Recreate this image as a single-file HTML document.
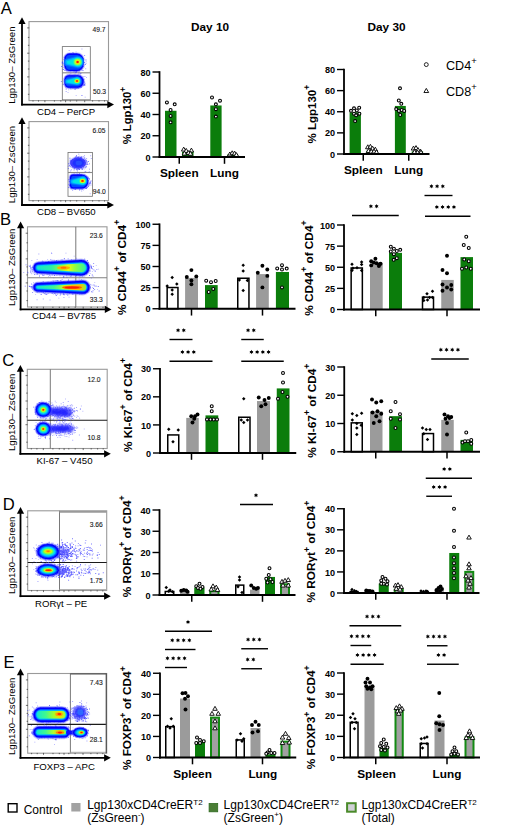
<!DOCTYPE html>
<html><head><meta charset="utf-8"><style>
html,body{margin:0;padding:0;background:#fff;width:520px;height:827px;overflow:hidden}
svg{display:block;font-family:"Liberation Sans", sans-serif}
</style></head><body>
<svg width="520" height="827" viewBox="0 0 520 827">
<defs><filter id="bl" x="-20%" y="-30%" width="140%" height="160%"><feGaussianBlur stdDeviation="0.65"/></filter><filter id="bl2" x="-20%" y="-40%" width="140%" height="180%"><feGaussianBlur stdDeviation="1.1"/></filter><linearGradient id="gB1" gradientUnits="userSpaceOnUse" x1="36" y1="0" x2="88" y2="0"><stop offset="0" stop-color="#10e8d0"/><stop offset="0.3" stop-color="#30f0a0"/><stop offset="0.5" stop-color="#90ff40"/><stop offset="0.62" stop-color="#e8ff10"/><stop offset="0.75" stop-color="#90ff40"/><stop offset="1" stop-color="#20f0b0"/></linearGradient><linearGradient id="gB2" gradientUnits="userSpaceOnUse" x1="36" y1="0" x2="88" y2="0"><stop offset="0" stop-color="#10e8d0"/><stop offset="0.35" stop-color="#40f890"/><stop offset="0.55" stop-color="#c8ff20"/><stop offset="0.7" stop-color="#ffc000"/><stop offset="0.85" stop-color="#ffc000"/><stop offset="1" stop-color="#60ff60"/></linearGradient><linearGradient id="gE1" gradientUnits="userSpaceOnUse" x1="36" y1="0" x2="68" y2="0"><stop offset="0" stop-color="#10e8d0"/><stop offset="0.3" stop-color="#40f890"/><stop offset="0.55" stop-color="#a0ff30"/><stop offset="0.75" stop-color="#f0e000"/><stop offset="0.9" stop-color="#a0ff30"/><stop offset="1" stop-color="#30f0b0"/></linearGradient><linearGradient id="gE2" gradientUnits="userSpaceOnUse" x1="36" y1="0" x2="68" y2="0"><stop offset="0" stop-color="#10e8d0"/><stop offset="0.3" stop-color="#40f890"/><stop offset="0.55" stop-color="#b0ff30"/><stop offset="0.75" stop-color="#ffb000"/><stop offset="0.9" stop-color="#90ff40"/><stop offset="1" stop-color="#30f0b0"/></linearGradient></defs>
<text x="0.7" y="13.8" font-size="16.6">A</text>
<text x="0.0" y="225.2" font-size="16.6">B</text>
<text x="2.3" y="366.4" font-size="16.6">C</text>
<text x="2.7" y="510" font-size="16.6">D</text>
<text x="3.6" y="667.9" font-size="16.6">E</text>
<rect x="29.00" y="21.60" width="79.50" height="79.00" fill="none" stroke="#9a9a9a" stroke-width="1.1"/>
<line x1="27.9" y1="94.3" x2="29.3" y2="94.3" stroke="#333" stroke-width="0.7"/><line x1="27.9" y1="84.8" x2="29.3" y2="84.8" stroke="#333" stroke-width="0.7"/><line x1="27.2" y1="76.9" x2="29.3" y2="76.9" stroke="#333" stroke-width="0.7"/><line x1="27.9" y1="69.0" x2="29.3" y2="69.0" stroke="#333" stroke-width="0.7"/><line x1="27.9" y1="61.1" x2="29.3" y2="61.1" stroke="#333" stroke-width="0.7"/><line x1="27.2" y1="53.2" x2="29.3" y2="53.2" stroke="#333" stroke-width="0.7"/><line x1="27.9" y1="45.3" x2="29.3" y2="45.3" stroke="#333" stroke-width="0.7"/><line x1="27.9" y1="37.4" x2="29.3" y2="37.4" stroke="#333" stroke-width="0.7"/><line x1="27.2" y1="27.9" x2="29.3" y2="27.9" stroke="#333" stroke-width="0.7"/><line x1="33.0" y1="100.3" x2="33.0" y2="101.6" stroke="#333" stroke-width="0.7"/><line x1="38.5" y1="100.3" x2="38.5" y2="101.6" stroke="#333" stroke-width="0.7"/><line x1="44.9" y1="100.3" x2="44.9" y2="102.2" stroke="#333" stroke-width="0.7"/><line x1="54.4" y1="100.3" x2="54.4" y2="101.6" stroke="#333" stroke-width="0.7"/><line x1="60.8" y1="100.3" x2="60.8" y2="101.6" stroke="#333" stroke-width="0.7"/><line x1="65.6" y1="100.3" x2="65.6" y2="102.2" stroke="#333" stroke-width="0.7"/><line x1="70.3" y1="100.3" x2="70.3" y2="101.6" stroke="#333" stroke-width="0.7"/><line x1="76.7" y1="100.3" x2="76.7" y2="101.6" stroke="#333" stroke-width="0.7"/><line x1="84.7" y1="100.3" x2="84.7" y2="102.2" stroke="#333" stroke-width="0.7"/><line x1="92.6" y1="100.3" x2="92.6" y2="101.6" stroke="#333" stroke-width="0.7"/><line x1="99.0" y1="100.3" x2="99.0" y2="101.6" stroke="#333" stroke-width="0.7"/><line x1="104.5" y1="100.3" x2="104.5" y2="101.6" stroke="#333" stroke-width="0.7"/>
<line x1="22" y1="22.3" x2="22" y2="105.5" stroke="#000" stroke-width="1.8"/>
<path d="M18.4 24.0L22 17.3L25.6 24.0Z" fill="#000"/>
<line x1="21.1" y1="104.6" x2="109" y2="104.6" stroke="#000" stroke-width="1.8"/>
<path d="M107.3 101.0L114 104.6L107.3 108.19999999999999Z" fill="#000"/>
<rect x="62.30" y="46.60" width="28.00" height="53.20" fill="none" stroke="#707070" stroke-width="0.8"/>
<text x="105.5" y="31.8" font-size="6.7" text-anchor="end" fill="#1a1a1a" stroke="#1a1a1a" stroke-width="0.12">49.7</text>
<text x="106" y="93.8" font-size="6.7" text-anchor="end" fill="#1a1a1a" stroke="#1a1a1a" stroke-width="0.12">50.3</text>
<line x1="62.3" y1="72.8" x2="90.3" y2="72.8" stroke="#888" stroke-width="1.1"/>
<path d="M78.8 70.1h0.9v0.9h-0.9zM62.7 63.7h0.9v0.9h-0.9zM75.9 71.1h0.9v0.9h-0.9zM61.9 61.5h0.9v0.9h-0.9zM64.9 62.1h0.9v0.9h-0.9zM67.6 68.4h0.9v0.9h-0.9zM63.8 57.0h0.9v0.9h-0.9zM74.9 71.7h0.9v0.9h-0.9zM75.4 75.7h0.9v0.9h-0.9zM73.1 52.8h0.9v0.9h-0.9zM80.4 56.4h0.9v0.9h-0.9zM69.4 69.8h0.9v0.9h-0.9zM61.8 62.6h0.9v0.9h-0.9zM65.9 70.3h0.9v0.9h-0.9zM79.0 69.4h0.9v0.9h-0.9zM82.5 58.5h0.9v0.9h-0.9zM63.8 65.2h0.9v0.9h-0.9zM64.4 63.2h0.9v0.9h-0.9zM78.5 72.7h0.9v0.9h-0.9zM74.7 71.2h0.9v0.9h-0.9zM75.7 53.3h0.9v0.9h-0.9zM84.2 54.9h0.9v0.9h-0.9zM74.1 54.1h0.9v0.9h-0.9zM72.4 52.3h0.9v0.9h-0.9zM82.5 70.1h0.9v0.9h-0.9zM76.6 70.6h0.9v0.9h-0.9zM82.9 58.0h0.9v0.9h-0.9zM67.1 69.3h0.9v0.9h-0.9zM61.3 66.0h0.9v0.9h-0.9zM64.3 69.9h0.9v0.9h-0.9zM84.8 64.1h0.9v0.9h-0.9zM84.2 62.0h0.9v0.9h-0.9zM62.7 62.7h0.9v0.9h-0.9zM73.7 54.1h0.9v0.9h-0.9zM75.7 72.0h0.9v0.9h-0.9zM66.4 55.8h0.9v0.9h-0.9zM77.9 70.4h0.9v0.9h-0.9zM83.0 58.2h0.9v0.9h-0.9zM68.0 70.0h0.9v0.9h-0.9zM81.6 67.8h0.9v0.9h-0.9zM83.0 66.1h0.9v0.9h-0.9zM65.6 69.9h0.9v0.9h-0.9zM69.5 53.6h0.9v0.9h-0.9zM85.5 59.5h0.9v0.9h-0.9zM62.8 69.1h0.9v0.9h-0.9z" fill="#2a2aff" opacity="0.75"/>
<path d="M66.0 57.9h0.9v0.9h-0.9zM81.6 55.9h0.9v0.9h-0.9zM74.0 70.7h0.9v0.9h-0.9zM80.4 56.4h0.9v0.9h-0.9zM77.0 54.2h0.9v0.9h-0.9zM75.6 51.4h0.9v0.9h-0.9zM82.6 65.1h0.9v0.9h-0.9zM73.3 71.0h0.9v0.9h-0.9zM78.9 70.9h0.9v0.9h-0.9zM83.6 66.6h0.9v0.9h-0.9zM85.7 61.3h0.9v0.9h-0.9zM73.5 53.1h0.9v0.9h-0.9zM82.6 60.3h0.9v0.9h-0.9zM64.9 61.1h0.9v0.9h-0.9zM76.0 70.7h0.9v0.9h-0.9zM79.0 54.7h0.9v0.9h-0.9zM63.9 55.7h0.9v0.9h-0.9zM63.2 67.2h0.9v0.9h-0.9zM70.0 71.4h0.9v0.9h-0.9zM64.6 60.6h0.9v0.9h-0.9zM85.6 63.1h0.9v0.9h-0.9zM70.1 54.6h0.9v0.9h-0.9zM66.3 57.8h0.9v0.9h-0.9zM67.4 55.0h0.9v0.9h-0.9zM73.3 72.2h0.9v0.9h-0.9zM63.4 68.8h0.9v0.9h-0.9zM80.4 69.1h0.9v0.9h-0.9zM81.5 67.1h0.9v0.9h-0.9zM65.2 65.1h0.9v0.9h-0.9zM80.5 69.9h0.9v0.9h-0.9zM81.3 69.4h0.9v0.9h-0.9zM64.3 60.2h0.9v0.9h-0.9zM75.8 72.0h0.9v0.9h-0.9zM78.6 70.0h0.9v0.9h-0.9zM71.2 53.2h0.9v0.9h-0.9zM62.9 59.2h0.9v0.9h-0.9zM80.6 56.1h0.9v0.9h-0.9zM75.2 54.3h0.9v0.9h-0.9zM64.9 64.3h0.9v0.9h-0.9zM82.1 65.6h0.9v0.9h-0.9zM71.4 53.5h0.9v0.9h-0.9zM73.6 71.0h0.9v0.9h-0.9zM83.8 64.9h0.9v0.9h-0.9zM65.9 68.4h0.9v0.9h-0.9zM70.4 73.2h0.9v0.9h-0.9z" fill="#5a5aff" opacity="0.5"/>
<path d="M60.9 81.2h0.9v0.9h-0.9zM82.5 85.4h0.9v0.9h-0.9zM64.4 76.7h0.9v0.9h-0.9zM83.1 80.1h0.9v0.9h-0.9zM70.4 87.5h0.9v0.9h-0.9zM63.7 78.6h0.9v0.9h-0.9zM84.1 84.3h0.9v0.9h-0.9zM65.7 88.5h0.9v0.9h-0.9zM69.9 87.4h0.9v0.9h-0.9zM82.1 84.2h0.9v0.9h-0.9zM83.2 84.4h0.9v0.9h-0.9zM62.8 83.9h0.9v0.9h-0.9zM65.6 76.1h0.9v0.9h-0.9zM65.2 83.6h0.9v0.9h-0.9zM63.6 80.6h0.9v0.9h-0.9zM75.6 88.1h0.9v0.9h-0.9zM83.8 83.5h0.9v0.9h-0.9zM71.3 75.2h0.9v0.9h-0.9zM77.9 75.7h0.9v0.9h-0.9zM74.9 88.7h0.9v0.9h-0.9zM65.3 86.5h0.9v0.9h-0.9zM83.1 80.0h0.9v0.9h-0.9zM83.6 85.2h0.9v0.9h-0.9zM72.1 75.3h0.9v0.9h-0.9zM81.4 77.3h0.9v0.9h-0.9zM74.6 73.7h0.9v0.9h-0.9zM68.7 75.1h0.9v0.9h-0.9zM69.4 74.6h0.9v0.9h-0.9zM74.3 88.5h0.9v0.9h-0.9zM66.5 77.0h0.9v0.9h-0.9zM80.4 73.0h0.9v0.9h-0.9zM84.3 81.7h0.9v0.9h-0.9zM70.3 87.4h0.9v0.9h-0.9zM80.5 87.1h0.9v0.9h-0.9zM64.2 79.1h0.9v0.9h-0.9zM83.2 79.1h0.9v0.9h-0.9zM73.5 74.8h0.9v0.9h-0.9zM83.0 79.7h0.9v0.9h-0.9zM71.3 75.3h0.9v0.9h-0.9zM67.3 75.9h0.9v0.9h-0.9z" fill="#2a2aff" opacity="0.75"/>
<path d="M70.1 75.7h0.9v0.9h-0.9zM68.2 89.4h0.9v0.9h-0.9zM73.7 87.9h0.9v0.9h-0.9zM69.8 75.4h0.9v0.9h-0.9zM77.2 87.9h0.9v0.9h-0.9zM66.8 86.0h0.9v0.9h-0.9zM84.2 78.7h0.9v0.9h-0.9zM67.0 77.1h0.9v0.9h-0.9zM72.1 87.9h0.9v0.9h-0.9zM72.5 88.4h0.9v0.9h-0.9zM77.6 87.3h0.9v0.9h-0.9zM77.4 75.7h0.9v0.9h-0.9zM82.5 79.0h0.9v0.9h-0.9zM64.6 81.4h0.9v0.9h-0.9zM84.9 83.2h0.9v0.9h-0.9zM74.7 88.6h0.9v0.9h-0.9zM83.8 81.7h0.9v0.9h-0.9zM70.6 87.2h0.9v0.9h-0.9zM64.0 83.4h0.9v0.9h-0.9zM80.7 86.5h0.9v0.9h-0.9zM76.6 74.9h0.9v0.9h-0.9zM84.5 83.6h0.9v0.9h-0.9zM78.2 88.1h0.9v0.9h-0.9zM75.6 88.2h0.9v0.9h-0.9zM77.7 74.3h0.9v0.9h-0.9zM83.2 75.9h0.9v0.9h-0.9zM83.7 82.1h0.9v0.9h-0.9zM81.6 77.7h0.9v0.9h-0.9zM73.8 75.3h0.9v0.9h-0.9zM83.5 83.9h0.9v0.9h-0.9zM78.4 74.7h0.9v0.9h-0.9zM63.6 82.7h0.9v0.9h-0.9zM77.0 75.2h0.9v0.9h-0.9zM67.8 86.9h0.9v0.9h-0.9zM70.5 88.8h0.9v0.9h-0.9zM84.6 84.8h0.9v0.9h-0.9zM84.7 84.6h0.9v0.9h-0.9zM77.4 87.2h0.9v0.9h-0.9zM72.8 87.7h0.9v0.9h-0.9zM64.7 81.6h0.9v0.9h-0.9z" fill="#5a5aff" opacity="0.5"/>
<path d="M79.0 82.0h0.9v0.9h-0.9zM67.5 53.4h0.9v0.9h-0.9zM84.5 76.0h0.9v0.9h-0.9zM73.0 83.9h0.9v0.9h-0.9zM80.0 75.3h0.9v0.9h-0.9zM65.7 91.0h0.9v0.9h-0.9zM68.7 50.1h0.9v0.9h-0.9zM71.8 75.7h0.9v0.9h-0.9zM77.8 57.1h0.9v0.9h-0.9zM79.6 73.7h0.9v0.9h-0.9zM67.6 92.2h0.9v0.9h-0.9zM81.7 95.1h0.9v0.9h-0.9zM78.9 59.3h0.9v0.9h-0.9zM81.1 94.9h0.9v0.9h-0.9zM75.7 95.2h0.9v0.9h-0.9zM85.3 68.3h0.9v0.9h-0.9zM84.7 96.7h0.9v0.9h-0.9zM81.5 48.6h0.9v0.9h-0.9zM71.7 79.9h0.9v0.9h-0.9zM77.4 87.3h0.9v0.9h-0.9zM78.2 56.4h0.9v0.9h-0.9zM84.5 75.9h0.9v0.9h-0.9zM83.4 58.8h0.9v0.9h-0.9zM86.0 76.9h0.9v0.9h-0.9zM81.1 86.5h0.9v0.9h-0.9z" fill="#4a4aff" opacity="0.55"/>
<g filter="url(#bl)">
<path d="M69.60 52.20 L76.90 52.20 A7.90 7.90 0 0 1 84.80 60.10 L84.80 64.50 A7.90 7.90 0 0 1 76.90 72.40 L69.60 72.40 A6.40 6.40 0 0 1 63.20 66.00 L63.20 58.60 A6.40 6.40 0 0 1 69.60 52.20Z" fill="#6a6aff" opacity="0.35"/>
<path d="M69.60 53.00 L76.90 53.00 A7.10 7.10 0 0 1 84.00 60.10 L84.00 64.50 A7.10 7.10 0 0 1 76.90 71.60 L69.60 71.60 A5.60 5.60 0 0 1 64.00 66.00 L64.00 58.60 A5.60 5.60 0 0 1 69.60 53.00Z" fill="#3535ff" opacity="0.6"/>
<path d="M69.60 53.60 L76.90 53.60 A6.50 6.50 0 0 1 83.40 60.10 L83.40 64.50 A6.50 6.50 0 0 1 76.90 71.00 L69.60 71.00 A5.00 5.00 0 0 1 64.60 66.00 L64.60 58.60 A5.00 5.00 0 0 1 69.60 53.60Z" fill="#0000ff"/>
<path d="M69.60 54.90 L76.90 54.90 A5.20 5.20 0 0 1 82.10 60.10 L82.10 64.50 A5.20 5.20 0 0 1 76.90 69.70 L69.60 69.70 A3.70 3.70 0 0 1 65.90 66.00 L65.90 58.60 A3.70 3.70 0 0 1 69.60 54.90Z" fill="#0048ff"/>
<path d="M66.20 58.65 L77.60 55.74 A6.26 6.26 0 0 1 77.60 68.26 L66.20 65.95 A2.19 3.65 0 0 1 66.20 58.65Z" fill="#0070ff"/>
<path d="M66.80 59.86 L77.60 56.78 A5.22 5.22 0 0 1 77.60 67.22 L66.80 64.74 A1.46 2.44 0 0 1 66.80 59.86Z" fill="#00b4ff"/>
<path d="M67.80 60.91 L77.60 57.65 A4.35 4.35 0 0 1 77.60 66.35 L67.80 63.69 A0.84 1.39 0 0 1 67.80 60.91Z" fill="#00e4e4"/>
<ellipse cx="77.6" cy="62.0" rx="4.21" ry="3.83" fill="#40ff90"/>
<ellipse cx="77.6" cy="62.0" rx="3.25" ry="2.96" fill="#a8ff30"/>
<ellipse cx="77.6" cy="62.0" rx="2.30" ry="2.30" fill="#e8ff10"/>
<ellipse cx="77.6" cy="62.0" rx="1.60" ry="1.60" fill="#ff9a00"/>
<ellipse cx="77.6" cy="62.0" rx="1.10" ry="1.10" fill="#ff1500"/>
</g>
<g filter="url(#bl)">
<path d="M69.10 73.80 L77.60 73.80 A7.40 7.40 0 0 1 85.00 81.20 L85.00 81.80 A7.40 7.40 0 0 1 77.60 89.20 L69.10 89.20 A5.90 5.90 0 0 1 63.20 83.30 L63.20 79.70 A5.90 5.90 0 0 1 69.10 73.80Z" fill="#6a6aff" opacity="0.35"/>
<path d="M69.10 74.60 L77.60 74.60 A6.60 6.60 0 0 1 84.20 81.20 L84.20 81.80 A6.60 6.60 0 0 1 77.60 88.40 L69.10 88.40 A5.10 5.10 0 0 1 64.00 83.30 L64.00 79.70 A5.10 5.10 0 0 1 69.10 74.60Z" fill="#3535ff" opacity="0.6"/>
<path d="M69.10 75.20 L77.60 75.20 A6.00 6.00 0 0 1 83.60 81.20 L83.60 81.80 A6.00 6.00 0 0 1 77.60 87.80 L69.10 87.80 A4.50 4.50 0 0 1 64.60 83.30 L64.60 79.70 A4.50 4.50 0 0 1 69.10 75.20Z" fill="#0000ff"/>
<path d="M69.10 76.50 L77.60 76.50 A4.70 4.70 0 0 1 82.30 81.20 L82.30 81.80 A4.70 4.70 0 0 1 77.60 86.50 L69.10 86.50 A3.20 3.20 0 0 1 65.90 83.30 L65.90 79.70 A3.20 3.20 0 0 1 69.10 76.50Z" fill="#0048ff"/>
<path d="M66.20 78.85 L77.00 76.46 A4.54 4.54 0 0 1 77.00 85.54 L66.20 84.15 A1.59 2.65 0 0 1 66.20 78.85Z" fill="#0070ff"/>
<path d="M66.80 79.74 L77.00 77.22 A3.78 3.78 0 0 1 77.00 84.78 L66.80 83.26 A1.06 1.76 0 0 1 66.80 79.74Z" fill="#00b4ff"/>
<path d="M67.80 80.49 L77.00 77.85 A3.15 3.15 0 0 1 77.00 84.15 L67.80 82.51 A0.60 1.01 0 0 1 67.80 80.49Z" fill="#00e4e4"/>
<ellipse cx="77.0" cy="81.0" rx="3.05" ry="2.08" fill="#40ff90"/>
<ellipse cx="77.0" cy="81.0" rx="2.36" ry="1.61" fill="#a8ff30"/>
<ellipse cx="77.0" cy="81.0" rx="2.30" ry="1.72" fill="#e8ff10"/>
<ellipse cx="77.0" cy="81.0" rx="1.60" ry="1.20" fill="#ff9a00"/>
<ellipse cx="77.0" cy="81.0" rx="1.10" ry="0.83" fill="#ff1500"/>
</g>
<text x="37" y="115.2" font-size="9.6">CD4 – PerCP</text>
<text x="14.6" y="103.8" font-size="9.6" transform="rotate(-90 14.6 103.8)">Lgp130– ZsGreen</text>
<rect x="29.00" y="121.60" width="79.50" height="79.00" fill="none" stroke="#9a9a9a" stroke-width="1.1"/>
<line x1="27.9" y1="194.3" x2="29.3" y2="194.3" stroke="#333" stroke-width="0.7"/><line x1="27.9" y1="184.8" x2="29.3" y2="184.8" stroke="#333" stroke-width="0.7"/><line x1="27.2" y1="176.9" x2="29.3" y2="176.9" stroke="#333" stroke-width="0.7"/><line x1="27.9" y1="169.0" x2="29.3" y2="169.0" stroke="#333" stroke-width="0.7"/><line x1="27.9" y1="161.1" x2="29.3" y2="161.1" stroke="#333" stroke-width="0.7"/><line x1="27.2" y1="153.2" x2="29.3" y2="153.2" stroke="#333" stroke-width="0.7"/><line x1="27.9" y1="145.3" x2="29.3" y2="145.3" stroke="#333" stroke-width="0.7"/><line x1="27.9" y1="137.4" x2="29.3" y2="137.4" stroke="#333" stroke-width="0.7"/><line x1="27.2" y1="127.9" x2="29.3" y2="127.9" stroke="#333" stroke-width="0.7"/><line x1="33.0" y1="200.3" x2="33.0" y2="201.6" stroke="#333" stroke-width="0.7"/><line x1="38.5" y1="200.3" x2="38.5" y2="201.6" stroke="#333" stroke-width="0.7"/><line x1="44.9" y1="200.3" x2="44.9" y2="202.2" stroke="#333" stroke-width="0.7"/><line x1="54.4" y1="200.3" x2="54.4" y2="201.6" stroke="#333" stroke-width="0.7"/><line x1="60.8" y1="200.3" x2="60.8" y2="201.6" stroke="#333" stroke-width="0.7"/><line x1="65.6" y1="200.3" x2="65.6" y2="202.2" stroke="#333" stroke-width="0.7"/><line x1="70.3" y1="200.3" x2="70.3" y2="201.6" stroke="#333" stroke-width="0.7"/><line x1="76.7" y1="200.3" x2="76.7" y2="201.6" stroke="#333" stroke-width="0.7"/><line x1="84.7" y1="200.3" x2="84.7" y2="202.2" stroke="#333" stroke-width="0.7"/><line x1="92.6" y1="200.3" x2="92.6" y2="201.6" stroke="#333" stroke-width="0.7"/><line x1="99.0" y1="200.3" x2="99.0" y2="201.6" stroke="#333" stroke-width="0.7"/><line x1="104.5" y1="200.3" x2="104.5" y2="201.6" stroke="#333" stroke-width="0.7"/>
<line x1="22" y1="122.3" x2="22" y2="205.9" stroke="#000" stroke-width="1.8"/>
<path d="M18.4 124.0L22 117.3L25.6 124.0Z" fill="#000"/>
<line x1="21.1" y1="205" x2="109" y2="205" stroke="#000" stroke-width="1.8"/>
<path d="M107.3 201.4L114 205L107.3 208.6Z" fill="#000"/>
<rect x="68.00" y="152.50" width="24.50" height="43.80" fill="none" stroke="#707070" stroke-width="0.8"/>
<text x="105.5" y="133" font-size="6.7" text-anchor="end" fill="#1a1a1a" stroke="#1a1a1a" stroke-width="0.12">6.05</text>
<text x="105.8" y="193.8" font-size="6.7" text-anchor="end" fill="#1a1a1a" stroke="#1a1a1a" stroke-width="0.12">94.0</text>
<line x1="68" y1="172.5" x2="92.5" y2="172.5" stroke="#888" stroke-width="1.1"/>
<path d="M85.7 166.3h0.9v0.9h-0.9zM85.3 159.9h0.9v0.9h-0.9zM69.5 157.8h0.9v0.9h-0.9zM76.2 168.7h0.9v0.9h-0.9zM83.7 157.4h0.9v0.9h-0.9zM86.7 161.8h0.9v0.9h-0.9zM81.5 156.4h0.9v0.9h-0.9zM87.3 164.0h0.9v0.9h-0.9zM69.6 165.9h0.9v0.9h-0.9zM68.8 165.1h0.9v0.9h-0.9zM79.1 169.1h0.9v0.9h-0.9zM84.8 167.3h0.9v0.9h-0.9zM86.2 160.6h0.9v0.9h-0.9zM81.8 169.0h0.9v0.9h-0.9zM74.3 168.4h0.9v0.9h-0.9zM73.8 168.0h0.9v0.9h-0.9zM72.6 167.3h0.9v0.9h-0.9zM89.0 163.4h0.9v0.9h-0.9zM83.2 167.2h0.9v0.9h-0.9zM77.6 168.6h0.9v0.9h-0.9zM69.9 160.6h0.9v0.9h-0.9zM78.2 157.3h0.9v0.9h-0.9zM75.6 156.0h0.9v0.9h-0.9zM72.4 166.9h0.9v0.9h-0.9zM68.3 163.3h0.9v0.9h-0.9zM80.8 157.1h0.9v0.9h-0.9zM81.4 168.2h0.9v0.9h-0.9zM81.6 168.6h0.9v0.9h-0.9zM80.1 157.0h0.9v0.9h-0.9zM74.6 157.2h0.9v0.9h-0.9z" fill="#2a2aff" opacity="0.75"/>
<path d="M80.4 156.6h0.9v0.9h-0.9zM69.5 159.6h0.9v0.9h-0.9zM80.6 157.1h0.9v0.9h-0.9zM76.7 169.7h0.9v0.9h-0.9zM70.5 166.6h0.9v0.9h-0.9zM87.0 163.1h0.9v0.9h-0.9zM67.8 166.0h0.9v0.9h-0.9zM76.0 157.6h0.9v0.9h-0.9zM83.7 168.6h0.9v0.9h-0.9zM86.1 166.3h0.9v0.9h-0.9zM84.5 157.7h0.9v0.9h-0.9zM70.3 160.6h0.9v0.9h-0.9zM86.4 161.4h0.9v0.9h-0.9zM81.7 168.6h0.9v0.9h-0.9zM76.5 169.0h0.9v0.9h-0.9zM76.3 169.7h0.9v0.9h-0.9zM81.5 168.2h0.9v0.9h-0.9zM85.9 161.4h0.9v0.9h-0.9zM77.6 168.7h0.9v0.9h-0.9zM87.8 161.0h0.9v0.9h-0.9zM79.3 155.8h0.9v0.9h-0.9zM85.8 161.9h0.9v0.9h-0.9zM80.0 157.3h0.9v0.9h-0.9zM85.8 163.8h0.9v0.9h-0.9zM78.2 168.6h0.9v0.9h-0.9zM70.0 160.7h0.9v0.9h-0.9zM78.1 156.0h0.9v0.9h-0.9zM80.7 157.1h0.9v0.9h-0.9zM76.4 156.0h0.9v0.9h-0.9zM71.0 160.5h0.9v0.9h-0.9z" fill="#5a5aff" opacity="0.5"/>
<path d="M83.2 175.5h0.9v0.9h-0.9zM88.7 184.2h0.9v0.9h-0.9zM69.6 184.3h0.9v0.9h-0.9zM69.6 177.4h0.9v0.9h-0.9zM72.8 186.9h0.9v0.9h-0.9zM85.8 187.3h0.9v0.9h-0.9zM87.0 176.9h0.9v0.9h-0.9zM69.8 178.1h0.9v0.9h-0.9zM79.5 174.2h0.9v0.9h-0.9zM86.2 187.8h0.9v0.9h-0.9zM87.1 187.2h0.9v0.9h-0.9zM74.9 189.1h0.9v0.9h-0.9zM72.3 186.4h0.9v0.9h-0.9zM84.8 176.2h0.9v0.9h-0.9zM90.3 182.8h0.9v0.9h-0.9zM89.7 182.2h0.9v0.9h-0.9zM85.2 187.9h0.9v0.9h-0.9zM71.6 178.3h0.9v0.9h-0.9zM79.0 173.3h0.9v0.9h-0.9zM86.1 176.8h0.9v0.9h-0.9zM68.2 186.9h0.9v0.9h-0.9zM88.8 183.0h0.9v0.9h-0.9zM87.4 177.9h0.9v0.9h-0.9zM89.1 178.6h0.9v0.9h-0.9zM69.2 185.1h0.9v0.9h-0.9zM85.4 188.1h0.9v0.9h-0.9zM90.6 180.5h0.9v0.9h-0.9zM75.4 188.4h0.9v0.9h-0.9zM88.0 180.2h0.9v0.9h-0.9zM79.2 189.6h0.9v0.9h-0.9zM76.9 173.7h0.9v0.9h-0.9zM88.1 177.6h0.9v0.9h-0.9zM77.3 174.6h0.9v0.9h-0.9zM88.0 185.8h0.9v0.9h-0.9zM69.4 181.3h0.9v0.9h-0.9zM68.6 179.1h0.9v0.9h-0.9zM71.8 177.7h0.9v0.9h-0.9zM84.4 174.6h0.9v0.9h-0.9zM73.0 175.9h0.9v0.9h-0.9zM68.8 180.8h0.9v0.9h-0.9z" fill="#2a2aff" opacity="0.75"/>
<path d="M84.9 175.9h0.9v0.9h-0.9zM87.4 185.7h0.9v0.9h-0.9zM81.2 189.2h0.9v0.9h-0.9zM89.7 182.0h0.9v0.9h-0.9zM73.3 175.6h0.9v0.9h-0.9zM87.7 185.0h0.9v0.9h-0.9zM76.0 172.3h0.9v0.9h-0.9zM82.1 189.0h0.9v0.9h-0.9zM72.8 187.8h0.9v0.9h-0.9zM81.1 190.5h0.9v0.9h-0.9zM79.4 189.0h0.9v0.9h-0.9zM89.9 181.8h0.9v0.9h-0.9zM69.1 183.7h0.9v0.9h-0.9zM71.5 186.3h0.9v0.9h-0.9zM71.0 188.3h0.9v0.9h-0.9zM86.1 188.1h0.9v0.9h-0.9zM70.4 185.5h0.9v0.9h-0.9zM88.1 183.9h0.9v0.9h-0.9zM90.6 184.5h0.9v0.9h-0.9zM68.3 179.4h0.9v0.9h-0.9zM89.9 180.9h0.9v0.9h-0.9zM82.9 189.7h0.9v0.9h-0.9zM81.3 190.7h0.9v0.9h-0.9zM88.7 182.7h0.9v0.9h-0.9zM88.7 177.9h0.9v0.9h-0.9zM68.1 184.1h0.9v0.9h-0.9zM85.6 175.4h0.9v0.9h-0.9zM86.4 177.0h0.9v0.9h-0.9zM88.5 183.2h0.9v0.9h-0.9zM87.4 176.0h0.9v0.9h-0.9zM86.3 175.8h0.9v0.9h-0.9zM69.8 182.7h0.9v0.9h-0.9zM70.0 176.4h0.9v0.9h-0.9zM89.3 185.0h0.9v0.9h-0.9zM89.7 183.3h0.9v0.9h-0.9zM87.4 177.1h0.9v0.9h-0.9zM72.2 190.1h0.9v0.9h-0.9zM85.9 187.1h0.9v0.9h-0.9zM74.2 189.2h0.9v0.9h-0.9zM87.6 186.0h0.9v0.9h-0.9z" fill="#5a5aff" opacity="0.5"/>
<path d="M85.4 164.3h0.9v0.9h-0.9zM88.8 171.2h0.9v0.9h-0.9zM74.8 162.9h0.9v0.9h-0.9zM88.2 171.9h0.9v0.9h-0.9zM85.3 171.0h0.9v0.9h-0.9zM85.8 160.3h0.9v0.9h-0.9zM84.9 159.1h0.9v0.9h-0.9zM90.8 158.1h0.9v0.9h-0.9zM83.2 156.2h0.9v0.9h-0.9zM69.9 188.4h0.9v0.9h-0.9zM90.3 155.3h0.9v0.9h-0.9zM76.5 169.0h0.9v0.9h-0.9zM70.2 170.6h0.9v0.9h-0.9zM77.1 170.5h0.9v0.9h-0.9zM84.4 171.4h0.9v0.9h-0.9zM69.8 180.5h0.9v0.9h-0.9zM73.7 173.2h0.9v0.9h-0.9zM84.1 155.3h0.9v0.9h-0.9zM89.7 193.3h0.9v0.9h-0.9zM79.7 159.2h0.9v0.9h-0.9z" fill="#4a4aff" opacity="0.55"/>
<path d="M71.4 164.5h0.9v0.9h-0.9zM75.3 156.9h0.9v0.9h-0.9zM78.9 157.8h0.9v0.9h-0.9zM77.3 160.5h0.9v0.9h-0.9zM78.7 168.5h0.9v0.9h-0.9zM74.9 161.6h0.9v0.9h-0.9zM78.8 162.3h0.9v0.9h-0.9zM79.7 161.8h0.9v0.9h-0.9zM73.1 162.0h0.9v0.9h-0.9zM77.5 162.6h0.9v0.9h-0.9zM76.9 162.1h0.9v0.9h-0.9zM79.9 165.0h0.9v0.9h-0.9zM80.3 162.1h0.9v0.9h-0.9zM77.0 157.2h0.9v0.9h-0.9zM81.0 159.7h0.9v0.9h-0.9zM74.1 163.2h0.9v0.9h-0.9zM75.7 166.3h0.9v0.9h-0.9zM83.3 160.0h0.9v0.9h-0.9zM84.2 165.3h0.9v0.9h-0.9zM85.8 163.5h0.9v0.9h-0.9zM78.8 163.6h0.9v0.9h-0.9zM76.8 161.5h0.9v0.9h-0.9zM74.0 162.4h0.9v0.9h-0.9zM79.9 163.9h0.9v0.9h-0.9zM81.2 156.5h0.9v0.9h-0.9zM88.1 161.2h0.9v0.9h-0.9zM79.1 162.6h0.9v0.9h-0.9zM67.9 168.0h0.9v0.9h-0.9zM84.3 157.7h0.9v0.9h-0.9zM77.0 164.3h0.9v0.9h-0.9zM79.7 165.1h0.9v0.9h-0.9zM81.8 164.9h0.9v0.9h-0.9zM78.5 165.9h0.9v0.9h-0.9zM70.9 169.4h0.9v0.9h-0.9zM84.3 161.6h0.9v0.9h-0.9zM76.7 161.2h0.9v0.9h-0.9zM80.8 159.7h0.9v0.9h-0.9zM82.5 167.9h0.9v0.9h-0.9zM74.7 161.3h0.9v0.9h-0.9zM80.5 167.3h0.9v0.9h-0.9zM79.7 164.0h0.9v0.9h-0.9zM79.8 161.7h0.9v0.9h-0.9zM77.2 159.8h0.9v0.9h-0.9zM72.9 163.9h0.9v0.9h-0.9zM76.8 161.6h0.9v0.9h-0.9zM78.9 162.2h0.9v0.9h-0.9zM78.5 158.9h0.9v0.9h-0.9zM73.6 169.5h0.9v0.9h-0.9zM77.1 160.3h0.9v0.9h-0.9zM84.0 159.7h0.9v0.9h-0.9zM79.8 163.8h0.9v0.9h-0.9zM72.4 163.3h0.9v0.9h-0.9zM78.3 153.7h0.9v0.9h-0.9zM80.9 161.3h0.9v0.9h-0.9zM74.5 160.6h0.9v0.9h-0.9zM76.4 161.6h0.9v0.9h-0.9zM75.5 166.3h0.9v0.9h-0.9zM86.2 158.3h0.9v0.9h-0.9zM83.3 161.9h0.9v0.9h-0.9zM89.1 168.7h0.9v0.9h-0.9zM74.6 160.7h0.9v0.9h-0.9zM74.0 161.5h0.9v0.9h-0.9zM76.0 155.1h0.9v0.9h-0.9zM73.6 160.9h0.9v0.9h-0.9zM79.0 161.3h0.9v0.9h-0.9zM75.3 162.7h0.9v0.9h-0.9zM78.3 174.1h0.9v0.9h-0.9zM74.2 165.4h0.9v0.9h-0.9zM76.4 166.0h0.9v0.9h-0.9zM79.0 159.7h0.9v0.9h-0.9z" fill="#2a2aff" opacity="0.6"/>
<g filter="url(#bl)">
<ellipse cx="78.00" cy="163.00" rx="9.20" ry="6.67" fill="#6a6aff" opacity="0.35"/>
<ellipse cx="78.00" cy="163.00" rx="8.00" ry="5.80" fill="#2424ff" opacity="0.85"/>
<ellipse cx="78.30" cy="163.00" rx="5.60" ry="4.06" fill="#1a30ff" opacity="0.85"/>
<ellipse cx="78.80" cy="163.00" rx="3.20" ry="2.32" fill="#2a5aff" opacity="0.7"/>
</g>
<g filter="url(#bl)">
<path d="M73.00 173.20 L81.70 173.20 A7.90 7.90 0 0 1 89.60 181.10 L89.60 182.10 A7.90 7.90 0 0 1 81.70 190.00 L73.00 190.00 A4.40 4.40 0 0 1 68.60 185.60 L68.60 177.60 A4.40 4.40 0 0 1 73.00 173.20Z" fill="#6a6aff" opacity="0.35"/>
<path d="M73.00 174.00 L81.70 174.00 A7.10 7.10 0 0 1 88.80 181.10 L88.80 182.10 A7.10 7.10 0 0 1 81.70 189.20 L73.00 189.20 A3.60 3.60 0 0 1 69.40 185.60 L69.40 177.60 A3.60 3.60 0 0 1 73.00 174.00Z" fill="#3535ff" opacity="0.6"/>
<path d="M73.00 174.60 L81.70 174.60 A6.50 6.50 0 0 1 88.20 181.10 L88.20 182.10 A6.50 6.50 0 0 1 81.70 188.60 L73.00 188.60 A3.00 3.00 0 0 1 70.00 185.60 L70.00 177.60 A3.00 3.00 0 0 1 73.00 174.60Z" fill="#0000ff"/>
<path d="M73.00 175.90 L81.70 175.90 A5.20 5.20 0 0 1 86.90 181.10 L86.90 182.10 A5.20 5.20 0 0 1 81.70 187.30 L73.00 187.30 A1.70 1.70 0 0 1 71.30 185.60 L71.30 177.60 A1.70 1.70 0 0 1 73.00 175.90Z" fill="#0048ff"/>
<path d="M71.60 178.66 L82.50 175.86 A5.04 5.04 0 0 1 82.50 185.94 L71.60 184.54 A1.76 2.94 0 0 1 71.60 178.66Z" fill="#0070ff"/>
<path d="M72.20 179.64 L82.50 176.70 A4.20 4.20 0 0 1 82.50 185.10 L72.20 183.56 A1.18 1.96 0 0 1 72.20 179.64Z" fill="#00b4ff"/>
<path d="M73.20 180.48 L82.50 177.40 A3.50 3.50 0 0 1 82.50 184.40 L73.20 182.72 A0.67 1.12 0 0 1 73.20 180.48Z" fill="#00e4e4"/>
<ellipse cx="82.5" cy="180.9" rx="3.39" ry="2.46" fill="#40ff90"/>
<ellipse cx="82.5" cy="180.9" rx="2.62" ry="1.90" fill="#a8ff30"/>
<ellipse cx="82.5" cy="180.9" rx="2.30" ry="1.84" fill="#e8ff10"/>
<ellipse cx="82.5" cy="180.9" rx="1.60" ry="1.28" fill="#ff9a00"/>
<ellipse cx="82.5" cy="180.9" rx="1.10" ry="0.88" fill="#ff1500"/>
</g>
<text x="37" y="215.3" font-size="9.6">CD8 – BV650</text>
<text x="14.6" y="203.2" font-size="9.6" transform="rotate(-90 14.6 203.2)">Lgp130– ZsGreen</text>
<rect x="27.50" y="226.80" width="79.50" height="80.20" fill="none" stroke="#9a9a9a" stroke-width="1.1"/>
<line x1="26.4" y1="300.6" x2="27.8" y2="300.6" stroke="#333" stroke-width="0.7"/><line x1="26.4" y1="291.0" x2="27.8" y2="291.0" stroke="#333" stroke-width="0.7"/><line x1="25.7" y1="282.9" x2="27.8" y2="282.9" stroke="#333" stroke-width="0.7"/><line x1="26.4" y1="274.9" x2="27.8" y2="274.9" stroke="#333" stroke-width="0.7"/><line x1="26.4" y1="266.9" x2="27.8" y2="266.9" stroke="#333" stroke-width="0.7"/><line x1="25.7" y1="258.9" x2="27.8" y2="258.9" stroke="#333" stroke-width="0.7"/><line x1="26.4" y1="250.9" x2="27.8" y2="250.9" stroke="#333" stroke-width="0.7"/><line x1="26.4" y1="242.8" x2="27.8" y2="242.8" stroke="#333" stroke-width="0.7"/><line x1="25.7" y1="233.2" x2="27.8" y2="233.2" stroke="#333" stroke-width="0.7"/><line x1="31.5" y1="306.7" x2="31.5" y2="308.0" stroke="#333" stroke-width="0.7"/><line x1="37.0" y1="306.7" x2="37.0" y2="308.0" stroke="#333" stroke-width="0.7"/><line x1="43.4" y1="306.7" x2="43.4" y2="308.6" stroke="#333" stroke-width="0.7"/><line x1="52.9" y1="306.7" x2="52.9" y2="308.0" stroke="#333" stroke-width="0.7"/><line x1="59.3" y1="306.7" x2="59.3" y2="308.0" stroke="#333" stroke-width="0.7"/><line x1="64.1" y1="306.7" x2="64.1" y2="308.6" stroke="#333" stroke-width="0.7"/><line x1="68.8" y1="306.7" x2="68.8" y2="308.0" stroke="#333" stroke-width="0.7"/><line x1="75.2" y1="306.7" x2="75.2" y2="308.0" stroke="#333" stroke-width="0.7"/><line x1="83.2" y1="306.7" x2="83.2" y2="308.6" stroke="#333" stroke-width="0.7"/><line x1="91.1" y1="306.7" x2="91.1" y2="308.0" stroke="#333" stroke-width="0.7"/><line x1="97.5" y1="306.7" x2="97.5" y2="308.0" stroke="#333" stroke-width="0.7"/><line x1="103.0" y1="306.7" x2="103.0" y2="308.0" stroke="#333" stroke-width="0.7"/>
<line x1="20.6" y1="226.6" x2="20.6" y2="310.29999999999995" stroke="#000" stroke-width="1.8"/>
<path d="M17.0 228.29999999999998L20.6 221.6L24.200000000000003 228.29999999999998Z" fill="#000"/>
<line x1="19.700000000000003" y1="309.4" x2="106.5" y2="309.4" stroke="#000" stroke-width="1.8"/>
<path d="M104.8 305.79999999999995L111.5 309.4L104.8 313.0Z" fill="#000"/>
<line x1="75.8" y1="226.8" x2="75.8" y2="307" stroke="#6a6a6a" stroke-width="0.9"/>
<line x1="27.5" y1="277.7" x2="107" y2="277.7" stroke="#808080" stroke-width="1.1"/>
<text x="102.8" y="238.4" font-size="6.7" text-anchor="end" fill="#1a1a1a" stroke="#1a1a1a" stroke-width="0.12">23.6</text>
<text x="102.8" y="302.4" font-size="6.7" text-anchor="end" fill="#1a1a1a" stroke="#1a1a1a" stroke-width="0.12">33.3</text>
<path d="M30.5 268.6h0.9v0.9h-0.9zM34.7 263.1h0.9v0.9h-0.9zM95.0 270.7h0.9v0.9h-0.9zM34.3 274.1h0.9v0.9h-0.9zM92.9 265.9h0.9v0.9h-0.9zM25.6 264.4h0.9v0.9h-0.9zM43.6 274.5h0.9v0.9h-0.9zM32.2 266.5h0.9v0.9h-0.9zM76.1 275.1h0.9v0.9h-0.9zM34.8 265.3h0.9v0.9h-0.9zM34.2 271.4h0.9v0.9h-0.9zM61.4 259.6h0.9v0.9h-0.9zM93.4 269.4h0.9v0.9h-0.9zM92.0 268.4h0.9v0.9h-0.9zM36.7 273.7h0.9v0.9h-0.9zM29.2 265.8h0.9v0.9h-0.9zM90.7 265.6h0.9v0.9h-0.9zM63.9 258.2h0.9v0.9h-0.9zM30.4 267.0h0.9v0.9h-0.9zM70.6 275.6h0.9v0.9h-0.9zM85.6 271.8h0.9v0.9h-0.9zM93.2 263.2h0.9v0.9h-0.9zM54.0 275.1h0.9v0.9h-0.9zM78.4 261.4h0.9v0.9h-0.9zM33.5 268.7h0.9v0.9h-0.9zM47.5 274.1h0.9v0.9h-0.9zM80.2 275.2h0.9v0.9h-0.9zM70.8 274.5h0.9v0.9h-0.9zM79.5 262.2h0.9v0.9h-0.9zM48.1 261.0h0.9v0.9h-0.9zM27.4 272.3h0.9v0.9h-0.9zM91.1 267.6h0.9v0.9h-0.9zM87.0 260.0h0.9v0.9h-0.9zM37.1 273.3h0.9v0.9h-0.9zM32.6 267.0h0.9v0.9h-0.9zM89.6 270.5h0.9v0.9h-0.9zM39.1 275.6h0.9v0.9h-0.9zM42.1 260.8h0.9v0.9h-0.9zM76.5 274.4h0.9v0.9h-0.9zM29.9 265.8h0.9v0.9h-0.9zM56.0 260.4h0.9v0.9h-0.9zM85.0 272.4h0.9v0.9h-0.9zM91.8 274.6h0.9v0.9h-0.9zM66.5 276.7h0.9v0.9h-0.9zM51.7 274.6h0.9v0.9h-0.9zM30.5 267.6h0.9v0.9h-0.9zM50.4 259.3h0.9v0.9h-0.9zM89.1 267.4h0.9v0.9h-0.9zM43.4 261.4h0.9v0.9h-0.9zM81.8 261.5h0.9v0.9h-0.9zM67.7 258.4h0.9v0.9h-0.9zM85.5 272.5h0.9v0.9h-0.9zM88.1 262.2h0.9v0.9h-0.9zM79.8 261.1h0.9v0.9h-0.9zM85.9 264.4h0.9v0.9h-0.9zM96.4 269.2h0.9v0.9h-0.9zM33.8 267.9h0.9v0.9h-0.9zM86.5 271.9h0.9v0.9h-0.9zM34.8 269.9h0.9v0.9h-0.9zM87.6 264.8h0.9v0.9h-0.9zM63.3 275.9h0.9v0.9h-0.9zM89.4 266.3h0.9v0.9h-0.9zM41.2 273.4h0.9v0.9h-0.9zM86.0 273.6h0.9v0.9h-0.9zM91.2 267.9h0.9v0.9h-0.9zM75.9 274.9h0.9v0.9h-0.9zM31.5 269.6h0.9v0.9h-0.9zM49.0 274.5h0.9v0.9h-0.9zM31.8 271.3h0.9v0.9h-0.9zM63.3 276.8h0.9v0.9h-0.9zM86.4 272.2h0.9v0.9h-0.9zM85.4 273.1h0.9v0.9h-0.9zM89.0 275.0h0.9v0.9h-0.9zM42.1 274.6h0.9v0.9h-0.9zM91.0 266.6h0.9v0.9h-0.9zM30.2 271.6h0.9v0.9h-0.9zM56.0 260.1h0.9v0.9h-0.9zM81.7 262.7h0.9v0.9h-0.9zM84.6 272.5h0.9v0.9h-0.9zM52.5 259.8h0.9v0.9h-0.9z" fill="#2a2aff" opacity="0.75"/>
<path d="M33.4 272.5h0.9v0.9h-0.9zM31.7 267.3h0.9v0.9h-0.9zM66.1 274.9h0.9v0.9h-0.9zM89.7 273.1h0.9v0.9h-0.9zM30.1 264.8h0.9v0.9h-0.9zM50.9 260.4h0.9v0.9h-0.9zM84.2 263.1h0.9v0.9h-0.9zM98.2 268.7h0.9v0.9h-0.9zM34.9 264.4h0.9v0.9h-0.9zM84.5 261.8h0.9v0.9h-0.9zM59.9 259.7h0.9v0.9h-0.9zM82.1 276.0h0.9v0.9h-0.9zM62.4 259.6h0.9v0.9h-0.9zM76.2 257.8h0.9v0.9h-0.9zM53.3 277.4h0.9v0.9h-0.9zM88.2 272.1h0.9v0.9h-0.9zM73.7 260.1h0.9v0.9h-0.9zM82.6 273.1h0.9v0.9h-0.9zM38.9 273.1h0.9v0.9h-0.9zM77.3 260.8h0.9v0.9h-0.9zM75.9 273.8h0.9v0.9h-0.9zM91.0 266.7h0.9v0.9h-0.9zM34.3 264.3h0.9v0.9h-0.9zM91.9 270.9h0.9v0.9h-0.9zM83.2 262.2h0.9v0.9h-0.9zM79.4 276.3h0.9v0.9h-0.9zM80.7 261.1h0.9v0.9h-0.9zM95.8 265.2h0.9v0.9h-0.9zM81.9 261.6h0.9v0.9h-0.9zM23.3 272.1h0.9v0.9h-0.9zM40.9 272.6h0.9v0.9h-0.9zM46.4 260.9h0.9v0.9h-0.9zM86.0 273.2h0.9v0.9h-0.9zM54.4 260.5h0.9v0.9h-0.9zM81.0 262.4h0.9v0.9h-0.9zM42.9 275.0h0.9v0.9h-0.9zM40.8 261.3h0.9v0.9h-0.9zM48.2 275.9h0.9v0.9h-0.9zM53.9 259.8h0.9v0.9h-0.9zM47.6 261.2h0.9v0.9h-0.9zM38.4 262.7h0.9v0.9h-0.9zM36.4 273.7h0.9v0.9h-0.9zM77.0 273.7h0.9v0.9h-0.9zM33.9 272.3h0.9v0.9h-0.9zM33.3 268.0h0.9v0.9h-0.9zM45.0 261.3h0.9v0.9h-0.9zM34.6 266.6h0.9v0.9h-0.9zM30.1 270.3h0.9v0.9h-0.9zM32.0 269.0h0.9v0.9h-0.9zM86.9 272.6h0.9v0.9h-0.9zM94.3 270.6h0.9v0.9h-0.9zM87.8 263.6h0.9v0.9h-0.9zM68.7 275.4h0.9v0.9h-0.9zM71.8 260.7h0.9v0.9h-0.9zM30.8 272.7h0.9v0.9h-0.9zM57.6 259.8h0.9v0.9h-0.9zM42.8 261.3h0.9v0.9h-0.9zM63.9 258.5h0.9v0.9h-0.9zM32.5 270.2h0.9v0.9h-0.9zM89.9 264.5h0.9v0.9h-0.9zM66.0 274.9h0.9v0.9h-0.9zM80.7 273.1h0.9v0.9h-0.9zM87.0 264.4h0.9v0.9h-0.9zM39.9 273.3h0.9v0.9h-0.9zM28.5 265.4h0.9v0.9h-0.9zM49.1 261.2h0.9v0.9h-0.9zM47.2 258.9h0.9v0.9h-0.9zM27.1 271.4h0.9v0.9h-0.9zM56.4 275.1h0.9v0.9h-0.9zM50.0 275.5h0.9v0.9h-0.9zM47.6 260.9h0.9v0.9h-0.9zM65.8 259.9h0.9v0.9h-0.9zM74.7 261.0h0.9v0.9h-0.9zM84.7 263.4h0.9v0.9h-0.9zM88.7 265.3h0.9v0.9h-0.9zM34.1 266.5h0.9v0.9h-0.9zM38.1 271.5h0.9v0.9h-0.9zM71.0 259.1h0.9v0.9h-0.9zM74.3 274.4h0.9v0.9h-0.9zM45.9 274.2h0.9v0.9h-0.9z" fill="#5a5aff" opacity="0.5"/>
<path d="M36.4 282.8h0.9v0.9h-0.9zM40.7 281.9h0.9v0.9h-0.9zM79.4 293.8h0.9v0.9h-0.9zM67.2 281.1h0.9v0.9h-0.9zM68.1 280.6h0.9v0.9h-0.9zM90.0 287.2h0.9v0.9h-0.9zM42.7 281.3h0.9v0.9h-0.9zM28.8 285.7h0.9v0.9h-0.9zM40.8 283.4h0.9v0.9h-0.9zM64.3 281.3h0.9v0.9h-0.9zM52.7 281.2h0.9v0.9h-0.9zM98.7 290.6h0.9v0.9h-0.9zM60.2 280.3h0.9v0.9h-0.9zM74.7 282.1h0.9v0.9h-0.9zM55.2 293.6h0.9v0.9h-0.9zM30.3 285.9h0.9v0.9h-0.9zM36.6 291.9h0.9v0.9h-0.9zM46.3 294.1h0.9v0.9h-0.9zM29.0 286.0h0.9v0.9h-0.9zM31.3 286.0h0.9v0.9h-0.9zM95.4 285.7h0.9v0.9h-0.9zM55.8 295.0h0.9v0.9h-0.9zM40.8 291.3h0.9v0.9h-0.9zM35.2 285.3h0.9v0.9h-0.9zM69.1 293.2h0.9v0.9h-0.9zM43.7 293.2h0.9v0.9h-0.9zM74.5 281.6h0.9v0.9h-0.9zM39.3 283.1h0.9v0.9h-0.9zM37.6 283.8h0.9v0.9h-0.9zM44.7 293.4h0.9v0.9h-0.9zM67.7 281.4h0.9v0.9h-0.9zM91.2 291.3h0.9v0.9h-0.9zM60.3 293.6h0.9v0.9h-0.9zM77.6 292.2h0.9v0.9h-0.9zM94.2 288.9h0.9v0.9h-0.9zM32.2 291.9h0.9v0.9h-0.9zM93.5 284.5h0.9v0.9h-0.9zM79.5 282.7h0.9v0.9h-0.9zM33.9 285.1h0.9v0.9h-0.9zM93.1 288.1h0.9v0.9h-0.9zM31.7 287.3h0.9v0.9h-0.9zM82.5 283.2h0.9v0.9h-0.9zM84.9 283.6h0.9v0.9h-0.9zM63.7 294.3h0.9v0.9h-0.9zM57.7 280.5h0.9v0.9h-0.9zM40.7 294.1h0.9v0.9h-0.9zM83.6 282.1h0.9v0.9h-0.9zM62.7 281.2h0.9v0.9h-0.9zM83.8 293.4h0.9v0.9h-0.9zM54.2 293.1h0.9v0.9h-0.9zM37.6 290.7h0.9v0.9h-0.9zM64.4 281.3h0.9v0.9h-0.9zM87.0 284.5h0.9v0.9h-0.9zM57.1 280.4h0.9v0.9h-0.9zM97.8 286.1h0.9v0.9h-0.9zM76.8 293.0h0.9v0.9h-0.9zM81.4 293.6h0.9v0.9h-0.9zM72.2 281.5h0.9v0.9h-0.9zM55.7 280.3h0.9v0.9h-0.9zM61.0 280.7h0.9v0.9h-0.9zM24.8 285.7h0.9v0.9h-0.9zM68.0 279.4h0.9v0.9h-0.9zM67.2 281.0h0.9v0.9h-0.9zM56.8 293.7h0.9v0.9h-0.9zM83.9 291.2h0.9v0.9h-0.9zM42.9 291.7h0.9v0.9h-0.9zM79.9 281.9h0.9v0.9h-0.9zM87.2 289.5h0.9v0.9h-0.9zM51.7 293.1h0.9v0.9h-0.9zM35.6 285.1h0.9v0.9h-0.9zM88.5 289.0h0.9v0.9h-0.9zM31.3 287.3h0.9v0.9h-0.9zM57.0 280.2h0.9v0.9h-0.9zM72.3 293.5h0.9v0.9h-0.9zM88.7 285.0h0.9v0.9h-0.9zM67.2 294.5h0.9v0.9h-0.9zM50.7 281.6h0.9v0.9h-0.9zM44.9 293.6h0.9v0.9h-0.9zM42.9 292.1h0.9v0.9h-0.9zM63.0 293.5h0.9v0.9h-0.9z" fill="#2a2aff" opacity="0.75"/>
<path d="M90.3 284.1h0.9v0.9h-0.9zM63.1 280.9h0.9v0.9h-0.9zM69.3 281.0h0.9v0.9h-0.9zM31.9 286.1h0.9v0.9h-0.9zM85.1 292.7h0.9v0.9h-0.9zM87.7 290.6h0.9v0.9h-0.9zM44.8 292.0h0.9v0.9h-0.9zM88.8 289.6h0.9v0.9h-0.9zM94.2 285.4h0.9v0.9h-0.9zM32.1 289.2h0.9v0.9h-0.9zM30.0 286.7h0.9v0.9h-0.9zM95.9 285.7h0.9v0.9h-0.9zM93.9 285.6h0.9v0.9h-0.9zM39.5 282.7h0.9v0.9h-0.9zM87.6 284.3h0.9v0.9h-0.9zM67.5 293.1h0.9v0.9h-0.9zM34.3 286.2h0.9v0.9h-0.9zM68.4 294.4h0.9v0.9h-0.9zM89.8 286.0h0.9v0.9h-0.9zM54.6 280.3h0.9v0.9h-0.9zM47.7 281.5h0.9v0.9h-0.9zM87.2 283.5h0.9v0.9h-0.9zM46.6 282.3h0.9v0.9h-0.9zM92.3 291.9h0.9v0.9h-0.9zM71.8 293.5h0.9v0.9h-0.9zM87.6 291.6h0.9v0.9h-0.9zM81.3 281.6h0.9v0.9h-0.9zM88.3 289.1h0.9v0.9h-0.9zM40.6 291.7h0.9v0.9h-0.9zM65.9 293.9h0.9v0.9h-0.9zM52.5 280.2h0.9v0.9h-0.9zM63.7 293.7h0.9v0.9h-0.9zM87.9 288.6h0.9v0.9h-0.9zM37.6 291.8h0.9v0.9h-0.9zM59.7 295.0h0.9v0.9h-0.9zM31.7 288.0h0.9v0.9h-0.9zM86.7 291.7h0.9v0.9h-0.9zM46.4 292.9h0.9v0.9h-0.9zM93.2 290.3h0.9v0.9h-0.9zM89.2 290.4h0.9v0.9h-0.9zM36.1 289.9h0.9v0.9h-0.9zM90.2 287.9h0.9v0.9h-0.9zM39.5 283.4h0.9v0.9h-0.9zM52.9 293.5h0.9v0.9h-0.9zM94.3 281.9h0.9v0.9h-0.9zM33.0 282.2h0.9v0.9h-0.9zM47.7 293.0h0.9v0.9h-0.9zM89.2 288.0h0.9v0.9h-0.9zM75.7 282.3h0.9v0.9h-0.9zM63.2 293.4h0.9v0.9h-0.9zM97.1 288.9h0.9v0.9h-0.9zM31.2 283.3h0.9v0.9h-0.9zM78.7 278.6h0.9v0.9h-0.9zM35.8 284.6h0.9v0.9h-0.9zM62.7 293.8h0.9v0.9h-0.9zM78.8 280.9h0.9v0.9h-0.9zM79.2 292.8h0.9v0.9h-0.9zM84.4 292.4h0.9v0.9h-0.9zM87.6 285.5h0.9v0.9h-0.9zM33.2 286.3h0.9v0.9h-0.9zM53.3 280.6h0.9v0.9h-0.9zM72.8 293.6h0.9v0.9h-0.9zM42.4 292.0h0.9v0.9h-0.9zM40.8 282.7h0.9v0.9h-0.9zM83.0 283.7h0.9v0.9h-0.9zM88.6 291.4h0.9v0.9h-0.9zM82.9 282.4h0.9v0.9h-0.9zM39.2 291.9h0.9v0.9h-0.9zM92.0 290.6h0.9v0.9h-0.9zM36.0 283.9h0.9v0.9h-0.9zM41.5 282.5h0.9v0.9h-0.9zM31.6 287.3h0.9v0.9h-0.9zM33.6 289.6h0.9v0.9h-0.9zM77.6 293.1h0.9v0.9h-0.9zM37.1 284.4h0.9v0.9h-0.9zM73.8 292.8h0.9v0.9h-0.9zM31.3 284.0h0.9v0.9h-0.9zM38.4 283.6h0.9v0.9h-0.9zM35.2 294.2h0.9v0.9h-0.9zM60.1 293.5h0.9v0.9h-0.9z" fill="#5a5aff" opacity="0.5"/>
<path d="M55.1 282.3h0.9v0.9h-0.9zM90.9 277.7h0.9v0.9h-0.9zM92.2 297.4h0.9v0.9h-0.9zM70.5 267.2h0.9v0.9h-0.9zM81.0 279.3h0.9v0.9h-0.9zM63.5 297.0h0.9v0.9h-0.9zM68.6 296.7h0.9v0.9h-0.9zM92.6 275.8h0.9v0.9h-0.9zM70.3 276.2h0.9v0.9h-0.9zM75.1 281.5h0.9v0.9h-0.9zM59.5 275.3h0.9v0.9h-0.9zM65.5 252.7h0.9v0.9h-0.9zM78.3 285.7h0.9v0.9h-0.9zM92.2 286.9h0.9v0.9h-0.9zM65.8 286.7h0.9v0.9h-0.9zM31.4 259.9h0.9v0.9h-0.9zM71.9 270.7h0.9v0.9h-0.9zM61.7 279.1h0.9v0.9h-0.9zM58.4 297.7h0.9v0.9h-0.9zM44.7 286.9h0.9v0.9h-0.9zM51.3 253.1h0.9v0.9h-0.9zM54.8 272.3h0.9v0.9h-0.9zM31.4 273.4h0.9v0.9h-0.9zM73.7 255.7h0.9v0.9h-0.9zM91.6 284.7h0.9v0.9h-0.9zM83.2 260.6h0.9v0.9h-0.9zM49.6 299.5h0.9v0.9h-0.9zM56.2 260.4h0.9v0.9h-0.9zM79.9 280.5h0.9v0.9h-0.9zM51.0 252.6h0.9v0.9h-0.9zM53.1 269.5h0.9v0.9h-0.9zM56.3 286.8h0.9v0.9h-0.9zM74.6 281.5h0.9v0.9h-0.9zM36.6 299.3h0.9v0.9h-0.9zM38.4 253.6h0.9v0.9h-0.9zM63.1 293.4h0.9v0.9h-0.9zM84.9 269.3h0.9v0.9h-0.9zM36.7 258.9h0.9v0.9h-0.9zM42.8 298.5h0.9v0.9h-0.9zM84.2 258.5h0.9v0.9h-0.9z" fill="#4a4aff" opacity="0.55"/>
<g filter="url(#bl)">
<path d="M38.65 260.95 L81.55 258.45 A9.35 9.35 0 0 1 81.55 277.15 L38.65 274.65 A6.85 6.85 0 0 1 38.65 260.95Z" fill="#6a6aff" opacity="0.35"/>
<path d="M38.65 261.85 L81.55 259.35 A8.45 8.45 0 0 1 81.55 276.25 L38.65 273.75 A5.95 5.95 0 0 1 38.65 261.85Z" fill="#3535ff" opacity="0.6"/>
<path d="M38.65 262.55 L81.55 260.05 A7.75 7.75 0 0 1 81.55 275.55 L38.65 273.05 A5.25 5.25 0 0 1 38.65 262.55Z" fill="#0000ff"/>
<path d="M38.65 263.95 L81.55 261.45 A6.35 6.35 0 0 1 81.55 274.15 L38.65 271.65 A3.85 3.85 0 0 1 38.65 263.95Z" fill="#0030ff"/>
<path d="M38.65 264.65 L81.55 262.15 A5.65 5.65 0 0 1 81.55 273.45 L38.65 270.95 A3.15 3.15 0 0 1 38.65 264.65Z" fill="#0080ff"/>
<path d="M38.65 265.35 L81.55 262.85 A4.95 4.95 0 0 1 81.55 272.75 L38.65 270.25 A2.45 2.45 0 0 1 38.65 265.35Z" fill="#00c8ff"/>
<path d="M38.65 266.05 L81.55 263.55 A4.25 4.25 0 0 1 81.55 272.05 L38.65 269.55 A1.75 1.75 0 0 1 38.65 266.05Z" fill="url(#gB1)"/>
<ellipse cx="63.5" cy="267.8" rx="6.5" ry="1.8" fill="#ffb000"/>
<ellipse cx="63.5" cy="267.8" rx="3" ry="1.0" fill="#ff7000"/>
</g>
<g filter="url(#bl)">
<path d="M37.65 281.45 L83.00 279.20 A8.10 8.10 0 0 1 83.00 295.40 L37.65 293.15 A5.85 5.85 0 0 1 37.65 281.45Z" fill="#6a6aff" opacity="0.35"/>
<path d="M37.65 282.35 L83.00 280.10 A7.20 7.20 0 0 1 83.00 294.50 L37.65 292.25 A4.95 4.95 0 0 1 37.65 282.35Z" fill="#3535ff" opacity="0.6"/>
<path d="M37.65 283.05 L83.00 280.80 A6.50 6.50 0 0 1 83.00 293.80 L37.65 291.55 A4.25 4.25 0 0 1 37.65 283.05Z" fill="#0000ff"/>
<path d="M37.65 284.45 L83.00 282.20 A5.10 5.10 0 0 1 83.00 292.40 L37.65 290.15 A2.85 2.85 0 0 1 37.65 284.45Z" fill="#0030ff"/>
<path d="M37.65 285.15 L83.00 282.90 A4.40 4.40 0 0 1 83.00 291.70 L37.65 289.45 A2.15 2.15 0 0 1 37.65 285.15Z" fill="#0080ff"/>
<path d="M37.65 285.85 L83.00 283.60 A3.70 3.70 0 0 1 83.00 291.00 L37.65 288.75 A1.45 1.45 0 0 1 37.65 285.85Z" fill="#00c8ff"/>
<path d="M37.65 286.35 L83.00 284.10 A3.20 3.20 0 0 1 83.00 290.50 L37.65 288.25 A0.95 0.95 0 0 1 37.65 286.35Z" fill="url(#gB2)"/>
<ellipse cx="72" cy="287.5" rx="10" ry="1.6" fill="#ff6000"/>
<ellipse cx="72" cy="287.5" rx="7" ry="1.0" fill="#ff1a00"/>
</g>
<text x="32" y="319" font-size="9.6">CD44 – BV785</text>
<text x="14.5" y="306" font-size="9.6" transform="rotate(-90 14.5 306)">Lgp130– ZsGreen</text>
<rect x="27.30" y="369.30" width="79.90" height="79.20" fill="none" stroke="#9a9a9a" stroke-width="1.1"/>
<line x1="26.2" y1="442.2" x2="27.6" y2="442.2" stroke="#333" stroke-width="0.7"/><line x1="26.2" y1="432.7" x2="27.6" y2="432.7" stroke="#333" stroke-width="0.7"/><line x1="25.5" y1="424.7" x2="27.6" y2="424.7" stroke="#333" stroke-width="0.7"/><line x1="26.2" y1="416.8" x2="27.6" y2="416.8" stroke="#333" stroke-width="0.7"/><line x1="26.2" y1="408.9" x2="27.6" y2="408.9" stroke="#333" stroke-width="0.7"/><line x1="25.5" y1="401.0" x2="27.6" y2="401.0" stroke="#333" stroke-width="0.7"/><line x1="26.2" y1="393.1" x2="27.6" y2="393.1" stroke="#333" stroke-width="0.7"/><line x1="26.2" y1="385.1" x2="27.6" y2="385.1" stroke="#333" stroke-width="0.7"/><line x1="25.5" y1="375.6" x2="27.6" y2="375.6" stroke="#333" stroke-width="0.7"/><line x1="31.3" y1="448.2" x2="31.3" y2="449.5" stroke="#333" stroke-width="0.7"/><line x1="36.9" y1="448.2" x2="36.9" y2="449.5" stroke="#333" stroke-width="0.7"/><line x1="43.3" y1="448.2" x2="43.3" y2="450.1" stroke="#333" stroke-width="0.7"/><line x1="52.9" y1="448.2" x2="52.9" y2="449.5" stroke="#333" stroke-width="0.7"/><line x1="59.3" y1="448.2" x2="59.3" y2="449.5" stroke="#333" stroke-width="0.7"/><line x1="64.1" y1="448.2" x2="64.1" y2="450.1" stroke="#333" stroke-width="0.7"/><line x1="68.8" y1="448.2" x2="68.8" y2="449.5" stroke="#333" stroke-width="0.7"/><line x1="75.2" y1="448.2" x2="75.2" y2="449.5" stroke="#333" stroke-width="0.7"/><line x1="83.2" y1="448.2" x2="83.2" y2="450.1" stroke="#333" stroke-width="0.7"/><line x1="91.2" y1="448.2" x2="91.2" y2="449.5" stroke="#333" stroke-width="0.7"/><line x1="97.6" y1="448.2" x2="97.6" y2="449.5" stroke="#333" stroke-width="0.7"/><line x1="103.2" y1="448.2" x2="103.2" y2="449.5" stroke="#333" stroke-width="0.7"/>
<line x1="20.4" y1="370.1" x2="20.4" y2="454.7" stroke="#000" stroke-width="1.8"/>
<path d="M16.799999999999997 371.8L20.4 365.1L24.0 371.8Z" fill="#000"/>
<line x1="19.5" y1="453.8" x2="105.8" y2="453.8" stroke="#000" stroke-width="1.8"/>
<path d="M104.1 450.2L110.8 453.8L104.1 457.40000000000003Z" fill="#000"/>
<line x1="50.3" y1="369.3" x2="50.3" y2="448.5" stroke="#6a6a6a" stroke-width="0.9"/>
<line x1="27.3" y1="420.3" x2="107.2" y2="420.3" stroke="#1a1a1a" stroke-width="1.1"/>
<text x="100.5" y="381.6" font-size="6.7" text-anchor="end" fill="#1a1a1a" stroke="#1a1a1a" stroke-width="0.12">12.0</text>
<text x="100.5" y="440.2" font-size="6.7" text-anchor="end" fill="#1a1a1a" stroke="#1a1a1a" stroke-width="0.12">10.8</text>
<path d="M62.8 401.9h0.9v0.9h-0.9zM74.0 407.8h0.9v0.9h-0.9zM60.1 413.4h0.9v0.9h-0.9zM52.2 414.2h0.9v0.9h-0.9zM70.3 405.4h0.9v0.9h-0.9zM70.7 407.6h0.9v0.9h-0.9zM57.6 414.2h0.9v0.9h-0.9zM71.2 412.5h0.9v0.9h-0.9zM49.8 414.7h0.9v0.9h-0.9zM54.7 409.1h0.9v0.9h-0.9zM69.8 408.7h0.9v0.9h-0.9zM71.8 416.2h0.9v0.9h-0.9zM65.1 412.5h0.9v0.9h-0.9zM55.4 412.8h0.9v0.9h-0.9zM60.0 409.9h0.9v0.9h-0.9zM54.1 416.3h0.9v0.9h-0.9zM66.6 412.4h0.9v0.9h-0.9zM56.2 412.1h0.9v0.9h-0.9zM57.7 412.0h0.9v0.9h-0.9zM70.0 413.5h0.9v0.9h-0.9zM54.4 415.5h0.9v0.9h-0.9zM54.2 410.9h0.9v0.9h-0.9zM69.0 410.2h0.9v0.9h-0.9zM53.2 413.1h0.9v0.9h-0.9zM69.1 413.5h0.9v0.9h-0.9zM59.1 413.8h0.9v0.9h-0.9zM60.3 415.2h0.9v0.9h-0.9zM58.5 409.2h0.9v0.9h-0.9zM54.8 409.6h0.9v0.9h-0.9zM64.7 407.1h0.9v0.9h-0.9zM55.3 415.0h0.9v0.9h-0.9zM63.7 412.0h0.9v0.9h-0.9zM63.1 409.6h0.9v0.9h-0.9zM63.2 413.8h0.9v0.9h-0.9zM62.2 411.9h0.9v0.9h-0.9zM70.1 413.9h0.9v0.9h-0.9zM62.2 417.7h0.9v0.9h-0.9zM50.3 414.1h0.9v0.9h-0.9zM65.8 409.3h0.9v0.9h-0.9zM49.6 414.2h0.9v0.9h-0.9zM57.5 414.4h0.9v0.9h-0.9zM66.2 413.0h0.9v0.9h-0.9zM51.8 415.4h0.9v0.9h-0.9zM59.6 415.6h0.9v0.9h-0.9zM76.1 406.9h0.9v0.9h-0.9zM72.1 409.7h0.9v0.9h-0.9zM54.6 409.1h0.9v0.9h-0.9zM59.4 407.7h0.9v0.9h-0.9zM61.7 408.1h0.9v0.9h-0.9zM50.9 414.2h0.9v0.9h-0.9zM53.0 415.1h0.9v0.9h-0.9zM66.3 406.7h0.9v0.9h-0.9zM61.9 414.8h0.9v0.9h-0.9zM69.5 418.1h0.9v0.9h-0.9zM72.1 408.8h0.9v0.9h-0.9zM50.8 408.9h0.9v0.9h-0.9zM64.8 410.5h0.9v0.9h-0.9zM64.0 411.4h0.9v0.9h-0.9zM62.5 411.7h0.9v0.9h-0.9zM51.7 414.3h0.9v0.9h-0.9zM58.2 416.0h0.9v0.9h-0.9zM59.6 412.3h0.9v0.9h-0.9zM59.5 418.0h0.9v0.9h-0.9zM58.7 409.2h0.9v0.9h-0.9zM66.0 414.1h0.9v0.9h-0.9zM63.3 418.7h0.9v0.9h-0.9zM64.8 414.3h0.9v0.9h-0.9zM58.9 412.1h0.9v0.9h-0.9zM63.6 410.0h0.9v0.9h-0.9zM52.0 415.3h0.9v0.9h-0.9zM72.1 418.1h0.9v0.9h-0.9zM60.4 410.7h0.9v0.9h-0.9zM69.9 412.2h0.9v0.9h-0.9zM56.7 416.4h0.9v0.9h-0.9zM67.1 415.8h0.9v0.9h-0.9zM52.9 411.6h0.9v0.9h-0.9zM59.5 420.7h0.9v0.9h-0.9zM54.6 413.7h0.9v0.9h-0.9zM64.5 410.7h0.9v0.9h-0.9zM57.5 406.4h0.9v0.9h-0.9zM57.2 407.1h0.9v0.9h-0.9zM65.5 419.3h0.9v0.9h-0.9zM48.7 413.7h0.9v0.9h-0.9zM56.9 411.8h0.9v0.9h-0.9zM58.6 415.1h0.9v0.9h-0.9zM61.3 409.2h0.9v0.9h-0.9zM59.4 417.2h0.9v0.9h-0.9zM61.4 413.0h0.9v0.9h-0.9zM50.3 409.5h0.9v0.9h-0.9zM62.0 418.6h0.9v0.9h-0.9zM57.7 418.7h0.9v0.9h-0.9zM66.0 408.1h0.9v0.9h-0.9zM59.4 412.0h0.9v0.9h-0.9zM69.9 411.2h0.9v0.9h-0.9zM55.8 412.9h0.9v0.9h-0.9zM51.2 409.6h0.9v0.9h-0.9zM64.0 415.3h0.9v0.9h-0.9zM70.7 416.2h0.9v0.9h-0.9zM55.2 407.2h0.9v0.9h-0.9zM60.5 410.3h0.9v0.9h-0.9zM64.7 412.5h0.9v0.9h-0.9zM57.2 413.3h0.9v0.9h-0.9zM50.0 410.2h0.9v0.9h-0.9zM53.7 411.8h0.9v0.9h-0.9zM60.9 415.0h0.9v0.9h-0.9zM52.0 410.7h0.9v0.9h-0.9zM60.6 417.8h0.9v0.9h-0.9zM59.6 411.2h0.9v0.9h-0.9zM64.4 419.0h0.9v0.9h-0.9zM59.4 412.4h0.9v0.9h-0.9zM61.5 411.7h0.9v0.9h-0.9zM59.0 414.3h0.9v0.9h-0.9zM79.9 408.5h0.9v0.9h-0.9zM67.3 415.6h0.9v0.9h-0.9zM65.3 413.0h0.9v0.9h-0.9zM63.0 414.1h0.9v0.9h-0.9zM62.3 412.5h0.9v0.9h-0.9zM64.5 414.0h0.9v0.9h-0.9zM49.0 410.6h0.9v0.9h-0.9zM76.3 410.1h0.9v0.9h-0.9zM62.7 410.5h0.9v0.9h-0.9zM61.5 408.5h0.9v0.9h-0.9zM60.7 403.4h0.9v0.9h-0.9zM67.4 404.9h0.9v0.9h-0.9zM65.3 407.0h0.9v0.9h-0.9zM57.3 408.9h0.9v0.9h-0.9zM62.2 410.3h0.9v0.9h-0.9zM60.0 407.6h0.9v0.9h-0.9zM56.9 413.6h0.9v0.9h-0.9zM58.5 411.7h0.9v0.9h-0.9zM61.0 415.7h0.9v0.9h-0.9zM64.6 411.4h0.9v0.9h-0.9zM62.4 412.0h0.9v0.9h-0.9zM52.2 410.4h0.9v0.9h-0.9zM55.5 413.2h0.9v0.9h-0.9zM56.5 412.8h0.9v0.9h-0.9zM72.2 405.4h0.9v0.9h-0.9zM59.0 414.5h0.9v0.9h-0.9zM55.4 412.3h0.9v0.9h-0.9zM73.5 410.0h0.9v0.9h-0.9zM66.3 408.0h0.9v0.9h-0.9zM66.5 413.6h0.9v0.9h-0.9zM59.1 419.8h0.9v0.9h-0.9zM58.2 412.0h0.9v0.9h-0.9zM72.2 412.3h0.9v0.9h-0.9zM63.8 414.2h0.9v0.9h-0.9zM54.0 411.5h0.9v0.9h-0.9zM74.3 415.7h0.9v0.9h-0.9zM73.1 414.8h0.9v0.9h-0.9zM61.4 414.7h0.9v0.9h-0.9zM63.1 412.9h0.9v0.9h-0.9zM61.5 414.7h0.9v0.9h-0.9zM70.6 412.8h0.9v0.9h-0.9zM55.5 412.0h0.9v0.9h-0.9zM63.2 414.5h0.9v0.9h-0.9zM62.2 414.3h0.9v0.9h-0.9zM63.8 410.6h0.9v0.9h-0.9zM69.3 410.0h0.9v0.9h-0.9zM59.3 417.0h0.9v0.9h-0.9zM56.2 414.0h0.9v0.9h-0.9zM64.7 416.9h0.9v0.9h-0.9zM68.6 414.1h0.9v0.9h-0.9zM56.9 413.4h0.9v0.9h-0.9zM49.8 412.5h0.9v0.9h-0.9zM57.5 414.8h0.9v0.9h-0.9zM62.0 409.8h0.9v0.9h-0.9zM62.4 417.8h0.9v0.9h-0.9zM63.1 410.6h0.9v0.9h-0.9zM64.3 408.6h0.9v0.9h-0.9zM64.6 415.6h0.9v0.9h-0.9zM70.0 409.9h0.9v0.9h-0.9zM52.9 409.1h0.9v0.9h-0.9zM67.8 400.9h0.9v0.9h-0.9zM69.3 409.5h0.9v0.9h-0.9zM60.3 411.1h0.9v0.9h-0.9zM56.7 408.8h0.9v0.9h-0.9zM59.3 412.0h0.9v0.9h-0.9zM57.7 417.4h0.9v0.9h-0.9zM64.3 405.9h0.9v0.9h-0.9zM55.5 415.4h0.9v0.9h-0.9zM69.5 414.5h0.9v0.9h-0.9zM68.8 406.9h0.9v0.9h-0.9zM68.8 414.3h0.9v0.9h-0.9zM54.3 408.8h0.9v0.9h-0.9zM67.2 415.9h0.9v0.9h-0.9zM74.0 410.9h0.9v0.9h-0.9zM60.4 414.4h0.9v0.9h-0.9zM63.4 412.0h0.9v0.9h-0.9zM61.0 407.3h0.9v0.9h-0.9zM70.8 410.4h0.9v0.9h-0.9zM53.7 411.2h0.9v0.9h-0.9zM65.3 414.7h0.9v0.9h-0.9zM57.5 415.4h0.9v0.9h-0.9zM57.8 416.5h0.9v0.9h-0.9zM62.8 409.4h0.9v0.9h-0.9zM67.4 413.3h0.9v0.9h-0.9zM63.9 416.2h0.9v0.9h-0.9zM51.0 411.7h0.9v0.9h-0.9zM56.8 418.3h0.9v0.9h-0.9zM56.0 415.6h0.9v0.9h-0.9zM56.1 413.2h0.9v0.9h-0.9zM79.2 417.7h0.9v0.9h-0.9zM56.4 409.6h0.9v0.9h-0.9zM52.5 418.7h0.9v0.9h-0.9zM64.4 416.8h0.9v0.9h-0.9zM53.5 406.4h0.9v0.9h-0.9zM53.1 411.3h0.9v0.9h-0.9zM60.0 415.9h0.9v0.9h-0.9zM49.1 415.0h0.9v0.9h-0.9zM56.0 414.0h0.9v0.9h-0.9zM55.6 410.8h0.9v0.9h-0.9zM53.2 411.0h0.9v0.9h-0.9zM53.5 411.6h0.9v0.9h-0.9zM63.8 409.8h0.9v0.9h-0.9zM64.8 408.5h0.9v0.9h-0.9zM57.2 412.4h0.9v0.9h-0.9zM68.8 415.2h0.9v0.9h-0.9zM52.6 410.9h0.9v0.9h-0.9zM74.6 410.5h0.9v0.9h-0.9zM53.1 418.4h0.9v0.9h-0.9zM65.3 413.3h0.9v0.9h-0.9zM51.8 413.1h0.9v0.9h-0.9zM51.1 409.9h0.9v0.9h-0.9zM70.8 418.5h0.9v0.9h-0.9zM56.5 412.1h0.9v0.9h-0.9zM65.3 407.1h0.9v0.9h-0.9zM56.6 410.4h0.9v0.9h-0.9zM72.2 418.2h0.9v0.9h-0.9zM54.9 409.4h0.9v0.9h-0.9zM57.0 408.3h0.9v0.9h-0.9zM51.3 412.5h0.9v0.9h-0.9zM73.5 410.4h0.9v0.9h-0.9zM53.2 418.5h0.9v0.9h-0.9zM52.9 409.8h0.9v0.9h-0.9zM59.7 408.2h0.9v0.9h-0.9zM62.8 419.5h0.9v0.9h-0.9zM54.8 416.4h0.9v0.9h-0.9zM56.5 415.5h0.9v0.9h-0.9zM56.7 415.4h0.9v0.9h-0.9zM70.6 409.4h0.9v0.9h-0.9zM66.9 410.2h0.9v0.9h-0.9zM62.1 411.7h0.9v0.9h-0.9zM49.4 411.7h0.9v0.9h-0.9zM58.4 408.7h0.9v0.9h-0.9zM48.8 417.9h0.9v0.9h-0.9zM59.9 411.8h0.9v0.9h-0.9zM58.2 413.6h0.9v0.9h-0.9zM59.6 416.7h0.9v0.9h-0.9zM66.2 412.6h0.9v0.9h-0.9zM71.8 412.1h0.9v0.9h-0.9zM60.0 408.0h0.9v0.9h-0.9zM63.5 411.9h0.9v0.9h-0.9zM62.1 421.2h0.9v0.9h-0.9zM56.9 415.1h0.9v0.9h-0.9zM56.0 412.9h0.9v0.9h-0.9zM61.9 415.6h0.9v0.9h-0.9zM54.3 412.7h0.9v0.9h-0.9zM56.0 409.1h0.9v0.9h-0.9zM62.5 406.1h0.9v0.9h-0.9zM58.7 406.9h0.9v0.9h-0.9z" fill="#2a2aff" opacity="0.6"/>
<path d="M65.6 424.7h0.9v0.9h-0.9zM58.0 427.2h0.9v0.9h-0.9zM59.7 432.2h0.9v0.9h-0.9zM55.2 424.7h0.9v0.9h-0.9zM50.8 426.6h0.9v0.9h-0.9zM65.6 423.0h0.9v0.9h-0.9zM65.6 425.8h0.9v0.9h-0.9zM64.5 430.3h0.9v0.9h-0.9zM59.9 429.1h0.9v0.9h-0.9zM69.4 422.8h0.9v0.9h-0.9zM60.0 429.0h0.9v0.9h-0.9zM51.7 425.4h0.9v0.9h-0.9zM56.1 435.1h0.9v0.9h-0.9zM54.8 424.1h0.9v0.9h-0.9zM62.2 424.1h0.9v0.9h-0.9zM60.3 427.3h0.9v0.9h-0.9zM61.2 426.7h0.9v0.9h-0.9zM56.7 427.8h0.9v0.9h-0.9zM67.2 426.9h0.9v0.9h-0.9zM52.1 428.2h0.9v0.9h-0.9zM71.0 423.3h0.9v0.9h-0.9zM59.9 434.5h0.9v0.9h-0.9zM48.4 428.7h0.9v0.9h-0.9zM63.4 430.6h0.9v0.9h-0.9zM72.5 428.3h0.9v0.9h-0.9zM67.7 427.8h0.9v0.9h-0.9zM61.6 431.9h0.9v0.9h-0.9zM54.9 426.5h0.9v0.9h-0.9zM63.8 427.3h0.9v0.9h-0.9zM60.8 430.0h0.9v0.9h-0.9zM48.9 427.9h0.9v0.9h-0.9zM53.0 426.5h0.9v0.9h-0.9zM52.2 425.6h0.9v0.9h-0.9zM65.4 426.7h0.9v0.9h-0.9zM57.9 430.8h0.9v0.9h-0.9zM59.7 423.4h0.9v0.9h-0.9zM54.3 425.3h0.9v0.9h-0.9zM58.6 434.8h0.9v0.9h-0.9zM62.6 431.8h0.9v0.9h-0.9zM61.0 428.5h0.9v0.9h-0.9zM54.1 427.1h0.9v0.9h-0.9zM62.0 428.7h0.9v0.9h-0.9zM68.4 428.3h0.9v0.9h-0.9zM59.4 431.3h0.9v0.9h-0.9zM57.2 425.2h0.9v0.9h-0.9zM56.1 421.7h0.9v0.9h-0.9zM54.7 429.8h0.9v0.9h-0.9zM50.2 425.8h0.9v0.9h-0.9zM54.4 429.7h0.9v0.9h-0.9zM63.2 429.6h0.9v0.9h-0.9zM61.4 426.4h0.9v0.9h-0.9zM74.1 427.5h0.9v0.9h-0.9zM49.2 428.3h0.9v0.9h-0.9zM58.4 430.0h0.9v0.9h-0.9zM55.2 433.3h0.9v0.9h-0.9zM60.9 426.2h0.9v0.9h-0.9zM63.2 428.6h0.9v0.9h-0.9zM62.8 425.5h0.9v0.9h-0.9zM62.6 426.5h0.9v0.9h-0.9zM52.6 432.0h0.9v0.9h-0.9zM60.3 428.8h0.9v0.9h-0.9zM60.1 426.2h0.9v0.9h-0.9zM57.6 433.0h0.9v0.9h-0.9zM58.5 427.9h0.9v0.9h-0.9zM73.7 426.6h0.9v0.9h-0.9zM58.0 420.1h0.9v0.9h-0.9zM61.2 427.8h0.9v0.9h-0.9zM75.0 430.1h0.9v0.9h-0.9zM74.0 429.9h0.9v0.9h-0.9zM62.3 429.7h0.9v0.9h-0.9zM56.1 430.3h0.9v0.9h-0.9zM64.4 426.2h0.9v0.9h-0.9zM69.9 431.9h0.9v0.9h-0.9zM66.9 427.8h0.9v0.9h-0.9zM58.9 429.1h0.9v0.9h-0.9zM62.1 431.2h0.9v0.9h-0.9zM62.1 425.8h0.9v0.9h-0.9zM67.4 426.3h0.9v0.9h-0.9zM52.8 426.0h0.9v0.9h-0.9zM49.4 429.1h0.9v0.9h-0.9zM61.5 424.9h0.9v0.9h-0.9zM58.9 429.9h0.9v0.9h-0.9zM69.7 430.4h0.9v0.9h-0.9zM62.0 425.2h0.9v0.9h-0.9zM56.0 432.8h0.9v0.9h-0.9zM55.2 431.2h0.9v0.9h-0.9zM60.7 426.6h0.9v0.9h-0.9zM53.1 426.3h0.9v0.9h-0.9zM64.9 431.8h0.9v0.9h-0.9zM48.2 426.1h0.9v0.9h-0.9zM55.8 426.5h0.9v0.9h-0.9zM57.9 432.3h0.9v0.9h-0.9zM61.8 427.1h0.9v0.9h-0.9zM59.5 426.7h0.9v0.9h-0.9zM61.8 429.4h0.9v0.9h-0.9zM52.9 430.5h0.9v0.9h-0.9zM70.1 433.9h0.9v0.9h-0.9zM65.0 424.5h0.9v0.9h-0.9zM57.6 429.0h0.9v0.9h-0.9zM62.1 432.1h0.9v0.9h-0.9zM67.6 428.7h0.9v0.9h-0.9zM57.1 424.6h0.9v0.9h-0.9zM75.1 427.4h0.9v0.9h-0.9zM72.5 429.3h0.9v0.9h-0.9zM69.8 431.7h0.9v0.9h-0.9zM67.0 425.4h0.9v0.9h-0.9zM58.6 428.0h0.9v0.9h-0.9zM59.1 428.0h0.9v0.9h-0.9zM51.0 430.3h0.9v0.9h-0.9zM60.7 434.7h0.9v0.9h-0.9zM74.8 430.2h0.9v0.9h-0.9zM53.0 429.8h0.9v0.9h-0.9zM58.4 426.0h0.9v0.9h-0.9zM52.4 429.3h0.9v0.9h-0.9zM63.8 428.4h0.9v0.9h-0.9zM59.5 423.8h0.9v0.9h-0.9zM55.9 426.2h0.9v0.9h-0.9zM67.2 423.7h0.9v0.9h-0.9zM60.0 429.3h0.9v0.9h-0.9zM52.9 424.2h0.9v0.9h-0.9zM49.4 427.5h0.9v0.9h-0.9zM67.9 433.3h0.9v0.9h-0.9zM65.3 431.2h0.9v0.9h-0.9zM57.1 427.6h0.9v0.9h-0.9zM54.1 426.2h0.9v0.9h-0.9zM58.5 428.4h0.9v0.9h-0.9zM70.4 426.3h0.9v0.9h-0.9zM60.4 431.5h0.9v0.9h-0.9zM55.9 433.4h0.9v0.9h-0.9zM64.7 429.3h0.9v0.9h-0.9zM66.4 435.9h0.9v0.9h-0.9zM66.4 428.0h0.9v0.9h-0.9zM60.9 424.3h0.9v0.9h-0.9zM58.1 431.7h0.9v0.9h-0.9zM51.7 427.9h0.9v0.9h-0.9zM61.7 431.5h0.9v0.9h-0.9zM64.1 429.2h0.9v0.9h-0.9zM55.7 433.2h0.9v0.9h-0.9zM70.2 431.5h0.9v0.9h-0.9zM60.8 423.6h0.9v0.9h-0.9zM61.0 426.1h0.9v0.9h-0.9zM57.4 429.1h0.9v0.9h-0.9zM63.2 428.8h0.9v0.9h-0.9zM62.3 428.9h0.9v0.9h-0.9zM65.3 425.6h0.9v0.9h-0.9zM57.0 425.6h0.9v0.9h-0.9zM56.4 421.2h0.9v0.9h-0.9zM63.8 429.0h0.9v0.9h-0.9zM57.1 428.5h0.9v0.9h-0.9zM60.2 430.9h0.9v0.9h-0.9zM56.0 427.4h0.9v0.9h-0.9zM59.7 428.9h0.9v0.9h-0.9zM54.5 426.0h0.9v0.9h-0.9zM55.9 430.7h0.9v0.9h-0.9zM61.6 429.2h0.9v0.9h-0.9zM62.0 430.7h0.9v0.9h-0.9zM63.2 431.6h0.9v0.9h-0.9zM67.8 430.8h0.9v0.9h-0.9zM55.8 428.6h0.9v0.9h-0.9zM50.4 426.2h0.9v0.9h-0.9zM50.4 433.7h0.9v0.9h-0.9zM58.4 425.2h0.9v0.9h-0.9zM69.1 430.7h0.9v0.9h-0.9zM59.7 428.9h0.9v0.9h-0.9zM59.0 426.2h0.9v0.9h-0.9zM48.2 429.3h0.9v0.9h-0.9zM54.8 432.1h0.9v0.9h-0.9zM69.4 429.5h0.9v0.9h-0.9zM63.1 429.5h0.9v0.9h-0.9zM62.9 430.0h0.9v0.9h-0.9zM63.4 428.0h0.9v0.9h-0.9zM61.3 428.1h0.9v0.9h-0.9zM60.4 432.4h0.9v0.9h-0.9zM55.1 429.8h0.9v0.9h-0.9zM72.0 433.6h0.9v0.9h-0.9zM59.3 433.0h0.9v0.9h-0.9zM62.2 428.8h0.9v0.9h-0.9zM62.7 430.0h0.9v0.9h-0.9zM61.2 434.7h0.9v0.9h-0.9zM68.3 427.6h0.9v0.9h-0.9zM64.4 432.3h0.9v0.9h-0.9zM57.0 426.2h0.9v0.9h-0.9zM60.1 426.8h0.9v0.9h-0.9zM65.6 428.4h0.9v0.9h-0.9zM52.7 430.2h0.9v0.9h-0.9zM48.7 432.9h0.9v0.9h-0.9zM65.7 424.5h0.9v0.9h-0.9zM60.1 428.9h0.9v0.9h-0.9zM56.3 429.3h0.9v0.9h-0.9zM60.3 431.5h0.9v0.9h-0.9zM59.5 431.0h0.9v0.9h-0.9zM64.5 433.5h0.9v0.9h-0.9zM60.2 430.0h0.9v0.9h-0.9zM50.4 432.3h0.9v0.9h-0.9zM55.1 432.0h0.9v0.9h-0.9zM58.6 427.1h0.9v0.9h-0.9zM58.6 429.2h0.9v0.9h-0.9zM52.6 430.8h0.9v0.9h-0.9zM51.6 425.7h0.9v0.9h-0.9zM63.2 422.5h0.9v0.9h-0.9zM68.0 423.6h0.9v0.9h-0.9zM67.3 425.9h0.9v0.9h-0.9zM56.0 432.3h0.9v0.9h-0.9zM58.5 424.6h0.9v0.9h-0.9zM69.7 425.8h0.9v0.9h-0.9zM68.7 433.0h0.9v0.9h-0.9zM65.1 424.7h0.9v0.9h-0.9zM58.2 425.9h0.9v0.9h-0.9zM58.8 427.6h0.9v0.9h-0.9zM69.0 425.0h0.9v0.9h-0.9zM59.3 427.8h0.9v0.9h-0.9zM67.3 426.7h0.9v0.9h-0.9zM60.4 429.0h0.9v0.9h-0.9zM76.3 426.5h0.9v0.9h-0.9zM73.7 432.4h0.9v0.9h-0.9zM59.9 428.8h0.9v0.9h-0.9zM53.4 430.0h0.9v0.9h-0.9zM57.2 428.3h0.9v0.9h-0.9zM56.4 430.7h0.9v0.9h-0.9zM58.5 429.9h0.9v0.9h-0.9zM62.5 430.4h0.9v0.9h-0.9zM59.1 427.5h0.9v0.9h-0.9zM72.0 427.3h0.9v0.9h-0.9zM69.5 430.1h0.9v0.9h-0.9zM77.3 427.4h0.9v0.9h-0.9zM61.6 425.6h0.9v0.9h-0.9zM67.9 424.7h0.9v0.9h-0.9zM62.4 426.8h0.9v0.9h-0.9zM56.7 430.6h0.9v0.9h-0.9zM65.1 427.3h0.9v0.9h-0.9zM71.0 423.9h0.9v0.9h-0.9zM50.1 426.9h0.9v0.9h-0.9zM64.3 428.2h0.9v0.9h-0.9zM59.5 426.6h0.9v0.9h-0.9zM59.7 430.1h0.9v0.9h-0.9zM63.7 424.7h0.9v0.9h-0.9zM66.8 425.6h0.9v0.9h-0.9zM53.5 430.9h0.9v0.9h-0.9zM65.6 429.2h0.9v0.9h-0.9zM54.4 426.4h0.9v0.9h-0.9z" fill="#2a2aff" opacity="0.6"/>
<path d="M71.3 404.1h0.9v0.9h-0.9zM68.5 416.4h0.9v0.9h-0.9zM53.1 410.5h0.9v0.9h-0.9zM58.4 408.3h0.9v0.9h-0.9zM70.6 405.4h0.9v0.9h-0.9zM69.9 407.2h0.9v0.9h-0.9zM64.3 407.7h0.9v0.9h-0.9zM64.9 411.0h0.9v0.9h-0.9zM63.5 406.5h0.9v0.9h-0.9zM58.4 416.7h0.9v0.9h-0.9zM59.4 406.7h0.9v0.9h-0.9zM49.4 401.6h0.9v0.9h-0.9zM72.1 411.9h0.9v0.9h-0.9zM54.3 414.4h0.9v0.9h-0.9zM55.2 417.7h0.9v0.9h-0.9zM82.4 410.8h0.9v0.9h-0.9zM52.8 408.0h0.9v0.9h-0.9zM68.7 413.2h0.9v0.9h-0.9zM60.9 406.4h0.9v0.9h-0.9zM59.9 410.7h0.9v0.9h-0.9zM48.8 417.1h0.9v0.9h-0.9zM66.8 410.0h0.9v0.9h-0.9zM77.6 416.1h0.9v0.9h-0.9zM56.7 416.6h0.9v0.9h-0.9zM61.7 408.0h0.9v0.9h-0.9zM73.1 408.4h0.9v0.9h-0.9zM61.7 408.6h0.9v0.9h-0.9zM63.6 415.8h0.9v0.9h-0.9zM59.2 417.5h0.9v0.9h-0.9zM57.5 417.5h0.9v0.9h-0.9zM51.8 410.8h0.9v0.9h-0.9zM55.2 408.0h0.9v0.9h-0.9zM65.8 406.8h0.9v0.9h-0.9zM56.7 417.6h0.9v0.9h-0.9zM61.1 415.0h0.9v0.9h-0.9zM60.6 416.1h0.9v0.9h-0.9zM53.7 417.5h0.9v0.9h-0.9zM56.4 405.9h0.9v0.9h-0.9zM63.8 415.8h0.9v0.9h-0.9zM67.0 419.6h0.9v0.9h-0.9zM56.8 407.4h0.9v0.9h-0.9zM65.7 420.1h0.9v0.9h-0.9zM51.5 409.1h0.9v0.9h-0.9zM71.8 409.5h0.9v0.9h-0.9zM49.9 406.5h0.9v0.9h-0.9zM64.3 420.3h0.9v0.9h-0.9zM55.0 411.4h0.9v0.9h-0.9zM60.0 412.8h0.9v0.9h-0.9zM63.6 413.0h0.9v0.9h-0.9zM55.7 402.2h0.9v0.9h-0.9zM48.3 404.2h0.9v0.9h-0.9zM59.2 405.4h0.9v0.9h-0.9zM55.2 406.8h0.9v0.9h-0.9zM61.6 407.5h0.9v0.9h-0.9zM65.1 398.5h0.9v0.9h-0.9zM59.2 406.2h0.9v0.9h-0.9zM53.3 414.6h0.9v0.9h-0.9zM51.4 408.0h0.9v0.9h-0.9zM72.3 417.7h0.9v0.9h-0.9zM60.1 409.5h0.9v0.9h-0.9zM74.0 411.5h0.9v0.9h-0.9zM70.8 407.9h0.9v0.9h-0.9zM58.5 413.4h0.9v0.9h-0.9zM61.5 405.9h0.9v0.9h-0.9zM53.5 412.3h0.9v0.9h-0.9zM66.8 405.6h0.9v0.9h-0.9zM61.1 410.0h0.9v0.9h-0.9zM50.0 405.1h0.9v0.9h-0.9zM59.7 417.3h0.9v0.9h-0.9zM69.6 404.8h0.9v0.9h-0.9zM71.1 416.8h0.9v0.9h-0.9zM62.3 408.0h0.9v0.9h-0.9zM70.4 413.4h0.9v0.9h-0.9zM63.2 409.6h0.9v0.9h-0.9zM55.7 413.6h0.9v0.9h-0.9zM58.7 411.4h0.9v0.9h-0.9zM64.4 412.8h0.9v0.9h-0.9zM57.2 414.0h0.9v0.9h-0.9zM55.8 417.8h0.9v0.9h-0.9zM76.7 415.3h0.9v0.9h-0.9zM56.9 409.6h0.9v0.9h-0.9zM59.4 410.5h0.9v0.9h-0.9zM55.7 420.4h0.9v0.9h-0.9zM50.5 414.0h0.9v0.9h-0.9zM53.1 409.3h0.9v0.9h-0.9zM62.1 407.7h0.9v0.9h-0.9zM56.3 416.5h0.9v0.9h-0.9zM53.2 408.4h0.9v0.9h-0.9zM56.7 412.3h0.9v0.9h-0.9zM63.5 412.5h0.9v0.9h-0.9zM64.8 406.4h0.9v0.9h-0.9zM48.2 415.6h0.9v0.9h-0.9zM53.5 412.9h0.9v0.9h-0.9zM65.1 410.9h0.9v0.9h-0.9zM68.6 415.1h0.9v0.9h-0.9zM73.3 419.5h0.9v0.9h-0.9zM66.4 410.3h0.9v0.9h-0.9zM68.8 416.6h0.9v0.9h-0.9zM51.0 411.6h0.9v0.9h-0.9zM68.1 408.1h0.9v0.9h-0.9zM65.6 415.3h0.9v0.9h-0.9zM65.2 419.1h0.9v0.9h-0.9zM65.3 415.5h0.9v0.9h-0.9zM67.6 414.3h0.9v0.9h-0.9zM57.5 420.2h0.9v0.9h-0.9zM52.9 412.8h0.9v0.9h-0.9zM64.5 421.3h0.9v0.9h-0.9zM53.0 406.8h0.9v0.9h-0.9zM60.1 416.6h0.9v0.9h-0.9zM64.0 419.1h0.9v0.9h-0.9zM63.0 404.6h0.9v0.9h-0.9zM54.7 408.9h0.9v0.9h-0.9zM50.8 415.7h0.9v0.9h-0.9zM61.6 409.1h0.9v0.9h-0.9zM58.6 408.5h0.9v0.9h-0.9zM80.9 405.5h0.9v0.9h-0.9zM67.1 415.7h0.9v0.9h-0.9zM65.3 407.6h0.9v0.9h-0.9zM56.1 405.3h0.9v0.9h-0.9zM60.8 413.2h0.9v0.9h-0.9z" fill="#6a6aff" opacity="0.5"/>
<path d="M62.1 425.0h0.9v0.9h-0.9zM62.5 424.7h0.9v0.9h-0.9zM54.5 426.5h0.9v0.9h-0.9zM58.4 430.4h0.9v0.9h-0.9zM58.8 426.9h0.9v0.9h-0.9zM50.5 429.2h0.9v0.9h-0.9zM66.7 425.2h0.9v0.9h-0.9zM53.5 434.5h0.9v0.9h-0.9zM62.6 431.9h0.9v0.9h-0.9zM67.1 426.6h0.9v0.9h-0.9zM52.0 435.1h0.9v0.9h-0.9zM74.0 428.7h0.9v0.9h-0.9zM61.1 427.6h0.9v0.9h-0.9zM68.2 431.7h0.9v0.9h-0.9zM53.2 427.2h0.9v0.9h-0.9zM60.9 428.2h0.9v0.9h-0.9zM63.9 434.5h0.9v0.9h-0.9zM64.1 426.9h0.9v0.9h-0.9zM57.6 430.4h0.9v0.9h-0.9zM56.9 433.4h0.9v0.9h-0.9zM62.2 430.0h0.9v0.9h-0.9zM60.9 430.7h0.9v0.9h-0.9zM71.3 428.8h0.9v0.9h-0.9zM67.0 424.8h0.9v0.9h-0.9zM70.8 428.8h0.9v0.9h-0.9zM68.5 436.7h0.9v0.9h-0.9zM59.7 437.0h0.9v0.9h-0.9zM61.6 425.5h0.9v0.9h-0.9zM59.7 421.9h0.9v0.9h-0.9zM73.2 427.8h0.9v0.9h-0.9zM62.1 426.4h0.9v0.9h-0.9zM51.8 426.7h0.9v0.9h-0.9zM64.3 421.4h0.9v0.9h-0.9zM58.8 435.3h0.9v0.9h-0.9zM62.7 422.1h0.9v0.9h-0.9zM64.1 430.6h0.9v0.9h-0.9zM60.4 428.3h0.9v0.9h-0.9zM54.0 424.3h0.9v0.9h-0.9zM83.8 428.6h0.9v0.9h-0.9zM67.6 429.4h0.9v0.9h-0.9zM55.7 426.5h0.9v0.9h-0.9zM69.1 434.7h0.9v0.9h-0.9zM71.7 429.2h0.9v0.9h-0.9zM49.5 425.4h0.9v0.9h-0.9zM57.5 423.2h0.9v0.9h-0.9zM65.6 428.8h0.9v0.9h-0.9zM71.5 431.5h0.9v0.9h-0.9zM61.6 425.1h0.9v0.9h-0.9zM57.4 430.6h0.9v0.9h-0.9zM58.0 428.6h0.9v0.9h-0.9zM60.6 431.0h0.9v0.9h-0.9zM63.8 428.9h0.9v0.9h-0.9zM71.9 426.5h0.9v0.9h-0.9zM58.6 422.7h0.9v0.9h-0.9zM66.0 423.3h0.9v0.9h-0.9zM60.3 424.8h0.9v0.9h-0.9zM66.1 426.8h0.9v0.9h-0.9zM60.3 425.9h0.9v0.9h-0.9zM61.6 430.5h0.9v0.9h-0.9zM66.2 434.2h0.9v0.9h-0.9zM57.3 437.1h0.9v0.9h-0.9zM48.1 431.0h0.9v0.9h-0.9zM71.5 434.2h0.9v0.9h-0.9zM73.2 424.7h0.9v0.9h-0.9zM71.2 429.2h0.9v0.9h-0.9zM59.0 422.6h0.9v0.9h-0.9zM70.4 421.5h0.9v0.9h-0.9zM64.0 423.3h0.9v0.9h-0.9zM50.8 428.4h0.9v0.9h-0.9zM49.7 423.8h0.9v0.9h-0.9zM63.8 426.7h0.9v0.9h-0.9zM68.5 431.0h0.9v0.9h-0.9zM56.3 430.4h0.9v0.9h-0.9zM70.2 427.5h0.9v0.9h-0.9zM67.4 432.7h0.9v0.9h-0.9zM61.4 428.1h0.9v0.9h-0.9zM56.4 426.7h0.9v0.9h-0.9zM52.4 428.7h0.9v0.9h-0.9zM64.3 426.9h0.9v0.9h-0.9zM48.4 423.6h0.9v0.9h-0.9zM70.1 426.2h0.9v0.9h-0.9zM73.9 429.5h0.9v0.9h-0.9zM64.8 424.7h0.9v0.9h-0.9zM64.2 430.1h0.9v0.9h-0.9zM61.5 430.5h0.9v0.9h-0.9zM53.8 420.8h0.9v0.9h-0.9zM64.6 436.0h0.9v0.9h-0.9zM63.1 431.6h0.9v0.9h-0.9zM51.5 432.6h0.9v0.9h-0.9zM76.2 428.1h0.9v0.9h-0.9zM62.8 424.9h0.9v0.9h-0.9zM56.6 427.4h0.9v0.9h-0.9zM62.0 422.7h0.9v0.9h-0.9zM54.2 424.7h0.9v0.9h-0.9zM50.9 428.9h0.9v0.9h-0.9zM60.9 426.1h0.9v0.9h-0.9zM65.3 424.1h0.9v0.9h-0.9zM71.1 431.4h0.9v0.9h-0.9zM50.4 427.6h0.9v0.9h-0.9zM53.4 431.0h0.9v0.9h-0.9zM52.1 428.8h0.9v0.9h-0.9zM62.4 434.9h0.9v0.9h-0.9zM57.0 432.9h0.9v0.9h-0.9zM49.9 424.8h0.9v0.9h-0.9zM58.5 433.2h0.9v0.9h-0.9zM58.7 423.2h0.9v0.9h-0.9zM55.0 423.7h0.9v0.9h-0.9zM59.9 429.0h0.9v0.9h-0.9zM52.4 428.5h0.9v0.9h-0.9zM66.0 426.6h0.9v0.9h-0.9z" fill="#6a6aff" opacity="0.5"/>
<path d="M36.3 405.8h0.9v0.9h-0.9zM50.2 412.4h0.9v0.9h-0.9zM37.0 413.5h0.9v0.9h-0.9zM47.9 402.8h0.9v0.9h-0.9zM40.1 417.3h0.9v0.9h-0.9zM45.1 418.5h0.9v0.9h-0.9zM50.8 405.0h0.9v0.9h-0.9zM50.5 409.2h0.9v0.9h-0.9zM37.2 416.9h0.9v0.9h-0.9zM34.9 411.0h0.9v0.9h-0.9zM35.7 409.5h0.9v0.9h-0.9zM36.6 407.1h0.9v0.9h-0.9zM38.5 402.4h0.9v0.9h-0.9zM41.3 402.0h0.9v0.9h-0.9zM34.9 413.8h0.9v0.9h-0.9zM37.4 403.5h0.9v0.9h-0.9zM34.8 412.1h0.9v0.9h-0.9zM36.5 414.2h0.9v0.9h-0.9zM39.9 402.6h0.9v0.9h-0.9zM40.7 417.7h0.9v0.9h-0.9zM35.3 412.6h0.9v0.9h-0.9zM47.1 416.0h0.9v0.9h-0.9zM50.1 412.7h0.9v0.9h-0.9zM42.2 402.3h0.9v0.9h-0.9zM39.1 402.0h0.9v0.9h-0.9zM46.3 417.9h0.9v0.9h-0.9zM33.2 406.7h0.9v0.9h-0.9zM50.8 410.4h0.9v0.9h-0.9zM35.5 406.7h0.9v0.9h-0.9zM52.4 405.1h0.9v0.9h-0.9z" fill="#2a2aff" opacity="0.75"/>
<path d="M48.1 415.2h0.9v0.9h-0.9zM38.9 402.0h0.9v0.9h-0.9zM42.7 418.1h0.9v0.9h-0.9zM35.4 413.1h0.9v0.9h-0.9zM45.6 402.7h0.9v0.9h-0.9zM37.4 405.2h0.9v0.9h-0.9zM47.5 403.7h0.9v0.9h-0.9zM36.3 411.7h0.9v0.9h-0.9zM41.4 400.4h0.9v0.9h-0.9zM51.3 407.9h0.9v0.9h-0.9zM42.6 417.8h0.9v0.9h-0.9zM48.5 416.2h0.9v0.9h-0.9zM39.4 418.7h0.9v0.9h-0.9zM50.2 406.8h0.9v0.9h-0.9zM46.0 401.7h0.9v0.9h-0.9zM43.2 417.2h0.9v0.9h-0.9zM50.7 411.8h0.9v0.9h-0.9zM43.9 417.3h0.9v0.9h-0.9zM49.8 406.4h0.9v0.9h-0.9zM42.3 417.6h0.9v0.9h-0.9zM36.5 402.9h0.9v0.9h-0.9zM40.4 401.8h0.9v0.9h-0.9zM47.8 416.1h0.9v0.9h-0.9zM42.5 402.3h0.9v0.9h-0.9zM45.6 402.1h0.9v0.9h-0.9zM36.1 410.1h0.9v0.9h-0.9zM36.7 415.5h0.9v0.9h-0.9zM51.4 410.5h0.9v0.9h-0.9zM41.6 402.4h0.9v0.9h-0.9zM46.4 403.2h0.9v0.9h-0.9z" fill="#5a5aff" opacity="0.5"/>
<path d="M50.6 429.9h0.9v0.9h-0.9zM49.8 431.0h0.9v0.9h-0.9zM44.7 437.0h0.9v0.9h-0.9zM37.2 423.5h0.9v0.9h-0.9zM40.0 422.6h0.9v0.9h-0.9zM45.1 435.5h0.9v0.9h-0.9zM40.0 422.6h0.9v0.9h-0.9zM36.9 432.4h0.9v0.9h-0.9zM36.6 431.5h0.9v0.9h-0.9zM36.8 432.6h0.9v0.9h-0.9zM46.4 423.2h0.9v0.9h-0.9zM51.1 426.8h0.9v0.9h-0.9zM44.5 420.9h0.9v0.9h-0.9zM36.6 432.1h0.9v0.9h-0.9zM49.2 432.5h0.9v0.9h-0.9zM45.8 422.4h0.9v0.9h-0.9zM50.3 423.4h0.9v0.9h-0.9zM38.9 422.2h0.9v0.9h-0.9zM48.1 434.4h0.9v0.9h-0.9zM37.0 423.7h0.9v0.9h-0.9zM38.2 433.8h0.9v0.9h-0.9zM50.8 430.4h0.9v0.9h-0.9zM45.1 437.6h0.9v0.9h-0.9zM38.8 423.3h0.9v0.9h-0.9zM47.7 422.8h0.9v0.9h-0.9zM42.0 421.5h0.9v0.9h-0.9zM36.3 429.1h0.9v0.9h-0.9zM33.8 429.0h0.9v0.9h-0.9zM49.8 434.5h0.9v0.9h-0.9zM51.5 431.3h0.9v0.9h-0.9z" fill="#2a2aff" opacity="0.75"/>
<path d="M47.2 434.8h0.9v0.9h-0.9zM47.2 435.0h0.9v0.9h-0.9zM50.4 433.5h0.9v0.9h-0.9zM39.1 434.4h0.9v0.9h-0.9zM49.7 434.9h0.9v0.9h-0.9zM43.4 420.4h0.9v0.9h-0.9zM50.4 426.7h0.9v0.9h-0.9zM49.5 423.7h0.9v0.9h-0.9zM50.6 427.1h0.9v0.9h-0.9zM51.0 432.0h0.9v0.9h-0.9zM43.0 421.9h0.9v0.9h-0.9zM49.1 425.3h0.9v0.9h-0.9zM46.1 435.1h0.9v0.9h-0.9zM40.3 435.9h0.9v0.9h-0.9zM36.4 425.9h0.9v0.9h-0.9zM36.7 432.7h0.9v0.9h-0.9zM40.2 421.2h0.9v0.9h-0.9zM48.9 433.9h0.9v0.9h-0.9zM39.3 434.3h0.9v0.9h-0.9zM47.5 423.2h0.9v0.9h-0.9zM35.9 430.3h0.9v0.9h-0.9zM39.8 423.4h0.9v0.9h-0.9zM35.7 430.2h0.9v0.9h-0.9zM49.4 434.9h0.9v0.9h-0.9zM34.8 425.2h0.9v0.9h-0.9zM35.6 430.2h0.9v0.9h-0.9zM40.4 435.5h0.9v0.9h-0.9zM48.9 424.4h0.9v0.9h-0.9zM34.7 427.9h0.9v0.9h-0.9zM40.5 436.7h0.9v0.9h-0.9z" fill="#5a5aff" opacity="0.5"/>
<path d="M78.9 434.5h0.9v0.9h-0.9zM54.5 412.1h0.9v0.9h-0.9zM41.7 435.6h0.9v0.9h-0.9zM39.6 438.0h0.9v0.9h-0.9zM74.8 432.2h0.9v0.9h-0.9zM37.9 425.9h0.9v0.9h-0.9zM38.0 429.0h0.9v0.9h-0.9zM39.7 404.4h0.9v0.9h-0.9zM54.8 400.7h0.9v0.9h-0.9zM57.8 415.1h0.9v0.9h-0.9zM44.5 427.3h0.9v0.9h-0.9zM50.8 418.4h0.9v0.9h-0.9zM69.2 413.7h0.9v0.9h-0.9zM38.2 438.2h0.9v0.9h-0.9zM73.0 411.1h0.9v0.9h-0.9zM72.6 417.9h0.9v0.9h-0.9zM39.5 414.3h0.9v0.9h-0.9zM43.1 427.6h0.9v0.9h-0.9zM49.1 438.3h0.9v0.9h-0.9zM76.1 416.9h0.9v0.9h-0.9zM72.3 439.8h0.9v0.9h-0.9zM79.9 408.7h0.9v0.9h-0.9zM56.3 408.5h0.9v0.9h-0.9zM38.5 423.3h0.9v0.9h-0.9zM52.4 404.1h0.9v0.9h-0.9zM48.5 401.1h0.9v0.9h-0.9zM66.0 415.8h0.9v0.9h-0.9zM35.6 422.2h0.9v0.9h-0.9zM62.2 414.5h0.9v0.9h-0.9zM47.4 412.3h0.9v0.9h-0.9zM49.5 426.3h0.9v0.9h-0.9zM44.6 413.1h0.9v0.9h-0.9zM61.2 428.8h0.9v0.9h-0.9zM73.0 427.6h0.9v0.9h-0.9zM47.0 414.8h0.9v0.9h-0.9zM59.8 431.7h0.9v0.9h-0.9zM51.5 402.6h0.9v0.9h-0.9zM37.9 435.8h0.9v0.9h-0.9zM70.1 419.7h0.9v0.9h-0.9zM77.0 410.6h0.9v0.9h-0.9z" fill="#4a4aff" opacity="0.55"/>
<g filter="url(#bl2)">
<path d="M48.75 407.25 L67.75 407.75 A4.75 4.75 0 0 1 67.75 417.25 L48.75 414.75 A3.75 3.75 0 0 1 48.75 407.25Z" fill="#2a2aff" opacity="0.75"/>
<path d="M48.25 425.55 L69.75 425.05 A3.75 3.75 0 0 1 69.75 432.55 L48.25 432.05 A3.25 3.25 0 0 1 48.25 425.55Z" fill="#2a2aff" opacity="0.75"/>
<path d="M50.00 409.50 L65.50 410.00 A2.50 2.50 0 0 1 65.50 415.00 L50.00 413.50 A2.00 2.00 0 0 1 50.00 409.50Z" fill="#1a1aff" opacity="0.8"/>
<path d="M49.75 427.05 L67.00 426.80 A2.00 2.00 0 0 1 67.00 430.80 L49.75 430.55 A1.75 1.75 0 0 1 49.75 427.05Z" fill="#1a1aff" opacity="0.8"/>
</g>
<g filter="url(#bl)">
<ellipse cx="43.30" cy="409.80" rx="9.27" ry="8.62" fill="#6a6aff" opacity="0.35"/>
<ellipse cx="43.30" cy="409.80" rx="8.36" ry="7.77" fill="#3535ff" opacity="0.6"/>
<ellipse cx="43.30" cy="409.80" rx="7.60" ry="7.07" fill="#0000ff"/>
<ellipse cx="43.30" cy="409.80" rx="6.38" ry="5.94" fill="#0040ff"/>
<ellipse cx="43.30" cy="409.80" rx="5.47" ry="5.09" fill="#0090ff"/>
<ellipse cx="43.30" cy="409.80" rx="4.56" ry="4.24" fill="#00d0ff"/>
<ellipse cx="43.30" cy="409.80" rx="3.72" ry="3.46" fill="#20f0c0"/>
<ellipse cx="43.30" cy="409.80" rx="2.89" ry="2.69" fill="#70ff50"/>
<ellipse cx="43.30" cy="409.80" rx="2.13" ry="1.98" fill="#e0ff10"/>
<ellipse cx="43.30" cy="409.80" rx="1.44" ry="1.34" fill="#ff9000"/>
<ellipse cx="43.30" cy="409.80" rx="0.84" ry="0.78" fill="#ff1a00"/>
</g>
<g filter="url(#bl)">
<ellipse cx="43.30" cy="429.00" rx="8.78" ry="7.91" fill="#6a6aff" opacity="0.35"/>
<ellipse cx="43.30" cy="429.00" rx="7.92" ry="7.13" fill="#3535ff" opacity="0.6"/>
<ellipse cx="43.30" cy="429.00" rx="7.20" ry="6.48" fill="#0000ff"/>
<ellipse cx="43.30" cy="429.00" rx="6.05" ry="5.44" fill="#0040ff"/>
<ellipse cx="43.30" cy="429.00" rx="5.18" ry="4.67" fill="#0090ff"/>
<ellipse cx="43.30" cy="429.00" rx="4.32" ry="3.89" fill="#00d0ff"/>
<ellipse cx="43.30" cy="429.00" rx="3.53" ry="3.18" fill="#20f0c0"/>
<ellipse cx="43.30" cy="429.00" rx="2.74" ry="2.46" fill="#70ff50"/>
<ellipse cx="43.30" cy="429.00" rx="2.02" ry="1.81" fill="#e0ff10"/>
<ellipse cx="43.30" cy="429.00" rx="1.37" ry="1.23" fill="#ff9000"/>
<ellipse cx="43.30" cy="429.00" rx="0.79" ry="0.71" fill="#ff1a00"/>
</g>
<text x="36.5" y="463.5" font-size="9.6">KI-67 – V450</text>
<text x="14.5" y="451" font-size="9.6" transform="rotate(-90 14.5 451)">Lgp130– ZsGreen</text>
<rect x="27.70" y="510.80" width="79.00" height="79.70" fill="none" stroke="#9a9a9a" stroke-width="1.1"/>
<line x1="26.6" y1="584.1" x2="28.0" y2="584.1" stroke="#333" stroke-width="0.7"/><line x1="26.6" y1="574.6" x2="28.0" y2="574.6" stroke="#333" stroke-width="0.7"/><line x1="25.9" y1="566.6" x2="28.0" y2="566.6" stroke="#333" stroke-width="0.7"/><line x1="26.6" y1="558.6" x2="28.0" y2="558.6" stroke="#333" stroke-width="0.7"/><line x1="26.6" y1="550.6" x2="28.0" y2="550.6" stroke="#333" stroke-width="0.7"/><line x1="25.9" y1="542.7" x2="28.0" y2="542.7" stroke="#333" stroke-width="0.7"/><line x1="26.6" y1="534.7" x2="28.0" y2="534.7" stroke="#333" stroke-width="0.7"/><line x1="26.6" y1="526.7" x2="28.0" y2="526.7" stroke="#333" stroke-width="0.7"/><line x1="25.9" y1="517.2" x2="28.0" y2="517.2" stroke="#333" stroke-width="0.7"/><line x1="31.6" y1="590.2" x2="31.6" y2="591.5" stroke="#333" stroke-width="0.7"/><line x1="37.2" y1="590.2" x2="37.2" y2="591.5" stroke="#333" stroke-width="0.7"/><line x1="43.5" y1="590.2" x2="43.5" y2="592.1" stroke="#333" stroke-width="0.7"/><line x1="53.0" y1="590.2" x2="53.0" y2="591.5" stroke="#333" stroke-width="0.7"/><line x1="59.3" y1="590.2" x2="59.3" y2="591.5" stroke="#333" stroke-width="0.7"/><line x1="64.0" y1="590.2" x2="64.0" y2="592.1" stroke="#333" stroke-width="0.7"/><line x1="68.8" y1="590.2" x2="68.8" y2="591.5" stroke="#333" stroke-width="0.7"/><line x1="75.1" y1="590.2" x2="75.1" y2="591.5" stroke="#333" stroke-width="0.7"/><line x1="83.0" y1="590.2" x2="83.0" y2="592.1" stroke="#333" stroke-width="0.7"/><line x1="90.9" y1="590.2" x2="90.9" y2="591.5" stroke="#333" stroke-width="0.7"/><line x1="97.2" y1="590.2" x2="97.2" y2="591.5" stroke="#333" stroke-width="0.7"/><line x1="102.8" y1="590.2" x2="102.8" y2="591.5" stroke="#333" stroke-width="0.7"/>
<line x1="20.5" y1="512.0" x2="20.5" y2="597.1" stroke="#000" stroke-width="1.8"/>
<path d="M16.9 513.7L20.5 507.0L24.1 513.7Z" fill="#000"/>
<line x1="19.6" y1="596.2" x2="105.8" y2="596.2" stroke="#000" stroke-width="1.8"/>
<path d="M104.1 592.6L110.8 596.2L104.1 599.8000000000001Z" fill="#000"/>
<line x1="59.5" y1="510.8" x2="59.5" y2="590.5" stroke="#6a6a6a" stroke-width="0.9"/>
<line x1="27.7" y1="562.5" x2="106.7" y2="562.5" stroke="#1a1a1a" stroke-width="1.1"/>
<text x="102.8" y="526.6" font-size="6.7" text-anchor="end" fill="#1a1a1a" stroke="#1a1a1a" stroke-width="0.12">3.66</text>
<text x="102.8" y="582.5" font-size="6.7" text-anchor="end" fill="#1a1a1a" stroke="#1a1a1a" stroke-width="0.12">1.75</text>
<line x1="59.5" y1="511.9" x2="106.7" y2="511.9" stroke="#9a9a9a" stroke-width="1.8"/>
<line x1="59.5" y1="589.6" x2="106.7" y2="589.6" stroke="#aaa" stroke-width="1.0"/>
<path d="M60.5 547.1h0.9v0.9h-0.9zM63.4 547.6h0.9v0.9h-0.9zM63.6 549.3h0.9v0.9h-0.9zM69.9 545.2h0.9v0.9h-0.9zM58.8 547.9h0.9v0.9h-0.9zM67.4 556.6h0.9v0.9h-0.9zM73.0 543.9h0.9v0.9h-0.9zM59.8 552.9h0.9v0.9h-0.9zM65.0 547.2h0.9v0.9h-0.9zM56.9 553.5h0.9v0.9h-0.9zM70.4 555.2h0.9v0.9h-0.9zM66.2 548.4h0.9v0.9h-0.9zM65.1 543.7h0.9v0.9h-0.9zM59.2 547.8h0.9v0.9h-0.9zM57.2 549.9h0.9v0.9h-0.9zM62.8 552.4h0.9v0.9h-0.9zM64.4 553.9h0.9v0.9h-0.9zM64.8 553.7h0.9v0.9h-0.9zM64.2 552.7h0.9v0.9h-0.9zM63.1 547.5h0.9v0.9h-0.9zM66.9 551.6h0.9v0.9h-0.9zM60.6 551.4h0.9v0.9h-0.9zM70.5 548.2h0.9v0.9h-0.9zM63.6 552.3h0.9v0.9h-0.9zM66.7 546.1h0.9v0.9h-0.9zM65.7 554.5h0.9v0.9h-0.9zM60.8 550.9h0.9v0.9h-0.9zM57.8 550.8h0.9v0.9h-0.9zM59.8 550.3h0.9v0.9h-0.9zM66.5 545.0h0.9v0.9h-0.9zM62.0 545.0h0.9v0.9h-0.9zM62.5 551.9h0.9v0.9h-0.9zM65.8 551.8h0.9v0.9h-0.9zM61.1 552.5h0.9v0.9h-0.9zM57.0 548.5h0.9v0.9h-0.9zM60.5 551.3h0.9v0.9h-0.9zM71.1 555.5h0.9v0.9h-0.9zM65.2 556.1h0.9v0.9h-0.9zM60.7 545.9h0.9v0.9h-0.9zM64.5 550.4h0.9v0.9h-0.9zM68.3 550.1h0.9v0.9h-0.9zM61.3 552.1h0.9v0.9h-0.9zM70.4 552.5h0.9v0.9h-0.9zM63.4 551.8h0.9v0.9h-0.9zM71.7 550.9h0.9v0.9h-0.9zM61.2 539.5h0.9v0.9h-0.9zM70.8 546.7h0.9v0.9h-0.9zM62.0 560.5h0.9v0.9h-0.9zM58.0 555.4h0.9v0.9h-0.9zM65.0 550.5h0.9v0.9h-0.9zM61.7 553.1h0.9v0.9h-0.9zM61.7 554.9h0.9v0.9h-0.9zM57.3 549.9h0.9v0.9h-0.9zM59.7 547.3h0.9v0.9h-0.9zM62.4 554.2h0.9v0.9h-0.9zM66.5 551.1h0.9v0.9h-0.9zM59.7 551.9h0.9v0.9h-0.9zM60.0 553.2h0.9v0.9h-0.9zM62.9 559.8h0.9v0.9h-0.9zM70.0 553.5h0.9v0.9h-0.9zM71.0 554.2h0.9v0.9h-0.9zM70.7 551.4h0.9v0.9h-0.9zM67.5 554.0h0.9v0.9h-0.9zM66.5 553.7h0.9v0.9h-0.9zM60.0 549.9h0.9v0.9h-0.9zM65.0 552.2h0.9v0.9h-0.9zM59.6 550.5h0.9v0.9h-0.9zM57.7 553.9h0.9v0.9h-0.9zM62.0 550.7h0.9v0.9h-0.9zM56.1 550.4h0.9v0.9h-0.9zM64.9 550.0h0.9v0.9h-0.9zM66.3 552.0h0.9v0.9h-0.9zM59.2 544.7h0.9v0.9h-0.9zM63.2 556.5h0.9v0.9h-0.9zM68.0 556.0h0.9v0.9h-0.9zM58.4 545.4h0.9v0.9h-0.9zM56.6 555.7h0.9v0.9h-0.9zM59.1 552.6h0.9v0.9h-0.9zM60.6 557.4h0.9v0.9h-0.9zM61.2 546.6h0.9v0.9h-0.9zM57.0 548.1h0.9v0.9h-0.9zM66.5 551.8h0.9v0.9h-0.9zM61.1 549.9h0.9v0.9h-0.9zM63.8 552.8h0.9v0.9h-0.9zM62.1 553.6h0.9v0.9h-0.9zM60.3 559.2h0.9v0.9h-0.9zM73.4 548.6h0.9v0.9h-0.9zM67.5 554.8h0.9v0.9h-0.9zM61.6 552.7h0.9v0.9h-0.9zM61.8 544.7h0.9v0.9h-0.9zM69.7 553.1h0.9v0.9h-0.9zM63.7 546.9h0.9v0.9h-0.9zM64.5 552.2h0.9v0.9h-0.9zM65.1 552.6h0.9v0.9h-0.9zM59.1 557.1h0.9v0.9h-0.9zM70.6 546.6h0.9v0.9h-0.9zM59.9 553.5h0.9v0.9h-0.9zM67.8 551.5h0.9v0.9h-0.9zM66.1 550.3h0.9v0.9h-0.9zM66.7 553.5h0.9v0.9h-0.9zM71.3 559.4h0.9v0.9h-0.9zM67.7 549.3h0.9v0.9h-0.9zM60.4 554.2h0.9v0.9h-0.9zM61.1 554.8h0.9v0.9h-0.9zM59.8 553.4h0.9v0.9h-0.9zM62.7 550.3h0.9v0.9h-0.9zM58.6 550.4h0.9v0.9h-0.9zM62.9 546.0h0.9v0.9h-0.9zM66.7 548.9h0.9v0.9h-0.9zM60.4 550.3h0.9v0.9h-0.9zM62.0 556.4h0.9v0.9h-0.9zM63.9 551.9h0.9v0.9h-0.9zM59.3 545.7h0.9v0.9h-0.9zM66.2 553.2h0.9v0.9h-0.9zM59.1 557.8h0.9v0.9h-0.9zM66.1 556.9h0.9v0.9h-0.9zM65.4 551.0h0.9v0.9h-0.9zM69.1 559.2h0.9v0.9h-0.9zM68.7 555.0h0.9v0.9h-0.9zM61.7 545.9h0.9v0.9h-0.9zM58.1 553.1h0.9v0.9h-0.9zM67.9 547.1h0.9v0.9h-0.9zM66.5 554.7h0.9v0.9h-0.9zM64.3 550.0h0.9v0.9h-0.9zM64.3 557.6h0.9v0.9h-0.9zM58.9 551.1h0.9v0.9h-0.9zM59.0 551.0h0.9v0.9h-0.9zM75.2 545.4h0.9v0.9h-0.9zM57.1 551.6h0.9v0.9h-0.9zM72.1 546.6h0.9v0.9h-0.9zM68.7 551.1h0.9v0.9h-0.9zM64.5 543.6h0.9v0.9h-0.9zM57.0 557.0h0.9v0.9h-0.9zM67.1 548.7h0.9v0.9h-0.9zM56.8 547.8h0.9v0.9h-0.9zM63.3 547.1h0.9v0.9h-0.9zM57.8 556.0h0.9v0.9h-0.9zM76.4 550.0h0.9v0.9h-0.9zM57.2 549.3h0.9v0.9h-0.9zM64.1 551.1h0.9v0.9h-0.9zM62.8 558.8h0.9v0.9h-0.9zM63.8 552.1h0.9v0.9h-0.9zM62.0 553.0h0.9v0.9h-0.9zM68.4 553.0h0.9v0.9h-0.9zM63.3 550.4h0.9v0.9h-0.9zM64.5 549.9h0.9v0.9h-0.9zM67.0 552.8h0.9v0.9h-0.9zM67.4 549.4h0.9v0.9h-0.9zM57.5 551.0h0.9v0.9h-0.9zM64.7 554.2h0.9v0.9h-0.9zM61.9 551.5h0.9v0.9h-0.9zM56.9 551.6h0.9v0.9h-0.9zM66.8 549.2h0.9v0.9h-0.9zM64.5 550.7h0.9v0.9h-0.9zM61.3 553.6h0.9v0.9h-0.9zM59.4 555.3h0.9v0.9h-0.9zM66.1 556.2h0.9v0.9h-0.9zM63.5 549.4h0.9v0.9h-0.9zM62.8 559.1h0.9v0.9h-0.9zM64.4 556.2h0.9v0.9h-0.9zM63.3 554.4h0.9v0.9h-0.9zM61.1 551.9h0.9v0.9h-0.9zM63.3 552.4h0.9v0.9h-0.9zM63.5 547.8h0.9v0.9h-0.9zM57.9 551.5h0.9v0.9h-0.9zM59.9 550.4h0.9v0.9h-0.9zM66.2 551.0h0.9v0.9h-0.9zM66.5 551.6h0.9v0.9h-0.9zM67.0 556.5h0.9v0.9h-0.9zM65.2 549.4h0.9v0.9h-0.9zM67.1 551.5h0.9v0.9h-0.9zM60.7 547.6h0.9v0.9h-0.9zM71.4 554.2h0.9v0.9h-0.9zM64.5 549.7h0.9v0.9h-0.9zM68.6 549.4h0.9v0.9h-0.9zM71.6 553.8h0.9v0.9h-0.9zM68.6 550.2h0.9v0.9h-0.9zM71.7 556.2h0.9v0.9h-0.9zM56.7 555.4h0.9v0.9h-0.9zM61.9 552.2h0.9v0.9h-0.9zM63.4 555.0h0.9v0.9h-0.9zM59.4 553.4h0.9v0.9h-0.9zM61.5 557.8h0.9v0.9h-0.9zM68.6 548.9h0.9v0.9h-0.9zM57.0 551.9h0.9v0.9h-0.9zM67.5 549.7h0.9v0.9h-0.9zM56.8 547.7h0.9v0.9h-0.9zM69.8 544.1h0.9v0.9h-0.9zM64.1 551.7h0.9v0.9h-0.9zM63.7 544.4h0.9v0.9h-0.9zM63.0 547.8h0.9v0.9h-0.9zM61.2 546.4h0.9v0.9h-0.9zM57.8 551.1h0.9v0.9h-0.9zM59.1 548.7h0.9v0.9h-0.9zM69.6 543.3h0.9v0.9h-0.9zM61.7 554.2h0.9v0.9h-0.9zM65.0 550.3h0.9v0.9h-0.9zM70.4 552.8h0.9v0.9h-0.9zM58.8 554.7h0.9v0.9h-0.9zM67.5 549.4h0.9v0.9h-0.9zM59.9 546.4h0.9v0.9h-0.9zM67.6 551.8h0.9v0.9h-0.9zM66.8 554.3h0.9v0.9h-0.9zM58.9 550.7h0.9v0.9h-0.9zM76.3 550.6h0.9v0.9h-0.9zM61.5 555.6h0.9v0.9h-0.9zM64.8 555.6h0.9v0.9h-0.9zM60.5 548.3h0.9v0.9h-0.9zM65.9 557.2h0.9v0.9h-0.9zM75.5 548.1h0.9v0.9h-0.9zM67.0 552.5h0.9v0.9h-0.9zM63.4 554.0h0.9v0.9h-0.9zM65.6 551.7h0.9v0.9h-0.9zM56.7 544.4h0.9v0.9h-0.9zM66.1 546.5h0.9v0.9h-0.9zM63.2 551.4h0.9v0.9h-0.9zM70.1 555.9h0.9v0.9h-0.9zM66.5 554.8h0.9v0.9h-0.9zM66.4 554.5h0.9v0.9h-0.9zM56.9 557.0h0.9v0.9h-0.9zM70.3 547.7h0.9v0.9h-0.9zM61.7 552.1h0.9v0.9h-0.9zM72.1 552.9h0.9v0.9h-0.9zM62.4 544.1h0.9v0.9h-0.9zM67.1 550.2h0.9v0.9h-0.9zM63.1 550.6h0.9v0.9h-0.9zM64.4 549.8h0.9v0.9h-0.9zM59.8 551.0h0.9v0.9h-0.9zM57.8 550.7h0.9v0.9h-0.9zM63.6 560.8h0.9v0.9h-0.9zM57.8 551.9h0.9v0.9h-0.9zM64.6 552.2h0.9v0.9h-0.9zM61.8 551.8h0.9v0.9h-0.9zM57.1 555.3h0.9v0.9h-0.9zM59.7 547.1h0.9v0.9h-0.9zM63.0 549.6h0.9v0.9h-0.9zM60.6 546.2h0.9v0.9h-0.9zM67.5 553.8h0.9v0.9h-0.9zM69.7 544.6h0.9v0.9h-0.9zM63.6 554.0h0.9v0.9h-0.9zM64.2 550.4h0.9v0.9h-0.9zM58.6 551.8h0.9v0.9h-0.9zM61.8 548.3h0.9v0.9h-0.9zM63.3 552.4h0.9v0.9h-0.9zM64.5 550.0h0.9v0.9h-0.9zM59.4 552.2h0.9v0.9h-0.9zM58.9 553.8h0.9v0.9h-0.9zM65.6 551.5h0.9v0.9h-0.9zM61.5 549.5h0.9v0.9h-0.9zM65.6 551.6h0.9v0.9h-0.9zM59.5 555.4h0.9v0.9h-0.9zM64.8 548.6h0.9v0.9h-0.9zM63.5 547.2h0.9v0.9h-0.9zM67.1 557.6h0.9v0.9h-0.9zM58.1 547.9h0.9v0.9h-0.9zM60.8 556.3h0.9v0.9h-0.9zM61.6 550.3h0.9v0.9h-0.9zM61.5 547.2h0.9v0.9h-0.9zM61.9 548.6h0.9v0.9h-0.9zM59.1 550.1h0.9v0.9h-0.9zM58.2 550.1h0.9v0.9h-0.9zM64.1 553.6h0.9v0.9h-0.9zM63.6 552.0h0.9v0.9h-0.9zM68.5 554.4h0.9v0.9h-0.9zM60.6 554.0h0.9v0.9h-0.9zM56.1 551.1h0.9v0.9h-0.9zM61.8 551.1h0.9v0.9h-0.9zM63.3 553.8h0.9v0.9h-0.9zM68.8 553.2h0.9v0.9h-0.9zM57.0 546.1h0.9v0.9h-0.9zM59.9 558.0h0.9v0.9h-0.9zM61.2 551.5h0.9v0.9h-0.9zM67.2 551.4h0.9v0.9h-0.9zM65.1 555.7h0.9v0.9h-0.9zM65.7 552.7h0.9v0.9h-0.9zM62.0 552.6h0.9v0.9h-0.9zM61.4 542.4h0.9v0.9h-0.9zM63.4 548.7h0.9v0.9h-0.9zM68.4 549.0h0.9v0.9h-0.9zM67.7 547.0h0.9v0.9h-0.9zM58.0 553.2h0.9v0.9h-0.9zM59.4 545.4h0.9v0.9h-0.9zM67.3 549.4h0.9v0.9h-0.9zM61.4 555.3h0.9v0.9h-0.9zM65.9 549.9h0.9v0.9h-0.9zM59.3 552.3h0.9v0.9h-0.9zM64.0 554.5h0.9v0.9h-0.9zM65.1 545.1h0.9v0.9h-0.9zM60.2 550.9h0.9v0.9h-0.9zM56.7 552.3h0.9v0.9h-0.9zM63.2 551.1h0.9v0.9h-0.9zM65.7 557.3h0.9v0.9h-0.9zM68.2 554.5h0.9v0.9h-0.9zM63.2 549.1h0.9v0.9h-0.9zM64.6 554.2h0.9v0.9h-0.9zM66.3 557.9h0.9v0.9h-0.9zM63.7 556.8h0.9v0.9h-0.9zM56.3 553.2h0.9v0.9h-0.9zM72.0 547.2h0.9v0.9h-0.9zM65.6 550.4h0.9v0.9h-0.9zM67.1 558.7h0.9v0.9h-0.9zM62.6 553.6h0.9v0.9h-0.9zM69.7 548.0h0.9v0.9h-0.9zM62.3 555.7h0.9v0.9h-0.9zM61.4 557.8h0.9v0.9h-0.9zM56.2 553.7h0.9v0.9h-0.9zM62.2 542.0h0.9v0.9h-0.9zM62.5 550.8h0.9v0.9h-0.9zM61.3 555.6h0.9v0.9h-0.9zM63.9 552.2h0.9v0.9h-0.9zM66.0 552.2h0.9v0.9h-0.9zM67.5 555.6h0.9v0.9h-0.9zM61.6 553.9h0.9v0.9h-0.9zM64.7 550.5h0.9v0.9h-0.9zM57.5 564.3h0.9v0.9h-0.9zM70.0 546.5h0.9v0.9h-0.9zM58.6 553.7h0.9v0.9h-0.9zM59.2 550.9h0.9v0.9h-0.9zM68.5 549.6h0.9v0.9h-0.9zM65.4 549.6h0.9v0.9h-0.9z" fill="#2a2aff" opacity="0.75"/>
<path d="M91.9 549.5h0.9v0.9h-0.9zM78.9 548.7h0.9v0.9h-0.9zM73.0 553.4h0.9v0.9h-0.9zM77.6 545.4h0.9v0.9h-0.9zM67.1 554.5h0.9v0.9h-0.9zM86.6 556.4h0.9v0.9h-0.9zM79.4 549.4h0.9v0.9h-0.9zM75.9 558.0h0.9v0.9h-0.9zM96.9 555.1h0.9v0.9h-0.9zM76.3 556.8h0.9v0.9h-0.9zM91.8 550.9h0.9v0.9h-0.9zM68.1 550.7h0.9v0.9h-0.9zM76.0 555.3h0.9v0.9h-0.9zM86.7 549.0h0.9v0.9h-0.9zM83.8 559.0h0.9v0.9h-0.9zM70.5 556.1h0.9v0.9h-0.9zM91.8 554.5h0.9v0.9h-0.9zM62.9 551.9h0.9v0.9h-0.9zM77.9 543.2h0.9v0.9h-0.9zM97.5 557.6h0.9v0.9h-0.9zM65.8 545.3h0.9v0.9h-0.9zM79.9 552.0h0.9v0.9h-0.9zM79.9 553.2h0.9v0.9h-0.9zM60.0 554.0h0.9v0.9h-0.9zM97.6 551.9h0.9v0.9h-0.9zM77.7 550.9h0.9v0.9h-0.9zM78.1 549.4h0.9v0.9h-0.9zM70.6 551.9h0.9v0.9h-0.9zM68.1 558.8h0.9v0.9h-0.9zM80.7 553.2h0.9v0.9h-0.9zM74.5 553.8h0.9v0.9h-0.9zM73.6 550.8h0.9v0.9h-0.9zM74.8 540.5h0.9v0.9h-0.9zM61.6 549.7h0.9v0.9h-0.9zM88.5 550.0h0.9v0.9h-0.9zM86.2 553.4h0.9v0.9h-0.9zM80.0 544.9h0.9v0.9h-0.9zM79.8 553.3h0.9v0.9h-0.9zM83.8 549.8h0.9v0.9h-0.9zM74.1 549.4h0.9v0.9h-0.9zM89.8 549.8h0.9v0.9h-0.9zM80.1 554.4h0.9v0.9h-0.9zM71.5 542.5h0.9v0.9h-0.9zM62.4 550.9h0.9v0.9h-0.9zM66.1 557.3h0.9v0.9h-0.9zM76.2 560.7h0.9v0.9h-0.9zM72.1 538.3h0.9v0.9h-0.9zM69.0 553.2h0.9v0.9h-0.9zM85.8 546.9h0.9v0.9h-0.9zM92.7 553.4h0.9v0.9h-0.9zM89.4 553.6h0.9v0.9h-0.9zM98.8 554.0h0.9v0.9h-0.9zM69.6 548.3h0.9v0.9h-0.9zM87.3 547.1h0.9v0.9h-0.9zM87.1 554.0h0.9v0.9h-0.9zM87.0 551.6h0.9v0.9h-0.9zM68.1 547.4h0.9v0.9h-0.9zM61.5 558.2h0.9v0.9h-0.9zM66.1 554.2h0.9v0.9h-0.9zM66.8 542.0h0.9v0.9h-0.9zM86.5 552.5h0.9v0.9h-0.9zM80.7 551.3h0.9v0.9h-0.9zM84.3 556.0h0.9v0.9h-0.9zM75.0 551.7h0.9v0.9h-0.9zM61.9 543.4h0.9v0.9h-0.9zM90.6 550.0h0.9v0.9h-0.9zM73.4 550.0h0.9v0.9h-0.9zM89.3 547.6h0.9v0.9h-0.9zM100.0 544.7h0.9v0.9h-0.9zM71.6 555.5h0.9v0.9h-0.9zM72.2 553.2h0.9v0.9h-0.9zM89.5 554.6h0.9v0.9h-0.9zM87.9 546.7h0.9v0.9h-0.9zM85.4 540.2h0.9v0.9h-0.9zM91.7 557.8h0.9v0.9h-0.9zM96.6 554.7h0.9v0.9h-0.9zM77.2 556.3h0.9v0.9h-0.9zM67.7 546.9h0.9v0.9h-0.9zM79.3 544.6h0.9v0.9h-0.9zM80.5 545.2h0.9v0.9h-0.9zM71.0 551.9h0.9v0.9h-0.9zM76.1 555.5h0.9v0.9h-0.9zM75.7 555.2h0.9v0.9h-0.9zM73.9 549.2h0.9v0.9h-0.9zM74.8 547.6h0.9v0.9h-0.9zM90.9 550.0h0.9v0.9h-0.9zM73.5 550.3h0.9v0.9h-0.9zM82.9 555.7h0.9v0.9h-0.9zM79.3 550.3h0.9v0.9h-0.9zM77.4 554.2h0.9v0.9h-0.9zM80.1 548.0h0.9v0.9h-0.9zM78.2 556.4h0.9v0.9h-0.9zM89.6 547.0h0.9v0.9h-0.9zM84.8 542.6h0.9v0.9h-0.9zM82.4 554.1h0.9v0.9h-0.9zM97.1 554.4h0.9v0.9h-0.9zM76.5 557.8h0.9v0.9h-0.9zM74.6 551.1h0.9v0.9h-0.9zM75.5 554.3h0.9v0.9h-0.9zM64.7 543.9h0.9v0.9h-0.9zM91.1 543.6h0.9v0.9h-0.9zM61.5 546.8h0.9v0.9h-0.9zM72.0 549.9h0.9v0.9h-0.9zM83.9 547.8h0.9v0.9h-0.9zM88.3 553.2h0.9v0.9h-0.9zM80.9 553.1h0.9v0.9h-0.9zM71.8 546.3h0.9v0.9h-0.9zM82.8 549.6h0.9v0.9h-0.9zM90.7 547.9h0.9v0.9h-0.9zM84.2 552.7h0.9v0.9h-0.9z" fill="#2a2aff" opacity="0.7"/>
<path d="M64.1 570.9h0.9v0.9h-0.9zM67.9 568.1h0.9v0.9h-0.9zM57.6 572.6h0.9v0.9h-0.9zM65.0 567.6h0.9v0.9h-0.9zM62.6 564.0h0.9v0.9h-0.9zM69.5 576.3h0.9v0.9h-0.9zM64.0 572.2h0.9v0.9h-0.9zM64.6 569.3h0.9v0.9h-0.9zM61.2 576.6h0.9v0.9h-0.9zM57.6 569.2h0.9v0.9h-0.9zM58.6 577.1h0.9v0.9h-0.9zM63.1 570.6h0.9v0.9h-0.9zM61.7 573.0h0.9v0.9h-0.9zM58.5 571.8h0.9v0.9h-0.9zM58.8 568.3h0.9v0.9h-0.9zM64.9 571.1h0.9v0.9h-0.9zM61.4 574.8h0.9v0.9h-0.9zM59.4 569.9h0.9v0.9h-0.9zM69.2 569.0h0.9v0.9h-0.9zM58.6 574.2h0.9v0.9h-0.9zM71.3 571.0h0.9v0.9h-0.9zM62.7 565.9h0.9v0.9h-0.9zM59.4 571.6h0.9v0.9h-0.9zM64.8 571.2h0.9v0.9h-0.9zM61.2 573.0h0.9v0.9h-0.9zM58.2 568.0h0.9v0.9h-0.9zM66.0 571.1h0.9v0.9h-0.9zM66.5 572.3h0.9v0.9h-0.9zM62.2 571.2h0.9v0.9h-0.9zM62.4 573.8h0.9v0.9h-0.9zM73.6 568.8h0.9v0.9h-0.9zM66.5 570.4h0.9v0.9h-0.9zM64.9 570.9h0.9v0.9h-0.9zM58.2 576.8h0.9v0.9h-0.9zM59.7 569.8h0.9v0.9h-0.9zM59.0 570.8h0.9v0.9h-0.9zM70.9 573.3h0.9v0.9h-0.9zM69.5 571.3h0.9v0.9h-0.9zM68.4 572.6h0.9v0.9h-0.9zM62.2 574.8h0.9v0.9h-0.9zM59.6 574.4h0.9v0.9h-0.9zM63.2 570.6h0.9v0.9h-0.9zM62.9 568.2h0.9v0.9h-0.9zM67.0 567.7h0.9v0.9h-0.9zM63.2 570.5h0.9v0.9h-0.9zM64.2 568.3h0.9v0.9h-0.9zM58.7 572.8h0.9v0.9h-0.9zM62.9 569.3h0.9v0.9h-0.9zM60.1 573.5h0.9v0.9h-0.9zM57.0 567.5h0.9v0.9h-0.9zM70.5 574.5h0.9v0.9h-0.9zM67.1 575.8h0.9v0.9h-0.9zM56.5 571.3h0.9v0.9h-0.9zM62.3 571.9h0.9v0.9h-0.9zM60.9 566.2h0.9v0.9h-0.9zM62.4 566.1h0.9v0.9h-0.9zM60.2 572.5h0.9v0.9h-0.9zM62.4 569.5h0.9v0.9h-0.9zM57.2 572.3h0.9v0.9h-0.9zM62.9 564.2h0.9v0.9h-0.9zM68.7 569.4h0.9v0.9h-0.9zM61.3 569.5h0.9v0.9h-0.9zM68.2 570.2h0.9v0.9h-0.9zM69.3 570.0h0.9v0.9h-0.9zM63.9 570.0h0.9v0.9h-0.9zM58.6 567.5h0.9v0.9h-0.9zM61.0 566.7h0.9v0.9h-0.9zM63.6 571.9h0.9v0.9h-0.9zM67.6 568.7h0.9v0.9h-0.9zM60.9 567.2h0.9v0.9h-0.9zM68.4 573.9h0.9v0.9h-0.9zM65.1 568.7h0.9v0.9h-0.9zM58.4 568.7h0.9v0.9h-0.9zM72.2 568.1h0.9v0.9h-0.9zM62.7 566.6h0.9v0.9h-0.9zM61.0 571.9h0.9v0.9h-0.9zM61.9 572.6h0.9v0.9h-0.9zM69.5 570.3h0.9v0.9h-0.9zM69.1 572.5h0.9v0.9h-0.9zM58.2 567.9h0.9v0.9h-0.9zM56.9 567.0h0.9v0.9h-0.9zM58.5 565.7h0.9v0.9h-0.9zM65.7 569.6h0.9v0.9h-0.9zM59.2 568.1h0.9v0.9h-0.9zM58.8 570.8h0.9v0.9h-0.9zM64.1 572.2h0.9v0.9h-0.9zM61.4 573.6h0.9v0.9h-0.9zM62.6 569.0h0.9v0.9h-0.9zM63.8 573.7h0.9v0.9h-0.9zM65.3 571.9h0.9v0.9h-0.9zM70.5 572.0h0.9v0.9h-0.9zM65.9 575.6h0.9v0.9h-0.9zM65.0 571.4h0.9v0.9h-0.9zM63.2 571.0h0.9v0.9h-0.9zM60.7 566.4h0.9v0.9h-0.9zM61.9 570.6h0.9v0.9h-0.9zM70.7 572.5h0.9v0.9h-0.9zM63.3 573.9h0.9v0.9h-0.9zM56.8 571.9h0.9v0.9h-0.9zM68.8 569.8h0.9v0.9h-0.9zM60.6 576.6h0.9v0.9h-0.9zM62.6 572.4h0.9v0.9h-0.9zM58.0 570.3h0.9v0.9h-0.9zM65.4 575.4h0.9v0.9h-0.9zM68.2 572.1h0.9v0.9h-0.9zM64.3 571.6h0.9v0.9h-0.9zM70.4 574.1h0.9v0.9h-0.9zM59.6 572.9h0.9v0.9h-0.9zM71.9 568.6h0.9v0.9h-0.9zM68.2 567.5h0.9v0.9h-0.9zM61.3 569.7h0.9v0.9h-0.9zM60.3 570.9h0.9v0.9h-0.9zM61.0 576.1h0.9v0.9h-0.9zM61.5 573.4h0.9v0.9h-0.9zM71.9 572.4h0.9v0.9h-0.9zM56.9 572.8h0.9v0.9h-0.9zM66.9 569.2h0.9v0.9h-0.9zM62.3 570.7h0.9v0.9h-0.9zM60.3 569.1h0.9v0.9h-0.9zM71.3 574.3h0.9v0.9h-0.9zM56.5 568.8h0.9v0.9h-0.9zM68.5 573.0h0.9v0.9h-0.9zM57.4 570.7h0.9v0.9h-0.9zM73.4 571.5h0.9v0.9h-0.9zM62.0 571.2h0.9v0.9h-0.9zM62.4 569.8h0.9v0.9h-0.9zM60.0 567.7h0.9v0.9h-0.9zM67.8 568.3h0.9v0.9h-0.9zM63.9 573.5h0.9v0.9h-0.9zM62.2 572.0h0.9v0.9h-0.9zM59.0 571.0h0.9v0.9h-0.9zM66.7 566.9h0.9v0.9h-0.9zM59.3 574.1h0.9v0.9h-0.9zM59.3 573.1h0.9v0.9h-0.9zM60.2 567.6h0.9v0.9h-0.9zM62.7 572.2h0.9v0.9h-0.9zM62.6 571.5h0.9v0.9h-0.9zM65.7 571.7h0.9v0.9h-0.9zM62.6 568.7h0.9v0.9h-0.9zM64.9 570.3h0.9v0.9h-0.9zM57.7 567.1h0.9v0.9h-0.9zM56.6 570.3h0.9v0.9h-0.9zM62.6 573.4h0.9v0.9h-0.9zM57.7 571.9h0.9v0.9h-0.9zM63.4 570.1h0.9v0.9h-0.9zM60.2 564.1h0.9v0.9h-0.9zM66.3 569.7h0.9v0.9h-0.9zM61.8 568.8h0.9v0.9h-0.9zM56.8 571.4h0.9v0.9h-0.9zM59.5 567.1h0.9v0.9h-0.9zM68.7 566.0h0.9v0.9h-0.9zM66.2 575.7h0.9v0.9h-0.9zM67.5 567.2h0.9v0.9h-0.9zM67.4 574.6h0.9v0.9h-0.9zM64.1 572.4h0.9v0.9h-0.9zM61.9 575.9h0.9v0.9h-0.9zM67.3 576.2h0.9v0.9h-0.9zM59.5 571.3h0.9v0.9h-0.9zM68.1 573.1h0.9v0.9h-0.9zM66.1 572.3h0.9v0.9h-0.9zM66.5 570.3h0.9v0.9h-0.9zM63.3 568.4h0.9v0.9h-0.9zM62.8 572.0h0.9v0.9h-0.9zM65.8 571.2h0.9v0.9h-0.9zM65.5 566.6h0.9v0.9h-0.9zM63.3 570.1h0.9v0.9h-0.9zM62.9 570.8h0.9v0.9h-0.9zM58.2 575.2h0.9v0.9h-0.9zM61.7 570.9h0.9v0.9h-0.9zM61.8 569.7h0.9v0.9h-0.9zM64.3 571.5h0.9v0.9h-0.9zM58.8 569.4h0.9v0.9h-0.9zM58.8 571.4h0.9v0.9h-0.9zM61.9 570.5h0.9v0.9h-0.9zM56.1 574.2h0.9v0.9h-0.9zM63.8 568.6h0.9v0.9h-0.9zM64.3 572.3h0.9v0.9h-0.9zM63.3 568.0h0.9v0.9h-0.9zM59.8 564.7h0.9v0.9h-0.9zM67.0 568.1h0.9v0.9h-0.9zM69.5 575.5h0.9v0.9h-0.9zM62.0 566.2h0.9v0.9h-0.9zM57.9 567.8h0.9v0.9h-0.9zM68.1 571.6h0.9v0.9h-0.9zM67.0 568.2h0.9v0.9h-0.9zM61.5 572.0h0.9v0.9h-0.9zM65.7 572.4h0.9v0.9h-0.9zM71.2 571.9h0.9v0.9h-0.9zM67.6 571.9h0.9v0.9h-0.9zM58.4 572.7h0.9v0.9h-0.9zM66.7 568.4h0.9v0.9h-0.9zM64.3 569.9h0.9v0.9h-0.9zM62.1 574.7h0.9v0.9h-0.9zM65.7 571.2h0.9v0.9h-0.9zM58.0 568.3h0.9v0.9h-0.9zM64.2 577.0h0.9v0.9h-0.9zM62.7 570.2h0.9v0.9h-0.9zM65.1 569.7h0.9v0.9h-0.9zM56.8 569.8h0.9v0.9h-0.9zM61.2 571.4h0.9v0.9h-0.9zM62.7 571.9h0.9v0.9h-0.9zM59.2 571.2h0.9v0.9h-0.9zM65.3 559.8h0.9v0.9h-0.9zM68.8 572.7h0.9v0.9h-0.9zM59.1 572.2h0.9v0.9h-0.9zM66.8 569.5h0.9v0.9h-0.9zM61.8 573.6h0.9v0.9h-0.9zM65.2 571.5h0.9v0.9h-0.9zM59.5 573.2h0.9v0.9h-0.9zM66.7 570.2h0.9v0.9h-0.9zM63.1 574.0h0.9v0.9h-0.9zM63.8 570.9h0.9v0.9h-0.9zM57.9 573.7h0.9v0.9h-0.9zM58.5 567.4h0.9v0.9h-0.9zM58.3 571.4h0.9v0.9h-0.9zM62.5 572.2h0.9v0.9h-0.9zM58.4 574.1h0.9v0.9h-0.9zM67.0 568.6h0.9v0.9h-0.9zM60.4 573.6h0.9v0.9h-0.9zM66.2 570.8h0.9v0.9h-0.9zM66.3 568.5h0.9v0.9h-0.9zM60.1 568.9h0.9v0.9h-0.9zM62.8 574.0h0.9v0.9h-0.9zM56.8 568.5h0.9v0.9h-0.9zM62.4 574.0h0.9v0.9h-0.9zM60.0 571.6h0.9v0.9h-0.9zM65.2 570.7h0.9v0.9h-0.9zM64.8 567.7h0.9v0.9h-0.9zM67.1 574.9h0.9v0.9h-0.9zM64.2 570.4h0.9v0.9h-0.9zM64.6 569.8h0.9v0.9h-0.9zM62.6 569.9h0.9v0.9h-0.9zM59.9 571.4h0.9v0.9h-0.9zM57.7 571.9h0.9v0.9h-0.9zM62.3 573.0h0.9v0.9h-0.9zM58.4 570.3h0.9v0.9h-0.9zM63.1 573.1h0.9v0.9h-0.9zM59.0 569.7h0.9v0.9h-0.9zM69.5 569.6h0.9v0.9h-0.9zM58.5 573.3h0.9v0.9h-0.9z" fill="#2a2aff" opacity="0.75"/>
<path d="M78.0 571.6h0.9v0.9h-0.9zM66.0 565.4h0.9v0.9h-0.9zM75.5 574.3h0.9v0.9h-0.9zM89.1 572.1h0.9v0.9h-0.9zM97.3 569.7h0.9v0.9h-0.9zM88.1 572.5h0.9v0.9h-0.9zM88.6 570.6h0.9v0.9h-0.9zM80.1 564.1h0.9v0.9h-0.9zM62.2 568.3h0.9v0.9h-0.9zM79.9 565.4h0.9v0.9h-0.9zM89.5 569.3h0.9v0.9h-0.9zM93.2 568.4h0.9v0.9h-0.9zM77.4 567.0h0.9v0.9h-0.9zM81.0 571.8h0.9v0.9h-0.9zM84.8 564.4h0.9v0.9h-0.9zM73.1 573.7h0.9v0.9h-0.9zM68.7 575.3h0.9v0.9h-0.9zM90.9 569.5h0.9v0.9h-0.9zM90.5 569.3h0.9v0.9h-0.9zM63.6 568.1h0.9v0.9h-0.9zM65.0 567.9h0.9v0.9h-0.9zM89.5 571.8h0.9v0.9h-0.9zM79.2 571.8h0.9v0.9h-0.9zM78.5 576.6h0.9v0.9h-0.9zM67.5 569.6h0.9v0.9h-0.9zM68.6 575.8h0.9v0.9h-0.9zM78.7 566.3h0.9v0.9h-0.9zM95.4 566.9h0.9v0.9h-0.9zM95.3 573.0h0.9v0.9h-0.9zM69.9 575.2h0.9v0.9h-0.9zM74.6 565.9h0.9v0.9h-0.9zM88.4 567.8h0.9v0.9h-0.9zM92.4 568.5h0.9v0.9h-0.9zM94.6 568.9h0.9v0.9h-0.9zM78.5 578.1h0.9v0.9h-0.9zM76.9 574.4h0.9v0.9h-0.9zM76.7 567.7h0.9v0.9h-0.9zM76.1 570.5h0.9v0.9h-0.9zM88.6 565.5h0.9v0.9h-0.9zM83.5 568.5h0.9v0.9h-0.9zM91.0 579.4h0.9v0.9h-0.9zM62.0 575.6h0.9v0.9h-0.9zM90.2 564.4h0.9v0.9h-0.9zM89.2 571.4h0.9v0.9h-0.9zM98.4 574.1h0.9v0.9h-0.9zM89.8 573.3h0.9v0.9h-0.9zM62.9 566.5h0.9v0.9h-0.9zM81.5 570.1h0.9v0.9h-0.9zM66.1 565.2h0.9v0.9h-0.9zM76.7 567.3h0.9v0.9h-0.9zM78.5 572.4h0.9v0.9h-0.9zM83.0 575.2h0.9v0.9h-0.9zM80.7 568.8h0.9v0.9h-0.9zM67.6 568.5h0.9v0.9h-0.9zM64.7 569.2h0.9v0.9h-0.9zM70.2 559.7h0.9v0.9h-0.9zM71.9 565.4h0.9v0.9h-0.9zM102.8 572.3h0.9v0.9h-0.9zM68.2 579.8h0.9v0.9h-0.9zM61.4 566.4h0.9v0.9h-0.9zM77.1 574.2h0.9v0.9h-0.9zM86.9 572.4h0.9v0.9h-0.9zM98.5 573.3h0.9v0.9h-0.9zM64.7 566.2h0.9v0.9h-0.9zM89.4 567.0h0.9v0.9h-0.9zM83.5 572.8h0.9v0.9h-0.9zM73.8 572.2h0.9v0.9h-0.9zM64.7 565.7h0.9v0.9h-0.9zM67.5 574.7h0.9v0.9h-0.9zM84.8 573.2h0.9v0.9h-0.9zM71.1 568.6h0.9v0.9h-0.9zM79.1 573.1h0.9v0.9h-0.9zM73.1 576.7h0.9v0.9h-0.9zM84.5 570.0h0.9v0.9h-0.9zM73.9 572.1h0.9v0.9h-0.9zM72.0 574.2h0.9v0.9h-0.9zM76.5 568.4h0.9v0.9h-0.9zM78.4 573.4h0.9v0.9h-0.9zM87.0 569.0h0.9v0.9h-0.9zM85.7 571.3h0.9v0.9h-0.9zM61.6 570.0h0.9v0.9h-0.9zM85.2 568.5h0.9v0.9h-0.9zM85.4 572.9h0.9v0.9h-0.9zM87.8 568.6h0.9v0.9h-0.9zM80.4 574.8h0.9v0.9h-0.9zM64.3 576.5h0.9v0.9h-0.9zM81.4 572.6h0.9v0.9h-0.9zM88.3 571.5h0.9v0.9h-0.9zM66.2 573.9h0.9v0.9h-0.9zM66.6 574.7h0.9v0.9h-0.9z" fill="#2a2aff" opacity="0.7"/>
<path d="M57.3 543.8h0.9v0.9h-0.9zM41.5 542.2h0.9v0.9h-0.9zM36.0 554.6h0.9v0.9h-0.9zM50.0 559.2h0.9v0.9h-0.9zM40.9 546.6h0.9v0.9h-0.9zM58.7 549.4h0.9v0.9h-0.9zM61.4 554.1h0.9v0.9h-0.9zM37.8 551.0h0.9v0.9h-0.9zM42.7 544.6h0.9v0.9h-0.9zM40.0 557.5h0.9v0.9h-0.9zM53.4 544.9h0.9v0.9h-0.9zM40.7 561.0h0.9v0.9h-0.9zM36.5 552.6h0.9v0.9h-0.9zM49.1 544.0h0.9v0.9h-0.9zM38.6 547.0h0.9v0.9h-0.9zM40.6 546.2h0.9v0.9h-0.9zM54.7 558.7h0.9v0.9h-0.9zM48.7 558.8h0.9v0.9h-0.9zM58.7 553.4h0.9v0.9h-0.9zM36.3 548.0h0.9v0.9h-0.9zM37.2 554.8h0.9v0.9h-0.9zM51.6 558.5h0.9v0.9h-0.9zM57.8 555.6h0.9v0.9h-0.9zM39.8 547.0h0.9v0.9h-0.9zM35.8 550.5h0.9v0.9h-0.9zM47.0 543.7h0.9v0.9h-0.9zM56.2 557.4h0.9v0.9h-0.9zM48.7 543.6h0.9v0.9h-0.9zM44.8 560.2h0.9v0.9h-0.9zM37.4 553.5h0.9v0.9h-0.9zM44.9 558.8h0.9v0.9h-0.9zM39.7 546.4h0.9v0.9h-0.9zM57.7 557.1h0.9v0.9h-0.9zM41.5 545.7h0.9v0.9h-0.9zM59.1 551.4h0.9v0.9h-0.9zM45.0 558.6h0.9v0.9h-0.9zM47.2 543.1h0.9v0.9h-0.9zM55.5 545.6h0.9v0.9h-0.9zM37.6 548.0h0.9v0.9h-0.9zM53.3 558.0h0.9v0.9h-0.9zM58.8 549.9h0.9v0.9h-0.9zM50.1 544.0h0.9v0.9h-0.9zM36.1 550.7h0.9v0.9h-0.9zM57.5 556.2h0.9v0.9h-0.9zM58.6 546.5h0.9v0.9h-0.9zM48.6 560.4h0.9v0.9h-0.9zM37.9 551.1h0.9v0.9h-0.9zM61.0 546.8h0.9v0.9h-0.9zM54.8 544.8h0.9v0.9h-0.9zM55.1 544.8h0.9v0.9h-0.9zM49.8 559.3h0.9v0.9h-0.9zM41.1 544.9h0.9v0.9h-0.9zM57.8 556.2h0.9v0.9h-0.9zM51.1 560.0h0.9v0.9h-0.9zM53.1 557.9h0.9v0.9h-0.9zM46.4 544.0h0.9v0.9h-0.9zM58.5 550.3h0.9v0.9h-0.9zM58.6 551.0h0.9v0.9h-0.9zM38.3 554.5h0.9v0.9h-0.9zM43.8 544.1h0.9v0.9h-0.9zM53.6 544.9h0.9v0.9h-0.9zM41.8 545.2h0.9v0.9h-0.9zM57.0 556.2h0.9v0.9h-0.9zM39.7 557.2h0.9v0.9h-0.9zM59.2 551.4h0.9v0.9h-0.9zM37.3 548.3h0.9v0.9h-0.9zM60.4 553.3h0.9v0.9h-0.9zM51.1 544.0h0.9v0.9h-0.9zM36.0 549.9h0.9v0.9h-0.9zM49.4 559.1h0.9v0.9h-0.9zM59.4 554.1h0.9v0.9h-0.9zM37.9 547.2h0.9v0.9h-0.9zM53.1 560.9h0.9v0.9h-0.9zM38.5 545.2h0.9v0.9h-0.9zM37.0 549.1h0.9v0.9h-0.9zM48.7 541.8h0.9v0.9h-0.9zM54.0 559.6h0.9v0.9h-0.9zM59.7 553.8h0.9v0.9h-0.9zM54.2 560.1h0.9v0.9h-0.9zM57.7 555.9h0.9v0.9h-0.9z" fill="#2a2aff" opacity="0.75"/>
<path d="M45.5 558.7h0.9v0.9h-0.9zM45.9 544.1h0.9v0.9h-0.9zM55.9 546.9h0.9v0.9h-0.9zM37.1 553.7h0.9v0.9h-0.9zM41.5 545.9h0.9v0.9h-0.9zM41.7 544.0h0.9v0.9h-0.9zM38.2 559.2h0.9v0.9h-0.9zM42.5 544.5h0.9v0.9h-0.9zM43.4 545.2h0.9v0.9h-0.9zM49.1 543.7h0.9v0.9h-0.9zM41.8 545.9h0.9v0.9h-0.9zM53.0 542.7h0.9v0.9h-0.9zM46.0 543.3h0.9v0.9h-0.9zM55.3 558.3h0.9v0.9h-0.9zM58.0 547.8h0.9v0.9h-0.9zM53.6 559.1h0.9v0.9h-0.9zM41.8 544.6h0.9v0.9h-0.9zM53.7 543.9h0.9v0.9h-0.9zM53.2 558.9h0.9v0.9h-0.9zM55.3 544.9h0.9v0.9h-0.9zM56.8 547.5h0.9v0.9h-0.9zM50.9 559.6h0.9v0.9h-0.9zM52.2 544.0h0.9v0.9h-0.9zM39.4 547.5h0.9v0.9h-0.9zM53.2 545.0h0.9v0.9h-0.9zM58.5 556.4h0.9v0.9h-0.9zM59.7 556.0h0.9v0.9h-0.9zM42.1 557.9h0.9v0.9h-0.9zM58.8 551.3h0.9v0.9h-0.9zM51.7 559.3h0.9v0.9h-0.9zM48.2 543.9h0.9v0.9h-0.9zM38.2 547.5h0.9v0.9h-0.9zM39.0 555.9h0.9v0.9h-0.9zM50.3 560.1h0.9v0.9h-0.9zM39.4 547.4h0.9v0.9h-0.9zM52.0 561.1h0.9v0.9h-0.9zM56.2 547.2h0.9v0.9h-0.9zM61.2 553.7h0.9v0.9h-0.9zM58.7 551.1h0.9v0.9h-0.9zM39.2 547.7h0.9v0.9h-0.9zM51.2 544.9h0.9v0.9h-0.9zM43.7 559.1h0.9v0.9h-0.9zM45.6 560.6h0.9v0.9h-0.9zM56.4 556.3h0.9v0.9h-0.9zM50.1 559.4h0.9v0.9h-0.9zM51.0 560.8h0.9v0.9h-0.9zM42.8 545.2h0.9v0.9h-0.9zM44.4 544.3h0.9v0.9h-0.9zM54.9 545.6h0.9v0.9h-0.9zM38.2 549.4h0.9v0.9h-0.9zM38.9 555.9h0.9v0.9h-0.9zM59.5 553.3h0.9v0.9h-0.9zM48.4 543.2h0.9v0.9h-0.9zM38.3 555.9h0.9v0.9h-0.9zM35.5 558.1h0.9v0.9h-0.9zM37.9 549.1h0.9v0.9h-0.9zM37.4 553.3h0.9v0.9h-0.9zM58.9 552.5h0.9v0.9h-0.9zM51.3 542.4h0.9v0.9h-0.9zM51.7 544.1h0.9v0.9h-0.9zM40.6 546.3h0.9v0.9h-0.9zM57.2 555.2h0.9v0.9h-0.9zM34.3 549.7h0.9v0.9h-0.9zM50.9 543.3h0.9v0.9h-0.9zM41.7 545.9h0.9v0.9h-0.9zM53.7 560.1h0.9v0.9h-0.9zM58.9 556.1h0.9v0.9h-0.9zM50.8 559.0h0.9v0.9h-0.9zM57.6 558.1h0.9v0.9h-0.9zM36.8 552.6h0.9v0.9h-0.9zM50.9 559.6h0.9v0.9h-0.9zM40.6 558.5h0.9v0.9h-0.9zM55.8 556.8h0.9v0.9h-0.9zM59.6 549.8h0.9v0.9h-0.9zM58.1 557.1h0.9v0.9h-0.9zM46.0 559.7h0.9v0.9h-0.9zM61.2 553.7h0.9v0.9h-0.9zM40.7 545.1h0.9v0.9h-0.9zM60.0 549.6h0.9v0.9h-0.9zM51.3 559.3h0.9v0.9h-0.9z" fill="#5a5aff" opacity="0.5"/>
<path d="M36.1 569.9h0.9v0.9h-0.9zM58.0 566.2h0.9v0.9h-0.9zM48.0 562.0h0.9v0.9h-0.9zM58.2 567.2h0.9v0.9h-0.9zM40.6 565.8h0.9v0.9h-0.9zM40.1 566.4h0.9v0.9h-0.9zM43.4 563.9h0.9v0.9h-0.9zM38.1 571.7h0.9v0.9h-0.9zM57.5 573.3h0.9v0.9h-0.9zM37.3 570.4h0.9v0.9h-0.9zM57.4 566.1h0.9v0.9h-0.9zM59.6 572.2h0.9v0.9h-0.9zM39.8 574.2h0.9v0.9h-0.9zM47.2 564.2h0.9v0.9h-0.9zM60.8 570.7h0.9v0.9h-0.9zM44.9 563.7h0.9v0.9h-0.9zM46.8 564.2h0.9v0.9h-0.9zM57.1 567.4h0.9v0.9h-0.9zM38.0 567.1h0.9v0.9h-0.9zM60.7 568.2h0.9v0.9h-0.9zM35.7 565.9h0.9v0.9h-0.9zM46.9 577.0h0.9v0.9h-0.9zM37.8 567.2h0.9v0.9h-0.9zM56.2 576.2h0.9v0.9h-0.9zM41.6 576.6h0.9v0.9h-0.9zM60.2 570.6h0.9v0.9h-0.9zM57.1 566.4h0.9v0.9h-0.9zM53.0 576.1h0.9v0.9h-0.9zM47.9 576.1h0.9v0.9h-0.9zM44.2 563.7h0.9v0.9h-0.9zM54.2 565.3h0.9v0.9h-0.9zM38.7 573.9h0.9v0.9h-0.9zM57.5 566.0h0.9v0.9h-0.9zM57.6 566.7h0.9v0.9h-0.9zM61.9 569.4h0.9v0.9h-0.9zM52.0 576.3h0.9v0.9h-0.9zM40.0 573.7h0.9v0.9h-0.9zM36.4 568.5h0.9v0.9h-0.9zM46.1 564.4h0.9v0.9h-0.9zM37.1 569.7h0.9v0.9h-0.9zM37.8 572.3h0.9v0.9h-0.9zM53.9 574.8h0.9v0.9h-0.9zM47.8 564.3h0.9v0.9h-0.9zM50.7 563.8h0.9v0.9h-0.9zM59.4 573.9h0.9v0.9h-0.9zM58.8 564.3h0.9v0.9h-0.9zM56.7 574.9h0.9v0.9h-0.9zM35.2 567.9h0.9v0.9h-0.9zM35.8 571.0h0.9v0.9h-0.9zM47.3 578.3h0.9v0.9h-0.9zM37.8 566.1h0.9v0.9h-0.9zM45.0 576.7h0.9v0.9h-0.9zM58.4 571.1h0.9v0.9h-0.9zM58.1 575.1h0.9v0.9h-0.9zM57.0 565.8h0.9v0.9h-0.9zM44.4 564.5h0.9v0.9h-0.9zM37.5 572.4h0.9v0.9h-0.9zM35.9 567.7h0.9v0.9h-0.9zM59.1 569.9h0.9v0.9h-0.9zM46.1 564.6h0.9v0.9h-0.9zM38.7 575.1h0.9v0.9h-0.9zM54.1 563.7h0.9v0.9h-0.9zM37.1 574.5h0.9v0.9h-0.9zM58.7 569.1h0.9v0.9h-0.9zM59.1 573.6h0.9v0.9h-0.9zM56.8 565.9h0.9v0.9h-0.9zM53.0 565.2h0.9v0.9h-0.9zM42.0 565.2h0.9v0.9h-0.9zM55.8 573.9h0.9v0.9h-0.9zM59.1 570.1h0.9v0.9h-0.9z" fill="#2a2aff" opacity="0.75"/>
<path d="M36.3 569.8h0.9v0.9h-0.9zM55.6 576.8h0.9v0.9h-0.9zM48.4 576.9h0.9v0.9h-0.9zM58.2 568.8h0.9v0.9h-0.9zM45.6 577.4h0.9v0.9h-0.9zM56.9 567.2h0.9v0.9h-0.9zM36.0 566.9h0.9v0.9h-0.9zM40.9 576.6h0.9v0.9h-0.9zM56.3 566.1h0.9v0.9h-0.9zM47.0 575.7h0.9v0.9h-0.9zM44.1 563.5h0.9v0.9h-0.9zM51.4 576.1h0.9v0.9h-0.9zM41.0 565.0h0.9v0.9h-0.9zM42.9 576.8h0.9v0.9h-0.9zM54.0 564.8h0.9v0.9h-0.9zM39.8 566.6h0.9v0.9h-0.9zM36.4 571.6h0.9v0.9h-0.9zM36.6 570.3h0.9v0.9h-0.9zM55.2 565.7h0.9v0.9h-0.9zM37.4 571.8h0.9v0.9h-0.9zM57.6 566.9h0.9v0.9h-0.9zM50.0 564.2h0.9v0.9h-0.9zM37.8 572.4h0.9v0.9h-0.9zM39.1 574.2h0.9v0.9h-0.9zM43.4 575.1h0.9v0.9h-0.9zM56.7 574.2h0.9v0.9h-0.9zM60.1 573.1h0.9v0.9h-0.9zM57.6 573.2h0.9v0.9h-0.9zM37.0 570.8h0.9v0.9h-0.9zM38.1 572.4h0.9v0.9h-0.9zM45.2 575.9h0.9v0.9h-0.9zM36.8 567.4h0.9v0.9h-0.9zM35.4 570.2h0.9v0.9h-0.9zM50.6 576.5h0.9v0.9h-0.9zM54.8 564.0h0.9v0.9h-0.9zM59.3 570.5h0.9v0.9h-0.9zM40.0 574.2h0.9v0.9h-0.9zM36.3 570.4h0.9v0.9h-0.9zM49.2 564.7h0.9v0.9h-0.9zM57.7 573.0h0.9v0.9h-0.9zM42.7 563.4h0.9v0.9h-0.9zM38.2 572.5h0.9v0.9h-0.9zM58.7 569.1h0.9v0.9h-0.9zM54.8 575.6h0.9v0.9h-0.9zM56.1 574.2h0.9v0.9h-0.9zM42.4 576.2h0.9v0.9h-0.9zM52.5 575.3h0.9v0.9h-0.9zM36.0 573.9h0.9v0.9h-0.9zM38.0 573.1h0.9v0.9h-0.9zM56.4 566.5h0.9v0.9h-0.9zM38.3 568.4h0.9v0.9h-0.9zM36.5 569.7h0.9v0.9h-0.9zM44.1 575.6h0.9v0.9h-0.9zM54.0 576.5h0.9v0.9h-0.9zM42.8 575.0h0.9v0.9h-0.9zM53.1 575.4h0.9v0.9h-0.9zM48.5 576.1h0.9v0.9h-0.9zM59.2 567.5h0.9v0.9h-0.9zM61.4 573.2h0.9v0.9h-0.9zM37.5 571.6h0.9v0.9h-0.9zM37.5 567.6h0.9v0.9h-0.9zM35.2 573.5h0.9v0.9h-0.9zM38.4 574.6h0.9v0.9h-0.9zM36.7 570.3h0.9v0.9h-0.9zM40.6 564.4h0.9v0.9h-0.9zM37.2 567.8h0.9v0.9h-0.9zM42.1 564.9h0.9v0.9h-0.9zM35.3 571.1h0.9v0.9h-0.9zM61.1 573.0h0.9v0.9h-0.9zM40.8 575.6h0.9v0.9h-0.9z" fill="#5a5aff" opacity="0.5"/>
<path d="M47.2 545.3h0.9v0.9h-0.9zM45.3 563.0h0.9v0.9h-0.9zM53.1 575.8h0.9v0.9h-0.9zM43.3 567.4h0.9v0.9h-0.9zM33.3 546.9h0.9v0.9h-0.9zM56.2 551.5h0.9v0.9h-0.9zM33.6 560.9h0.9v0.9h-0.9zM36.0 562.2h0.9v0.9h-0.9zM40.2 566.6h0.9v0.9h-0.9zM42.0 544.5h0.9v0.9h-0.9zM33.7 548.2h0.9v0.9h-0.9zM42.5 562.0h0.9v0.9h-0.9zM49.4 552.4h0.9v0.9h-0.9zM43.1 568.9h0.9v0.9h-0.9zM58.8 552.2h0.9v0.9h-0.9zM33.4 568.9h0.9v0.9h-0.9zM52.0 542.8h0.9v0.9h-0.9zM35.8 544.6h0.9v0.9h-0.9zM43.9 549.8h0.9v0.9h-0.9zM31.9 558.1h0.9v0.9h-0.9zM37.9 553.3h0.9v0.9h-0.9zM37.5 581.1h0.9v0.9h-0.9zM31.9 563.4h0.9v0.9h-0.9zM41.8 555.5h0.9v0.9h-0.9zM46.1 561.6h0.9v0.9h-0.9zM55.2 569.5h0.9v0.9h-0.9zM49.4 550.7h0.9v0.9h-0.9zM48.4 551.3h0.9v0.9h-0.9zM47.5 579.9h0.9v0.9h-0.9zM55.9 548.0h0.9v0.9h-0.9z" fill="#4a4aff" opacity="0.55"/>
<g filter="url(#bl)">
<ellipse cx="48.10" cy="551.70" rx="12.80" ry="9.30" fill="#6a6aff" opacity="0.35"/>
<ellipse cx="48.10" cy="551.70" rx="11.60" ry="8.30" fill="#3535ff" opacity="0.6"/>
<ellipse cx="48.10" cy="551.70" rx="10.80" ry="7.60" fill="#0000ff"/>
<ellipse cx="48.10" cy="551.70" rx="9.40" ry="6.40" fill="#0040ff"/>
<ellipse cx="48.10" cy="551.70" rx="8.30" ry="5.50" fill="#0090ff"/>
<ellipse cx="48.10" cy="551.70" rx="7.40" ry="4.70" fill="#00d0ff"/>
<ellipse cx="48.10" cy="551.40" rx="6.30" ry="3.90" fill="#20f0c0"/>
<ellipse cx="48.10" cy="551.40" rx="5.20" ry="3.00" fill="#70ff50"/>
<ellipse cx="48.10" cy="551.30" rx="3.90" ry="2.10" fill="#d0ff10"/>
<ellipse cx="48.10" cy="551.30" rx="2.80" ry="1.40" fill="#ffc000"/>
<ellipse cx="48.10" cy="551.30" rx="1.60" ry="0.80" fill="#ff8000"/>
</g>
<g filter="url(#bl)">
<ellipse cx="48.10" cy="570.20" rx="12.60" ry="7.40" fill="#6a6aff" opacity="0.35"/>
<ellipse cx="48.10" cy="570.20" rx="11.50" ry="6.60" fill="#3535ff" opacity="0.6"/>
<ellipse cx="48.10" cy="570.20" rx="10.80" ry="5.90" fill="#0000ff"/>
<ellipse cx="48.10" cy="570.20" rx="9.40" ry="4.90" fill="#0040ff"/>
<ellipse cx="48.10" cy="570.20" rx="8.30" ry="4.10" fill="#0090ff"/>
<ellipse cx="48.10" cy="570.20" rx="7.30" ry="3.40" fill="#00d0ff"/>
<ellipse cx="48.10" cy="570.20" rx="6.20" ry="2.80" fill="#20f0c0"/>
<ellipse cx="48.10" cy="570.20" rx="5.20" ry="2.20" fill="#70ff50"/>
<ellipse cx="48.50" cy="570.20" rx="4.30" ry="1.70" fill="#e8ff10"/>
<ellipse cx="48.50" cy="570.20" rx="3.60" ry="1.20" fill="#ff8000"/>
<ellipse cx="48.50" cy="570.20" rx="3.00" ry="0.80" fill="#ff1a00"/>
</g>
<text x="35" y="607" font-size="9.6">RORγt – PE</text>
<text x="14.5" y="594" font-size="9.6" transform="rotate(-90 14.5 594)">Lgp130– ZsGreen</text>
<rect x="27.70" y="673.50" width="79.00" height="79.70" fill="none" stroke="#9a9a9a" stroke-width="1.1"/>
<line x1="26.6" y1="746.8" x2="28.0" y2="746.8" stroke="#333" stroke-width="0.7"/><line x1="26.6" y1="737.3" x2="28.0" y2="737.3" stroke="#333" stroke-width="0.7"/><line x1="25.9" y1="729.3" x2="28.0" y2="729.3" stroke="#333" stroke-width="0.7"/><line x1="26.6" y1="721.3" x2="28.0" y2="721.3" stroke="#333" stroke-width="0.7"/><line x1="26.6" y1="713.4" x2="28.0" y2="713.4" stroke="#333" stroke-width="0.7"/><line x1="25.9" y1="705.4" x2="28.0" y2="705.4" stroke="#333" stroke-width="0.7"/><line x1="26.6" y1="697.4" x2="28.0" y2="697.4" stroke="#333" stroke-width="0.7"/><line x1="26.6" y1="689.4" x2="28.0" y2="689.4" stroke="#333" stroke-width="0.7"/><line x1="25.9" y1="679.9" x2="28.0" y2="679.9" stroke="#333" stroke-width="0.7"/><line x1="31.6" y1="752.9" x2="31.6" y2="754.2" stroke="#333" stroke-width="0.7"/><line x1="37.2" y1="752.9" x2="37.2" y2="754.2" stroke="#333" stroke-width="0.7"/><line x1="43.5" y1="752.9" x2="43.5" y2="754.8" stroke="#333" stroke-width="0.7"/><line x1="53.0" y1="752.9" x2="53.0" y2="754.2" stroke="#333" stroke-width="0.7"/><line x1="59.3" y1="752.9" x2="59.3" y2="754.2" stroke="#333" stroke-width="0.7"/><line x1="64.0" y1="752.9" x2="64.0" y2="754.8" stroke="#333" stroke-width="0.7"/><line x1="68.8" y1="752.9" x2="68.8" y2="754.2" stroke="#333" stroke-width="0.7"/><line x1="75.1" y1="752.9" x2="75.1" y2="754.2" stroke="#333" stroke-width="0.7"/><line x1="83.0" y1="752.9" x2="83.0" y2="754.8" stroke="#333" stroke-width="0.7"/><line x1="90.9" y1="752.9" x2="90.9" y2="754.2" stroke="#333" stroke-width="0.7"/><line x1="97.2" y1="752.9" x2="97.2" y2="754.2" stroke="#333" stroke-width="0.7"/><line x1="102.8" y1="752.9" x2="102.8" y2="754.2" stroke="#333" stroke-width="0.7"/>
<line x1="20.5" y1="673.6" x2="20.5" y2="758.6999999999999" stroke="#000" stroke-width="1.8"/>
<path d="M16.9 675.3000000000001L20.5 668.6L24.1 675.3000000000001Z" fill="#000"/>
<line x1="19.6" y1="757.8" x2="105.8" y2="757.8" stroke="#000" stroke-width="1.8"/>
<path d="M104.1 754.1999999999999L110.8 757.8L104.1 761.4Z" fill="#000"/>
<line x1="70.4" y1="673.5" x2="70.4" y2="753.2" stroke="#6a6a6a" stroke-width="0.9"/>
<line x1="27.7" y1="724.4" x2="106.7" y2="724.4" stroke="#1a1a1a" stroke-width="1.1"/>
<text x="102.8" y="684.5" font-size="6.7" text-anchor="end" fill="#1a1a1a" stroke="#1a1a1a" stroke-width="0.12">7.43</text>
<text x="102.8" y="742.2" font-size="6.7" text-anchor="end" fill="#1a1a1a" stroke="#1a1a1a" stroke-width="0.12">28.1</text>
<line x1="70.4" y1="752.3" x2="106.7" y2="752.3" stroke="#aaa" stroke-width="1.0"/>
<line x1="70.4" y1="673.9" x2="106.7" y2="673.9" stroke="#555" stroke-width="1.4"/>
<line x1="106.3" y1="673.5" x2="106.3" y2="753.2" stroke="#555" stroke-width="1.3"/>
<path d="M32.4 713.3h0.9v0.9h-0.9zM55.5 707.6h0.9v0.9h-0.9zM41.1 720.9h0.9v0.9h-0.9zM55.2 707.1h0.9v0.9h-0.9zM64.1 721.2h0.9v0.9h-0.9zM35.2 717.6h0.9v0.9h-0.9zM66.7 719.8h0.9v0.9h-0.9zM69.8 711.9h0.9v0.9h-0.9zM34.5 711.7h0.9v0.9h-0.9zM63.0 721.7h0.9v0.9h-0.9zM32.3 714.4h0.9v0.9h-0.9zM58.4 721.9h0.9v0.9h-0.9zM69.9 715.1h0.9v0.9h-0.9zM66.1 719.0h0.9v0.9h-0.9zM33.5 714.1h0.9v0.9h-0.9zM72.7 712.9h0.9v0.9h-0.9zM27.5 715.4h0.9v0.9h-0.9zM42.4 721.9h0.9v0.9h-0.9zM69.5 718.4h0.9v0.9h-0.9zM68.5 719.5h0.9v0.9h-0.9zM49.1 705.1h0.9v0.9h-0.9zM54.5 707.4h0.9v0.9h-0.9zM43.8 707.9h0.9v0.9h-0.9zM56.6 705.3h0.9v0.9h-0.9zM34.3 719.2h0.9v0.9h-0.9zM57.9 707.9h0.9v0.9h-0.9zM47.9 722.3h0.9v0.9h-0.9zM59.2 708.3h0.9v0.9h-0.9zM59.5 707.6h0.9v0.9h-0.9zM65.6 709.7h0.9v0.9h-0.9zM68.5 718.3h0.9v0.9h-0.9zM38.9 708.5h0.9v0.9h-0.9zM32.6 719.5h0.9v0.9h-0.9zM36.4 718.5h0.9v0.9h-0.9zM45.9 722.7h0.9v0.9h-0.9zM66.4 711.0h0.9v0.9h-0.9zM41.4 721.7h0.9v0.9h-0.9zM69.3 718.0h0.9v0.9h-0.9zM43.0 721.6h0.9v0.9h-0.9zM75.5 715.5h0.9v0.9h-0.9zM31.7 713.3h0.9v0.9h-0.9zM27.9 714.2h0.9v0.9h-0.9zM56.3 707.9h0.9v0.9h-0.9zM49.8 721.9h0.9v0.9h-0.9zM27.3 710.2h0.9v0.9h-0.9zM40.0 706.9h0.9v0.9h-0.9zM61.4 708.5h0.9v0.9h-0.9zM65.8 718.9h0.9v0.9h-0.9zM32.1 713.1h0.9v0.9h-0.9zM60.8 721.2h0.9v0.9h-0.9zM31.2 715.7h0.9v0.9h-0.9zM31.4 717.7h0.9v0.9h-0.9zM46.7 722.7h0.9v0.9h-0.9zM69.0 717.3h0.9v0.9h-0.9zM66.7 719.1h0.9v0.9h-0.9zM68.2 713.1h0.9v0.9h-0.9zM34.8 717.7h0.9v0.9h-0.9zM64.7 719.7h0.9v0.9h-0.9zM32.5 711.4h0.9v0.9h-0.9zM30.4 719.0h0.9v0.9h-0.9z" fill="#2a2aff" opacity="0.75"/>
<path d="M67.2 720.1h0.9v0.9h-0.9zM63.0 720.4h0.9v0.9h-0.9zM56.7 723.3h0.9v0.9h-0.9zM35.2 718.6h0.9v0.9h-0.9zM29.6 716.3h0.9v0.9h-0.9zM71.8 717.5h0.9v0.9h-0.9zM59.7 721.8h0.9v0.9h-0.9zM67.2 711.5h0.9v0.9h-0.9zM33.3 718.0h0.9v0.9h-0.9zM33.9 718.3h0.9v0.9h-0.9zM39.3 707.8h0.9v0.9h-0.9zM69.6 711.3h0.9v0.9h-0.9zM67.3 709.8h0.9v0.9h-0.9zM53.8 722.2h0.9v0.9h-0.9zM57.3 706.0h0.9v0.9h-0.9zM45.9 724.9h0.9v0.9h-0.9zM66.5 719.9h0.9v0.9h-0.9zM39.2 708.4h0.9v0.9h-0.9zM29.2 709.6h0.9v0.9h-0.9zM48.8 722.3h0.9v0.9h-0.9zM57.5 708.0h0.9v0.9h-0.9zM60.2 722.4h0.9v0.9h-0.9zM36.4 719.2h0.9v0.9h-0.9zM36.5 707.8h0.9v0.9h-0.9zM67.0 707.2h0.9v0.9h-0.9zM69.6 710.0h0.9v0.9h-0.9zM70.7 713.1h0.9v0.9h-0.9zM39.1 720.1h0.9v0.9h-0.9zM31.4 716.7h0.9v0.9h-0.9zM40.1 709.3h0.9v0.9h-0.9zM35.0 718.5h0.9v0.9h-0.9zM65.1 707.3h0.9v0.9h-0.9zM43.0 707.6h0.9v0.9h-0.9zM57.3 723.3h0.9v0.9h-0.9zM43.8 707.9h0.9v0.9h-0.9zM32.1 712.9h0.9v0.9h-0.9zM71.1 716.2h0.9v0.9h-0.9zM34.2 710.0h0.9v0.9h-0.9zM39.0 720.0h0.9v0.9h-0.9zM44.2 724.3h0.9v0.9h-0.9zM71.7 714.4h0.9v0.9h-0.9zM45.7 721.8h0.9v0.9h-0.9zM40.6 721.7h0.9v0.9h-0.9zM41.4 721.2h0.9v0.9h-0.9zM67.8 709.7h0.9v0.9h-0.9zM34.5 711.4h0.9v0.9h-0.9zM71.6 718.6h0.9v0.9h-0.9zM36.1 707.1h0.9v0.9h-0.9zM69.8 715.4h0.9v0.9h-0.9zM68.1 710.2h0.9v0.9h-0.9zM33.2 714.4h0.9v0.9h-0.9zM68.2 712.1h0.9v0.9h-0.9zM71.1 709.0h0.9v0.9h-0.9zM71.8 717.8h0.9v0.9h-0.9zM42.7 721.1h0.9v0.9h-0.9zM51.4 723.4h0.9v0.9h-0.9zM32.5 717.2h0.9v0.9h-0.9zM32.8 716.7h0.9v0.9h-0.9zM69.5 710.6h0.9v0.9h-0.9zM62.8 720.8h0.9v0.9h-0.9z" fill="#5a5aff" opacity="0.5"/>
<path d="M68.9 731.1h0.9v0.9h-0.9zM68.4 733.3h0.9v0.9h-0.9zM76.1 734.5h0.9v0.9h-0.9zM35.8 734.9h0.9v0.9h-0.9zM47.7 726.7h0.9v0.9h-0.9zM68.6 730.0h0.9v0.9h-0.9zM68.8 732.9h0.9v0.9h-0.9zM35.5 729.8h0.9v0.9h-0.9zM40.9 737.1h0.9v0.9h-0.9zM60.4 726.0h0.9v0.9h-0.9zM73.1 732.9h0.9v0.9h-0.9zM40.3 728.0h0.9v0.9h-0.9zM37.5 738.2h0.9v0.9h-0.9zM66.2 736.3h0.9v0.9h-0.9zM65.9 736.5h0.9v0.9h-0.9zM67.8 729.7h0.9v0.9h-0.9zM68.1 726.6h0.9v0.9h-0.9zM55.7 725.8h0.9v0.9h-0.9zM32.0 733.3h0.9v0.9h-0.9zM34.5 730.1h0.9v0.9h-0.9zM55.5 726.5h0.9v0.9h-0.9zM55.1 726.6h0.9v0.9h-0.9zM40.6 737.3h0.9v0.9h-0.9zM50.9 726.6h0.9v0.9h-0.9zM42.7 727.5h0.9v0.9h-0.9zM67.8 737.1h0.9v0.9h-0.9zM31.9 733.7h0.9v0.9h-0.9zM58.8 726.6h0.9v0.9h-0.9zM65.9 728.5h0.9v0.9h-0.9zM62.9 727.7h0.9v0.9h-0.9zM39.2 737.7h0.9v0.9h-0.9zM47.8 726.9h0.9v0.9h-0.9zM28.9 735.4h0.9v0.9h-0.9zM48.2 726.2h0.9v0.9h-0.9zM54.8 725.4h0.9v0.9h-0.9zM62.8 728.2h0.9v0.9h-0.9zM36.4 736.0h0.9v0.9h-0.9zM46.7 726.9h0.9v0.9h-0.9zM36.3 735.8h0.9v0.9h-0.9zM31.5 732.3h0.9v0.9h-0.9zM52.4 726.6h0.9v0.9h-0.9zM54.7 739.1h0.9v0.9h-0.9zM66.1 728.5h0.9v0.9h-0.9zM44.0 737.4h0.9v0.9h-0.9zM71.7 733.5h0.9v0.9h-0.9zM37.8 739.2h0.9v0.9h-0.9zM33.0 734.2h0.9v0.9h-0.9zM70.9 734.7h0.9v0.9h-0.9zM55.5 739.3h0.9v0.9h-0.9zM31.5 731.6h0.9v0.9h-0.9zM44.5 727.1h0.9v0.9h-0.9zM33.1 728.8h0.9v0.9h-0.9zM45.6 726.0h0.9v0.9h-0.9zM38.8 727.2h0.9v0.9h-0.9zM56.7 726.8h0.9v0.9h-0.9z" fill="#2a2aff" opacity="0.75"/>
<path d="M52.8 738.3h0.9v0.9h-0.9zM49.9 725.7h0.9v0.9h-0.9zM63.9 736.1h0.9v0.9h-0.9zM58.9 737.1h0.9v0.9h-0.9zM34.5 734.2h0.9v0.9h-0.9zM29.7 729.0h0.9v0.9h-0.9zM35.2 728.1h0.9v0.9h-0.9zM32.4 732.6h0.9v0.9h-0.9zM61.4 737.5h0.9v0.9h-0.9zM31.2 732.6h0.9v0.9h-0.9zM33.2 730.7h0.9v0.9h-0.9zM65.9 735.8h0.9v0.9h-0.9zM59.0 737.5h0.9v0.9h-0.9zM34.7 730.0h0.9v0.9h-0.9zM42.4 727.5h0.9v0.9h-0.9zM61.8 736.6h0.9v0.9h-0.9zM71.4 733.2h0.9v0.9h-0.9zM70.9 731.3h0.9v0.9h-0.9zM55.9 738.5h0.9v0.9h-0.9zM34.5 728.8h0.9v0.9h-0.9zM69.2 727.2h0.9v0.9h-0.9zM33.4 733.1h0.9v0.9h-0.9zM42.1 737.4h0.9v0.9h-0.9zM55.2 737.5h0.9v0.9h-0.9zM31.5 729.1h0.9v0.9h-0.9zM49.6 726.2h0.9v0.9h-0.9zM74.2 732.4h0.9v0.9h-0.9zM50.5 738.2h0.9v0.9h-0.9zM34.3 730.3h0.9v0.9h-0.9zM75.8 728.3h0.9v0.9h-0.9zM40.5 726.3h0.9v0.9h-0.9zM43.7 726.3h0.9v0.9h-0.9zM40.9 727.0h0.9v0.9h-0.9zM47.5 738.0h0.9v0.9h-0.9zM32.1 731.6h0.9v0.9h-0.9zM65.0 736.3h0.9v0.9h-0.9zM65.2 728.6h0.9v0.9h-0.9zM55.6 739.3h0.9v0.9h-0.9zM37.0 727.3h0.9v0.9h-0.9zM71.3 730.9h0.9v0.9h-0.9zM68.6 730.6h0.9v0.9h-0.9zM51.9 737.8h0.9v0.9h-0.9zM66.8 728.6h0.9v0.9h-0.9zM64.7 728.5h0.9v0.9h-0.9zM41.4 727.9h0.9v0.9h-0.9zM74.3 733.5h0.9v0.9h-0.9zM41.6 737.7h0.9v0.9h-0.9zM39.1 736.2h0.9v0.9h-0.9zM63.3 737.4h0.9v0.9h-0.9zM47.6 726.5h0.9v0.9h-0.9zM47.8 738.8h0.9v0.9h-0.9zM64.4 737.3h0.9v0.9h-0.9zM67.2 735.5h0.9v0.9h-0.9zM32.9 733.3h0.9v0.9h-0.9zM68.9 733.3h0.9v0.9h-0.9z" fill="#5a5aff" opacity="0.5"/>
<path d="M87.6 711.6h0.9v0.9h-0.9zM81.6 720.7h0.9v0.9h-0.9zM82.9 720.6h0.9v0.9h-0.9zM77.7 720.6h0.9v0.9h-0.9zM82.7 720.3h0.9v0.9h-0.9zM84.6 718.3h0.9v0.9h-0.9zM74.8 719.7h0.9v0.9h-0.9zM74.7 717.6h0.9v0.9h-0.9zM73.5 718.2h0.9v0.9h-0.9zM79.0 719.3h0.9v0.9h-0.9zM83.0 705.8h0.9v0.9h-0.9zM75.9 719.5h0.9v0.9h-0.9zM72.7 714.2h0.9v0.9h-0.9zM86.9 709.1h0.9v0.9h-0.9zM83.7 706.1h0.9v0.9h-0.9zM88.4 712.2h0.9v0.9h-0.9zM87.0 713.0h0.9v0.9h-0.9zM71.7 714.6h0.9v0.9h-0.9zM86.6 713.0h0.9v0.9h-0.9zM77.4 719.5h0.9v0.9h-0.9zM73.1 707.7h0.9v0.9h-0.9zM69.8 712.5h0.9v0.9h-0.9zM84.7 717.1h0.9v0.9h-0.9zM83.9 718.0h0.9v0.9h-0.9zM85.3 717.6h0.9v0.9h-0.9zM75.4 717.8h0.9v0.9h-0.9zM72.4 713.1h0.9v0.9h-0.9zM85.8 718.0h0.9v0.9h-0.9zM87.3 714.3h0.9v0.9h-0.9zM71.7 707.8h0.9v0.9h-0.9zM86.3 715.3h0.9v0.9h-0.9zM84.8 719.4h0.9v0.9h-0.9zM81.3 704.6h0.9v0.9h-0.9zM78.2 719.0h0.9v0.9h-0.9zM79.2 720.4h0.9v0.9h-0.9zM86.4 709.5h0.9v0.9h-0.9zM85.3 708.4h0.9v0.9h-0.9zM84.9 720.8h0.9v0.9h-0.9zM85.5 708.1h0.9v0.9h-0.9zM86.9 713.9h0.9v0.9h-0.9zM81.2 702.9h0.9v0.9h-0.9zM86.1 718.2h0.9v0.9h-0.9zM82.6 719.5h0.9v0.9h-0.9zM77.5 704.9h0.9v0.9h-0.9zM84.1 717.5h0.9v0.9h-0.9z" fill="#2a2aff" opacity="0.75"/>
<path d="M74.3 706.8h0.9v0.9h-0.9zM89.2 713.6h0.9v0.9h-0.9zM75.3 706.9h0.9v0.9h-0.9zM80.9 705.2h0.9v0.9h-0.9zM72.6 711.1h0.9v0.9h-0.9zM76.4 706.4h0.9v0.9h-0.9zM73.0 715.4h0.9v0.9h-0.9zM79.4 704.7h0.9v0.9h-0.9zM74.0 706.1h0.9v0.9h-0.9zM79.9 705.7h0.9v0.9h-0.9zM81.9 706.1h0.9v0.9h-0.9zM80.8 719.5h0.9v0.9h-0.9zM86.3 708.8h0.9v0.9h-0.9zM70.8 713.3h0.9v0.9h-0.9zM87.3 717.2h0.9v0.9h-0.9zM76.9 720.6h0.9v0.9h-0.9zM72.5 715.1h0.9v0.9h-0.9zM87.9 714.6h0.9v0.9h-0.9zM77.5 719.6h0.9v0.9h-0.9zM87.4 717.6h0.9v0.9h-0.9zM75.6 720.6h0.9v0.9h-0.9zM79.6 719.4h0.9v0.9h-0.9zM76.8 705.4h0.9v0.9h-0.9zM72.3 709.7h0.9v0.9h-0.9zM72.9 707.3h0.9v0.9h-0.9zM76.7 705.6h0.9v0.9h-0.9zM77.7 719.2h0.9v0.9h-0.9zM74.0 717.1h0.9v0.9h-0.9zM85.2 717.1h0.9v0.9h-0.9zM85.2 708.4h0.9v0.9h-0.9zM75.5 706.0h0.9v0.9h-0.9zM73.7 716.7h0.9v0.9h-0.9zM87.2 711.0h0.9v0.9h-0.9zM72.2 714.2h0.9v0.9h-0.9zM86.9 708.8h0.9v0.9h-0.9zM76.1 705.2h0.9v0.9h-0.9zM82.8 706.0h0.9v0.9h-0.9zM86.4 711.6h0.9v0.9h-0.9zM73.3 716.7h0.9v0.9h-0.9zM76.7 706.0h0.9v0.9h-0.9zM75.5 718.0h0.9v0.9h-0.9zM85.6 707.6h0.9v0.9h-0.9zM72.4 714.3h0.9v0.9h-0.9zM86.6 709.2h0.9v0.9h-0.9zM71.5 716.5h0.9v0.9h-0.9z" fill="#5a5aff" opacity="0.5"/>
<path d="M72.3 731.2h0.9v0.9h-0.9zM86.8 729.8h0.9v0.9h-0.9zM77.2 728.3h0.9v0.9h-0.9zM87.1 732.7h0.9v0.9h-0.9zM72.3 732.3h0.9v0.9h-0.9zM86.3 730.4h0.9v0.9h-0.9zM72.3 729.8h0.9v0.9h-0.9zM85.2 728.4h0.9v0.9h-0.9zM76.2 736.5h0.9v0.9h-0.9zM81.7 738.2h0.9v0.9h-0.9zM82.8 726.9h0.9v0.9h-0.9zM88.1 730.3h0.9v0.9h-0.9zM84.6 737.3h0.9v0.9h-0.9zM81.3 727.5h0.9v0.9h-0.9zM75.2 728.7h0.9v0.9h-0.9zM86.7 735.2h0.9v0.9h-0.9zM75.1 728.7h0.9v0.9h-0.9zM88.1 729.7h0.9v0.9h-0.9zM73.2 736.2h0.9v0.9h-0.9zM74.4 729.9h0.9v0.9h-0.9zM72.6 734.7h0.9v0.9h-0.9zM73.7 735.0h0.9v0.9h-0.9zM75.2 729.1h0.9v0.9h-0.9zM75.5 736.5h0.9v0.9h-0.9zM86.1 729.3h0.9v0.9h-0.9z" fill="#2a2aff" opacity="0.75"/>
<path d="M78.6 726.4h0.9v0.9h-0.9zM73.4 731.8h0.9v0.9h-0.9zM73.8 735.0h0.9v0.9h-0.9zM72.9 731.7h0.9v0.9h-0.9zM85.9 728.9h0.9v0.9h-0.9zM74.5 729.7h0.9v0.9h-0.9zM85.9 729.3h0.9v0.9h-0.9zM86.7 735.5h0.9v0.9h-0.9zM76.8 728.3h0.9v0.9h-0.9zM83.1 737.6h0.9v0.9h-0.9zM77.5 728.1h0.9v0.9h-0.9zM72.5 727.4h0.9v0.9h-0.9zM84.2 728.5h0.9v0.9h-0.9zM73.4 735.7h0.9v0.9h-0.9zM87.1 735.7h0.9v0.9h-0.9zM73.6 731.1h0.9v0.9h-0.9zM75.5 735.9h0.9v0.9h-0.9zM82.8 727.1h0.9v0.9h-0.9zM88.1 733.2h0.9v0.9h-0.9zM72.9 732.0h0.9v0.9h-0.9zM78.9 727.7h0.9v0.9h-0.9zM85.8 736.4h0.9v0.9h-0.9zM75.2 735.9h0.9v0.9h-0.9zM73.0 733.8h0.9v0.9h-0.9zM74.8 735.6h0.9v0.9h-0.9z" fill="#5a5aff" opacity="0.5"/>
<path d="M79.5 713.2h0.9v0.9h-0.9zM85.8 706.9h0.9v0.9h-0.9zM72.1 712.7h0.9v0.9h-0.9zM84.1 714.3h0.9v0.9h-0.9zM82.4 712.9h0.9v0.9h-0.9zM79.2 712.5h0.9v0.9h-0.9zM78.5 716.4h0.9v0.9h-0.9zM83.1 709.7h0.9v0.9h-0.9zM71.5 707.8h0.9v0.9h-0.9zM75.3 708.8h0.9v0.9h-0.9zM78.8 715.3h0.9v0.9h-0.9zM82.7 710.9h0.9v0.9h-0.9zM77.2 718.5h0.9v0.9h-0.9zM79.5 714.3h0.9v0.9h-0.9zM76.7 714.0h0.9v0.9h-0.9zM81.8 715.6h0.9v0.9h-0.9zM77.7 715.4h0.9v0.9h-0.9zM80.9 717.4h0.9v0.9h-0.9zM84.6 709.9h0.9v0.9h-0.9zM78.6 713.7h0.9v0.9h-0.9zM80.6 706.9h0.9v0.9h-0.9zM82.2 711.4h0.9v0.9h-0.9zM77.8 715.4h0.9v0.9h-0.9zM75.6 709.2h0.9v0.9h-0.9zM75.0 716.2h0.9v0.9h-0.9zM79.1 718.5h0.9v0.9h-0.9zM81.4 714.7h0.9v0.9h-0.9zM81.4 713.3h0.9v0.9h-0.9zM87.8 717.8h0.9v0.9h-0.9zM78.9 711.0h0.9v0.9h-0.9zM84.1 716.8h0.9v0.9h-0.9zM82.8 711.2h0.9v0.9h-0.9zM77.7 706.8h0.9v0.9h-0.9zM79.4 709.6h0.9v0.9h-0.9zM78.5 715.9h0.9v0.9h-0.9zM78.8 717.0h0.9v0.9h-0.9zM74.4 713.5h0.9v0.9h-0.9zM85.5 705.6h0.9v0.9h-0.9zM70.8 710.8h0.9v0.9h-0.9zM79.8 710.8h0.9v0.9h-0.9zM82.4 710.4h0.9v0.9h-0.9zM72.3 716.8h0.9v0.9h-0.9zM82.0 718.4h0.9v0.9h-0.9zM75.0 713.6h0.9v0.9h-0.9zM80.1 707.0h0.9v0.9h-0.9zM81.1 713.1h0.9v0.9h-0.9zM86.6 714.2h0.9v0.9h-0.9zM79.1 716.8h0.9v0.9h-0.9zM77.2 714.4h0.9v0.9h-0.9zM73.4 714.5h0.9v0.9h-0.9zM83.0 715.1h0.9v0.9h-0.9zM79.8 715.9h0.9v0.9h-0.9zM74.4 717.6h0.9v0.9h-0.9zM78.5 711.8h0.9v0.9h-0.9zM83.9 709.8h0.9v0.9h-0.9zM81.4 714.9h0.9v0.9h-0.9zM73.6 713.3h0.9v0.9h-0.9zM74.5 708.5h0.9v0.9h-0.9zM79.8 714.9h0.9v0.9h-0.9zM80.7 711.2h0.9v0.9h-0.9z" fill="#3a3aff" opacity="0.6"/>
<path d="M31.5 733.2h0.9v0.9h-0.9zM36.2 712.2h0.9v0.9h-0.9zM65.2 730.7h0.9v0.9h-0.9zM89.8 725.1h0.9v0.9h-0.9zM58.5 717.4h0.9v0.9h-0.9zM54.0 743.9h0.9v0.9h-0.9zM47.1 712.9h0.9v0.9h-0.9zM82.4 708.6h0.9v0.9h-0.9zM86.5 740.6h0.9v0.9h-0.9zM69.4 723.1h0.9v0.9h-0.9zM79.1 737.4h0.9v0.9h-0.9zM33.3 707.6h0.9v0.9h-0.9zM81.0 700.5h0.9v0.9h-0.9zM31.0 725.1h0.9v0.9h-0.9zM69.5 713.9h0.9v0.9h-0.9zM69.5 701.5h0.9v0.9h-0.9zM35.7 702.3h0.9v0.9h-0.9zM72.2 701.0h0.9v0.9h-0.9zM34.4 741.7h0.9v0.9h-0.9zM59.1 704.5h0.9v0.9h-0.9zM82.8 733.5h0.9v0.9h-0.9zM74.3 739.0h0.9v0.9h-0.9zM37.2 705.6h0.9v0.9h-0.9zM53.3 717.5h0.9v0.9h-0.9zM86.2 702.4h0.9v0.9h-0.9zM77.0 736.6h0.9v0.9h-0.9zM63.8 734.3h0.9v0.9h-0.9zM62.8 721.2h0.9v0.9h-0.9zM82.2 727.4h0.9v0.9h-0.9zM43.5 725.5h0.9v0.9h-0.9zM74.9 727.9h0.9v0.9h-0.9zM31.6 717.8h0.9v0.9h-0.9zM61.7 721.4h0.9v0.9h-0.9zM63.5 719.8h0.9v0.9h-0.9zM86.3 721.3h0.9v0.9h-0.9zM31.9 706.6h0.9v0.9h-0.9zM40.5 734.1h0.9v0.9h-0.9zM36.9 725.3h0.9v0.9h-0.9zM59.4 701.6h0.9v0.9h-0.9zM89.8 736.4h0.9v0.9h-0.9z" fill="#4a4aff" opacity="0.55"/>
<g filter="url(#bl)">
<path d="M40.70 705.90 L61.90 705.90 A8.90 8.90 0 0 1 61.90 723.70 L40.70 723.70 A8.90 8.90 0 0 1 40.70 705.90Z" fill="#6a6aff" opacity="0.35"/>
<path d="M40.70 706.80 L61.90 706.80 A8.00 8.00 0 0 1 61.90 722.80 L40.70 722.80 A8.00 8.00 0 0 1 40.70 706.80Z" fill="#3535ff" opacity="0.6"/>
<path d="M40.70 707.50 L61.90 707.50 A7.30 7.30 0 0 1 61.90 722.10 L40.70 722.10 A7.30 7.30 0 0 1 40.70 707.50Z" fill="#0000ff"/>
<path d="M40.70 708.90 L61.90 708.90 A5.90 5.90 0 0 1 61.90 720.70 L40.70 720.70 A5.90 5.90 0 0 1 40.70 708.90Z" fill="#0030ff"/>
<path d="M40.70 709.60 L61.90 709.60 A5.20 5.20 0 0 1 61.90 720.00 L40.70 720.00 A5.20 5.20 0 0 1 40.70 709.60Z" fill="#0080ff"/>
<path d="M40.70 710.30 L61.90 710.30 A4.50 4.50 0 0 1 61.90 719.30 L40.70 719.30 A4.50 4.50 0 0 1 40.70 710.30Z" fill="#00c8ff"/>
<path d="M40.70 711.10 L61.90 711.10 A3.70 3.70 0 0 1 61.90 718.50 L40.70 718.50 A3.70 3.70 0 0 1 40.70 711.10Z" fill="url(#gE1)"/>
<ellipse cx="59" cy="714.2" rx="3.8" ry="1.9" fill="#ffa000"/>
<ellipse cx="59.3" cy="714.1" rx="2.0" ry="1.1" fill="#ff2a00"/>
</g>
<g filter="url(#bl)">
<path d="M38.80 725.20 L64.10 725.20 A7.00 7.00 0 0 1 64.10 739.20 L38.80 739.20 A7.00 7.00 0 0 1 38.80 725.20Z" fill="#6a6aff" opacity="0.35"/>
<path d="M38.80 726.10 L64.10 726.10 A6.10 6.10 0 0 1 64.10 738.30 L38.80 738.30 A6.10 6.10 0 0 1 38.80 726.10Z" fill="#3535ff" opacity="0.6"/>
<path d="M38.80 726.80 L64.10 726.80 A5.40 5.40 0 0 1 64.10 737.60 L38.80 737.60 A5.40 5.40 0 0 1 38.80 726.80Z" fill="#0000ff"/>
<path d="M38.80 728.20 L64.10 728.20 A4.00 4.00 0 0 1 64.10 736.20 L38.80 736.20 A4.00 4.00 0 0 1 38.80 728.20Z" fill="#0030ff"/>
<path d="M38.80 728.90 L64.10 728.90 A3.30 3.30 0 0 1 64.10 735.50 L38.80 735.50 A3.30 3.30 0 0 1 38.80 728.90Z" fill="#0080ff"/>
<path d="M38.80 729.60 L64.10 729.60 A2.60 2.60 0 0 1 64.10 734.80 L38.80 734.80 A2.60 2.60 0 0 1 38.80 729.60Z" fill="#00c8ff"/>
<path d="M38.80 730.10 L64.10 730.10 A2.10 2.10 0 0 1 64.10 734.30 L38.80 734.30 A2.10 2.10 0 0 1 38.80 730.10Z" fill="url(#gE2)"/>
<ellipse cx="60" cy="732.6" rx="4.2" ry="1.4" fill="#ff8000"/>
<ellipse cx="60" cy="732.6" rx="2.2" ry="0.8" fill="#ff1a00"/>
</g>
<g filter="url(#bl)">
<path d="M68.00 730.50 L74.00 730.50 A2.00 2.00 0 0 1 74.00 734.50 L68.00 734.50 A2.00 2.00 0 0 1 68.00 730.50Z" fill="#0a0aff"/>
</g>
<path d="M73.8 714.4h0.9v0.9h-0.9zM77.5 708.7h0.9v0.9h-0.9zM80.8 706.0h0.9v0.9h-0.9zM78.5 706.2h0.9v0.9h-0.9zM76.8 711.6h0.9v0.9h-0.9zM76.3 709.5h0.9v0.9h-0.9zM77.1 713.5h0.9v0.9h-0.9zM79.2 717.1h0.9v0.9h-0.9zM76.5 709.2h0.9v0.9h-0.9zM78.0 713.1h0.9v0.9h-0.9zM82.2 717.4h0.9v0.9h-0.9zM83.3 708.6h0.9v0.9h-0.9zM78.4 714.2h0.9v0.9h-0.9zM83.3 710.7h0.9v0.9h-0.9zM79.7 707.4h0.9v0.9h-0.9zM76.9 713.6h0.9v0.9h-0.9zM83.2 717.8h0.9v0.9h-0.9zM78.7 706.6h0.9v0.9h-0.9zM72.8 713.1h0.9v0.9h-0.9zM78.0 713.8h0.9v0.9h-0.9zM78.4 714.3h0.9v0.9h-0.9zM79.2 712.8h0.9v0.9h-0.9zM76.6 714.1h0.9v0.9h-0.9zM83.8 709.6h0.9v0.9h-0.9zM76.8 716.3h0.9v0.9h-0.9zM75.9 716.0h0.9v0.9h-0.9zM77.0 709.4h0.9v0.9h-0.9zM73.8 707.5h0.9v0.9h-0.9zM76.7 711.7h0.9v0.9h-0.9zM79.5 702.0h0.9v0.9h-0.9zM76.2 711.2h0.9v0.9h-0.9zM83.4 714.3h0.9v0.9h-0.9zM78.9 712.1h0.9v0.9h-0.9zM81.8 715.8h0.9v0.9h-0.9zM77.1 716.6h0.9v0.9h-0.9zM84.4 713.4h0.9v0.9h-0.9zM78.8 715.5h0.9v0.9h-0.9zM77.0 721.0h0.9v0.9h-0.9zM80.2 712.9h0.9v0.9h-0.9zM79.2 714.6h0.9v0.9h-0.9zM78.4 709.8h0.9v0.9h-0.9zM79.8 711.0h0.9v0.9h-0.9zM79.0 714.1h0.9v0.9h-0.9zM76.9 715.6h0.9v0.9h-0.9zM76.6 708.3h0.9v0.9h-0.9zM85.5 712.6h0.9v0.9h-0.9zM77.9 711.3h0.9v0.9h-0.9zM76.3 710.7h0.9v0.9h-0.9zM84.2 717.6h0.9v0.9h-0.9zM84.1 708.4h0.9v0.9h-0.9zM75.0 712.8h0.9v0.9h-0.9zM89.1 708.6h0.9v0.9h-0.9zM79.1 712.9h0.9v0.9h-0.9zM80.4 710.9h0.9v0.9h-0.9zM73.9 715.8h0.9v0.9h-0.9zM74.8 710.8h0.9v0.9h-0.9zM81.4 714.5h0.9v0.9h-0.9zM78.9 708.9h0.9v0.9h-0.9zM84.8 712.8h0.9v0.9h-0.9zM80.0 713.8h0.9v0.9h-0.9zM81.0 719.1h0.9v0.9h-0.9zM79.4 709.4h0.9v0.9h-0.9zM80.8 717.6h0.9v0.9h-0.9zM74.2 716.4h0.9v0.9h-0.9zM76.9 711.8h0.9v0.9h-0.9zM85.6 714.3h0.9v0.9h-0.9zM84.0 715.9h0.9v0.9h-0.9zM81.3 711.2h0.9v0.9h-0.9zM82.2 715.3h0.9v0.9h-0.9zM76.5 721.2h0.9v0.9h-0.9zM78.1 713.1h0.9v0.9h-0.9zM77.0 718.3h0.9v0.9h-0.9zM78.6 716.7h0.9v0.9h-0.9zM79.9 712.7h0.9v0.9h-0.9zM83.7 710.9h0.9v0.9h-0.9zM80.2 708.6h0.9v0.9h-0.9zM83.1 711.4h0.9v0.9h-0.9zM73.4 714.4h0.9v0.9h-0.9zM78.8 715.7h0.9v0.9h-0.9zM78.2 710.3h0.9v0.9h-0.9zM80.0 709.0h0.9v0.9h-0.9zM73.8 713.8h0.9v0.9h-0.9zM79.0 710.7h0.9v0.9h-0.9zM77.7 708.2h0.9v0.9h-0.9zM77.8 715.0h0.9v0.9h-0.9zM77.5 707.0h0.9v0.9h-0.9zM83.3 713.7h0.9v0.9h-0.9zM82.8 711.6h0.9v0.9h-0.9zM77.5 710.7h0.9v0.9h-0.9zM79.9 712.6h0.9v0.9h-0.9z" fill="#1a1aff" opacity="0.7"/>
<g filter="url(#bl)">
<ellipse cx="79.50" cy="712.50" rx="7.59" ry="7.59" fill="#6a6aff" opacity="0.3"/>
<ellipse cx="79.50" cy="712.50" rx="6.60" ry="6.60" fill="#3a3aff" opacity="0.6"/>
<ellipse cx="79.80" cy="712.38" rx="4.75" ry="4.75" fill="#2030ff" opacity="0.65"/>
<ellipse cx="80.30" cy="712.18" rx="2.97" ry="2.97" fill="#2a7aff" opacity="0.7"/>
</g>
<g filter="url(#bl)">
<ellipse cx="80.20" cy="732.50" rx="8.60" ry="6.00" fill="#6a6aff" opacity="0.35"/>
<ellipse cx="80.20" cy="732.50" rx="7.80" ry="5.40" fill="#3535ff" opacity="0.6"/>
<ellipse cx="80.20" cy="732.50" rx="7.20" ry="4.80" fill="#0000ff"/>
<ellipse cx="80.20" cy="732.50" rx="6.10" ry="3.90" fill="#0040ff"/>
<ellipse cx="80.20" cy="732.50" rx="5.10" ry="3.20" fill="#0090ff"/>
<ellipse cx="80.60" cy="732.50" rx="4.30" ry="2.60" fill="#00d0ff"/>
<ellipse cx="80.90" cy="732.50" rx="3.50" ry="2.10" fill="#30f0b0"/>
<ellipse cx="81.20" cy="732.50" rx="2.70" ry="1.70" fill="#90ff30"/>
<ellipse cx="81.40" cy="732.50" rx="2.00" ry="1.30" fill="#ffd000"/>
<ellipse cx="81.50" cy="732.50" rx="1.40" ry="0.90" fill="#ff6000"/>
<ellipse cx="81.50" cy="732.50" rx="0.90" ry="0.60" fill="#ff1000"/>
</g>
<text x="33.5" y="769.5" font-size="9.6">FOXP3 – APC</text>
<text x="14.5" y="755" font-size="9.6" transform="rotate(-90 14.5 755)">Lgp130– ZsGreen</text>
<text x="210" y="31" font-size="11.8" font-weight="bold" text-anchor="middle">Day 10</text>
<text x="386.5" y="31" font-size="11.8" font-weight="bold" text-anchor="middle">Day 30</text>
<rect x="165.00" y="110.78" width="11.50" height="46.22" fill="#0b7d0b" stroke="none" stroke-width="0"/>
<rect x="182.00" y="151.90" width="11.50" height="5.10" fill="#0b7d0b" stroke="none" stroke-width="0"/>
<rect x="210.30" y="105.47" width="11.30" height="51.53" fill="#0b7d0b" stroke="none" stroke-width="0"/>
<rect x="227.30" y="154.34" width="10.80" height="2.66" fill="#0b7d0b" stroke="none" stroke-width="0"/>
<circle cx="166.90" cy="102.40" r="1.45" fill="#fff" stroke="#000" stroke-width="1.1"/>
<circle cx="174.70" cy="104.30" r="1.45" fill="#fff" stroke="#000" stroke-width="1.1"/>
<circle cx="170.60" cy="110.00" r="1.45" fill="#fff" stroke="#000" stroke-width="1.1"/>
<circle cx="170.60" cy="115.90" r="1.45" fill="#fff" stroke="#000" stroke-width="1.1"/>
<circle cx="170.60" cy="122.30" r="1.45" fill="#fff" stroke="#000" stroke-width="1.1"/>
<circle cx="212.00" cy="97.50" r="1.45" fill="#fff" stroke="#000" stroke-width="1.1"/>
<circle cx="220.00" cy="100.70" r="1.45" fill="#fff" stroke="#000" stroke-width="1.1"/>
<circle cx="215.90" cy="104.30" r="1.45" fill="#fff" stroke="#000" stroke-width="1.1"/>
<circle cx="215.90" cy="109.20" r="1.45" fill="#fff" stroke="#000" stroke-width="1.1"/>
<circle cx="215.90" cy="116.60" r="1.45" fill="#fff" stroke="#000" stroke-width="1.1"/>
<path d="M183.70 147.10L185.98 151.06L181.42 151.06Z" fill="#fff" stroke="#000" stroke-width="0.9"/>
<path d="M186.20 148.40L188.48 152.36L183.92 152.36Z" fill="#fff" stroke="#000" stroke-width="0.9"/>
<path d="M191.40 148.10L193.68 152.06L189.12 152.06Z" fill="#fff" stroke="#000" stroke-width="0.9"/>
<path d="M184.40 151.10L186.68 155.06L182.12 155.06Z" fill="#fff" stroke="#000" stroke-width="0.9"/>
<path d="M188.40 150.60L190.68 154.56L186.12 154.56Z" fill="#fff" stroke="#000" stroke-width="0.9"/>
<path d="M190.50 151.30L192.78 155.26L188.22 155.26Z" fill="#fff" stroke="#000" stroke-width="0.9"/>
<path d="M229.80 152.00L232.08 155.96L227.52 155.96Z" fill="#fff" stroke="#000" stroke-width="0.9"/>
<path d="M232.20 150.80L234.48 154.76L229.92 154.76Z" fill="#fff" stroke="#000" stroke-width="0.9"/>
<path d="M234.60 151.10L236.88 155.06L232.32 155.06Z" fill="#fff" stroke="#000" stroke-width="0.9"/>
<path d="M236.40 152.60L238.68 156.56L234.12 156.56Z" fill="#fff" stroke="#000" stroke-width="0.9"/>
<line x1="159.5" y1="71.2" x2="159.5" y2="157.9" stroke="#000" stroke-width="1.8"/>
<line x1="158.6" y1="157" x2="245" y2="157" stroke="#000" stroke-width="1.8"/>
<line x1="152.5" y1="157.0" x2="159.5" y2="157.0" stroke="#000" stroke-width="1.4"/>
<text x="145.63" y="160.60" font-size="8.7" font-weight="bold" textLength="5.07" lengthAdjust="spacingAndGlyphs">0</text>
<line x1="152.5" y1="135.75" x2="159.5" y2="135.75" stroke="#000" stroke-width="1.4"/>
<text x="140.56" y="139.35" font-size="8.7" font-weight="bold" textLength="10.14" lengthAdjust="spacingAndGlyphs">20</text>
<line x1="152.5" y1="114.5" x2="159.5" y2="114.5" stroke="#000" stroke-width="1.4"/>
<text x="140.56" y="118.10" font-size="8.7" font-weight="bold" textLength="10.14" lengthAdjust="spacingAndGlyphs">40</text>
<line x1="152.5" y1="93.25" x2="159.5" y2="93.25" stroke="#000" stroke-width="1.4"/>
<text x="140.56" y="96.85" font-size="8.7" font-weight="bold" textLength="10.14" lengthAdjust="spacingAndGlyphs">60</text>
<line x1="152.5" y1="72.0" x2="159.5" y2="72.0" stroke="#000" stroke-width="1.4"/>
<text x="140.56" y="75.60" font-size="8.7" font-weight="bold" textLength="10.14" lengthAdjust="spacingAndGlyphs">80</text>
<line x1="179.25" y1="157" x2="179.25" y2="163.8" stroke="#000" stroke-width="1.5"/>
<line x1="224.5" y1="157" x2="224.5" y2="163.8" stroke="#000" stroke-width="1.5"/>
<text x="131.5" y="144.3" font-size="11.8" font-weight="bold" textLength="57.3" lengthAdjust="spacingAndGlyphs" transform="rotate(-90 131.5 144.3)">% Lgp130<tspan font-size="8.6" dy="-5.6">+</tspan></text>
<text x="179.25" y="176.5" font-size="11.8" font-weight="bold" text-anchor="middle">Spleen</text>
<text x="224.5" y="176.5" font-size="11.8" font-weight="bold" text-anchor="middle">Lung</text>
<rect x="349.60" y="112.28" width="11.30" height="41.72" fill="#0b7d0b" stroke="none" stroke-width="0"/>
<rect x="366.20" y="150.83" width="11.50" height="3.17" fill="#0b7d0b" stroke="none" stroke-width="0"/>
<rect x="394.90" y="105.94" width="10.90" height="48.06" fill="#0b7d0b" stroke="none" stroke-width="0"/>
<rect x="411.70" y="151.36" width="11.40" height="2.64" fill="#0b7d0b" stroke="none" stroke-width="0"/>
<circle cx="351.00" cy="110.80" r="1.45" fill="#fff" stroke="#000" stroke-width="1.1"/>
<circle cx="354.00" cy="108.30" r="1.45" fill="#fff" stroke="#000" stroke-width="1.1"/>
<circle cx="359.20" cy="107.70" r="1.45" fill="#fff" stroke="#000" stroke-width="1.1"/>
<circle cx="356.80" cy="110.40" r="1.45" fill="#fff" stroke="#000" stroke-width="1.1"/>
<circle cx="354.00" cy="113.70" r="1.45" fill="#fff" stroke="#000" stroke-width="1.1"/>
<circle cx="359.40" cy="113.70" r="1.45" fill="#fff" stroke="#000" stroke-width="1.1"/>
<circle cx="356.10" cy="115.30" r="1.45" fill="#fff" stroke="#000" stroke-width="1.1"/>
<circle cx="355.10" cy="121.10" r="1.45" fill="#fff" stroke="#000" stroke-width="1.1"/>
<circle cx="400.00" cy="88.30" r="1.45" fill="#fff" stroke="#000" stroke-width="1.1"/>
<circle cx="398.80" cy="100.50" r="1.45" fill="#fff" stroke="#000" stroke-width="1.1"/>
<circle cx="401.30" cy="103.80" r="1.45" fill="#fff" stroke="#000" stroke-width="1.1"/>
<circle cx="396.20" cy="109.10" r="1.45" fill="#fff" stroke="#000" stroke-width="1.1"/>
<circle cx="398.90" cy="110.90" r="1.45" fill="#fff" stroke="#000" stroke-width="1.1"/>
<circle cx="401.70" cy="110.00" r="1.45" fill="#fff" stroke="#000" stroke-width="1.1"/>
<circle cx="404.20" cy="110.90" r="1.45" fill="#fff" stroke="#000" stroke-width="1.1"/>
<circle cx="400.20" cy="115.00" r="1.45" fill="#fff" stroke="#000" stroke-width="1.1"/>
<path d="M367.80 144.80L370.08 148.76L365.52 148.76Z" fill="#fff" stroke="#000" stroke-width="0.9"/>
<path d="M370.40 144.30L372.68 148.26L368.12 148.26Z" fill="#fff" stroke="#000" stroke-width="0.9"/>
<path d="M372.60 146.20L374.88 150.16L370.32 150.16Z" fill="#fff" stroke="#000" stroke-width="0.9"/>
<path d="M375.30 147.20L377.58 151.16L373.02 151.16Z" fill="#fff" stroke="#000" stroke-width="0.9"/>
<path d="M368.50 148.60L370.78 152.56L366.22 152.56Z" fill="#fff" stroke="#000" stroke-width="0.9"/>
<path d="M371.20 149.20L373.48 153.16L368.92 153.16Z" fill="#fff" stroke="#000" stroke-width="0.9"/>
<path d="M374.00 149.10L376.28 153.06L371.72 153.06Z" fill="#fff" stroke="#000" stroke-width="0.9"/>
<path d="M376.50 149.80L378.78 153.76L374.22 153.76Z" fill="#fff" stroke="#000" stroke-width="0.9"/>
<path d="M413.50 146.10L415.78 150.06L411.22 150.06Z" fill="#fff" stroke="#000" stroke-width="0.9"/>
<path d="M416.00 145.60L418.28 149.56L413.72 149.56Z" fill="#fff" stroke="#000" stroke-width="0.9"/>
<path d="M418.00 147.60L420.28 151.56L415.72 151.56Z" fill="#fff" stroke="#000" stroke-width="0.9"/>
<path d="M420.50 149.10L422.78 153.06L418.22 153.06Z" fill="#fff" stroke="#000" stroke-width="0.9"/>
<path d="M414.50 149.60L416.78 153.56L412.22 153.56Z" fill="#fff" stroke="#000" stroke-width="0.9"/>
<path d="M417.50 150.10L419.78 154.06L415.22 154.06Z" fill="#fff" stroke="#000" stroke-width="0.9"/>
<path d="M421.00 150.10L423.28 154.06L418.72 154.06Z" fill="#fff" stroke="#000" stroke-width="0.9"/>
<line x1="344" y1="68.7" x2="344" y2="154.9" stroke="#000" stroke-width="1.8"/>
<line x1="343.1" y1="154" x2="429.5" y2="154" stroke="#000" stroke-width="1.8"/>
<line x1="337" y1="154.0" x2="344" y2="154.0" stroke="#000" stroke-width="1.4"/>
<text x="330.13" y="157.60" font-size="8.7" font-weight="bold" textLength="5.07" lengthAdjust="spacingAndGlyphs">0</text>
<line x1="337" y1="132.875" x2="344" y2="132.875" stroke="#000" stroke-width="1.4"/>
<text x="325.06" y="136.47" font-size="8.7" font-weight="bold" textLength="10.14" lengthAdjust="spacingAndGlyphs">20</text>
<line x1="337" y1="111.75" x2="344" y2="111.75" stroke="#000" stroke-width="1.4"/>
<text x="325.06" y="115.35" font-size="8.7" font-weight="bold" textLength="10.14" lengthAdjust="spacingAndGlyphs">40</text>
<line x1="337" y1="90.625" x2="344" y2="90.625" stroke="#000" stroke-width="1.4"/>
<text x="325.06" y="94.22" font-size="8.7" font-weight="bold" textLength="10.14" lengthAdjust="spacingAndGlyphs">60</text>
<line x1="337" y1="69.5" x2="344" y2="69.5" stroke="#000" stroke-width="1.4"/>
<text x="325.06" y="73.10" font-size="8.7" font-weight="bold" textLength="10.14" lengthAdjust="spacingAndGlyphs">80</text>
<line x1="363.25" y1="154" x2="363.25" y2="160.8" stroke="#000" stroke-width="1.5"/>
<line x1="408.75" y1="154" x2="408.75" y2="160.8" stroke="#000" stroke-width="1.5"/>
<text x="315.9" y="143.4" font-size="11.8" font-weight="bold" textLength="58.5" lengthAdjust="spacingAndGlyphs" transform="rotate(-90 315.9 143.4)">% Lgp130<tspan font-size="8.6" dy="-5.6">+</tspan></text>
<text x="363.25" y="173.5" font-size="11.8" font-weight="bold" text-anchor="middle">Spleen</text>
<text x="408.75" y="173.5" font-size="11.8" font-weight="bold" text-anchor="middle">Lung</text>
<circle cx="426.3" cy="64.6" r="1.95" fill="#fff" stroke="#000" stroke-width="0.85"/>
<path d="M426.30 88.40L428.68 92.53L423.93 92.53Z" fill="#fff" stroke="#000" stroke-width="0.9"/>
<text x="446" y="70.3" font-size="12.6">CD4<tspan font-size="9.5" dy="-6.1">+</tspan></text>
<text x="446" y="96.2" font-size="12.6">CD8<tspan font-size="9.5" dy="-6.1">+</tspan></text>
<rect x="167.15" y="287.53" width="10.80" height="21.22" fill="#fff" stroke="#000" stroke-width="1.5"/>
<rect x="185.10" y="277.91" width="12.90" height="30.84" fill="#9b9b9b" stroke="none" stroke-width="0"/>
<rect x="205.00" y="285.09" width="12.70" height="23.66" fill="#0b7d0b" stroke="none" stroke-width="0"/>
<rect x="237.75" y="278.24" width="11.20" height="30.51" fill="#fff" stroke="#000" stroke-width="1.5"/>
<rect x="256.10" y="274.11" width="12.70" height="34.64" fill="#9b9b9b" stroke="none" stroke-width="0"/>
<rect x="275.90" y="271.99" width="13.10" height="36.76" fill="#0b7d0b" stroke="none" stroke-width="0"/>
<path d="M172.20 275.85L173.95 277.60L172.20 279.35L170.45 277.60Z" fill="#000"/>
<path d="M176.80 282.15L178.55 283.90L176.80 285.65L175.05 283.90Z" fill="#000"/>
<path d="M167.20 284.25L168.95 286.00L167.20 287.75L165.45 286.00Z" fill="#000"/>
<path d="M172.20 288.25L173.95 290.00L172.20 291.75L170.45 290.00Z" fill="#000"/>
<path d="M172.20 292.55L173.95 294.30L172.20 296.05L170.45 294.30Z" fill="#000"/>
<path d="M243.20 263.55L244.95 265.30L243.20 267.05L241.45 265.30Z" fill="#000"/>
<path d="M243.20 269.25L244.95 271.00L243.20 272.75L241.45 271.00Z" fill="#000"/>
<path d="M239.30 278.15L241.05 279.90L239.30 281.65L237.55 279.90Z" fill="#000"/>
<path d="M247.40 278.75L249.15 280.50L247.40 282.25L245.65 280.50Z" fill="#000"/>
<path d="M243.20 288.75L244.95 290.50L243.20 292.25L241.45 290.50Z" fill="#000"/>
<circle cx="191.40" cy="270.10" r="1.95" fill="#000"/>
<circle cx="186.80" cy="277.00" r="1.95" fill="#000"/>
<circle cx="196.30" cy="276.40" r="1.95" fill="#000"/>
<circle cx="191.40" cy="280.50" r="1.95" fill="#000"/>
<circle cx="191.40" cy="284.20" r="1.95" fill="#000"/>
<circle cx="262.40" cy="265.80" r="1.95" fill="#000"/>
<circle cx="267.30" cy="269.50" r="1.95" fill="#000"/>
<circle cx="257.80" cy="272.80" r="1.95" fill="#000"/>
<circle cx="267.30" cy="275.90" r="1.95" fill="#000"/>
<circle cx="262.40" cy="287.40" r="1.95" fill="#000"/>
<circle cx="206.20" cy="280.70" r="1.45" fill="#fff" stroke="#000" stroke-width="1.1"/>
<circle cx="211.00" cy="282.20" r="1.45" fill="#fff" stroke="#000" stroke-width="1.1"/>
<circle cx="215.70" cy="281.00" r="1.45" fill="#fff" stroke="#000" stroke-width="1.1"/>
<circle cx="208.70" cy="292.00" r="1.45" fill="#fff" stroke="#000" stroke-width="1.1"/>
<circle cx="213.30" cy="288.90" r="1.45" fill="#fff" stroke="#000" stroke-width="1.1"/>
<circle cx="282.00" cy="265.20" r="1.45" fill="#fff" stroke="#000" stroke-width="1.1"/>
<circle cx="277.20" cy="268.40" r="1.45" fill="#fff" stroke="#000" stroke-width="1.1"/>
<circle cx="286.70" cy="268.60" r="1.45" fill="#fff" stroke="#000" stroke-width="1.1"/>
<circle cx="282.00" cy="269.50" r="1.45" fill="#fff" stroke="#000" stroke-width="1.1"/>
<circle cx="282.00" cy="287.40" r="1.45" fill="#fff" stroke="#000" stroke-width="1.1"/>
<line x1="159.5" y1="223.45" x2="159.5" y2="309.65" stroke="#000" stroke-width="1.8"/>
<line x1="158.6" y1="308.75" x2="295.5" y2="308.75" stroke="#000" stroke-width="1.8"/>
<line x1="152.5" y1="308.75" x2="159.5" y2="308.75" stroke="#000" stroke-width="1.4"/>
<text x="145.63" y="312.35" font-size="8.7" font-weight="bold" textLength="5.07" lengthAdjust="spacingAndGlyphs">0</text>
<line x1="152.5" y1="287.625" x2="159.5" y2="287.625" stroke="#000" stroke-width="1.4"/>
<text x="140.56" y="291.23" font-size="8.7" font-weight="bold" textLength="10.14" lengthAdjust="spacingAndGlyphs">25</text>
<line x1="152.5" y1="266.5" x2="159.5" y2="266.5" stroke="#000" stroke-width="1.4"/>
<text x="140.56" y="270.10" font-size="8.7" font-weight="bold" textLength="10.14" lengthAdjust="spacingAndGlyphs">50</text>
<line x1="152.5" y1="245.375" x2="159.5" y2="245.375" stroke="#000" stroke-width="1.4"/>
<text x="140.56" y="248.97" font-size="8.7" font-weight="bold" textLength="10.14" lengthAdjust="spacingAndGlyphs">75</text>
<line x1="152.5" y1="224.25" x2="159.5" y2="224.25" stroke="#000" stroke-width="1.4"/>
<text x="135.49" y="227.85" font-size="8.7" font-weight="bold" textLength="15.21" lengthAdjust="spacingAndGlyphs">100</text>
<line x1="191.5" y1="308.75" x2="191.5" y2="315.55" stroke="#000" stroke-width="1.5"/>
<line x1="262.5" y1="308.75" x2="262.5" y2="315.55" stroke="#000" stroke-width="1.5"/>
<text x="125.9" y="315.1" font-size="11.8" font-weight="bold" transform="rotate(-90 125.9 315.1)">% CD44<tspan font-size="8.6" dy="-5.6">+</tspan><tspan dy="5.6"> of CD4</tspan><tspan font-size="8.6" dy="-5.6">+</tspan></text>
<rect x="351.15" y="268.00" width="11.20" height="41.50" fill="#fff" stroke="#000" stroke-width="1.5"/>
<rect x="370.00" y="263.45" width="12.70" height="46.05" fill="#9b9b9b" stroke="none" stroke-width="0"/>
<rect x="389.00" y="252.88" width="13.00" height="56.62" fill="#0b7d0b" stroke="none" stroke-width="0"/>
<rect x="422.50" y="297.15" width="11.00" height="12.35" fill="#fff" stroke="#000" stroke-width="1.5"/>
<rect x="441.25" y="279.93" width="12.50" height="29.57" fill="#9b9b9b" stroke="none" stroke-width="0"/>
<rect x="460.50" y="257.11" width="12.50" height="52.39" fill="#0b7d0b" stroke="none" stroke-width="0"/>
<path d="M352.00 262.45L353.75 264.20L352.00 265.95L350.25 264.20Z" fill="#000"/>
<path d="M361.60 260.15L363.35 261.90L361.60 263.65L359.85 261.90Z" fill="#000"/>
<path d="M361.60 262.75L363.35 264.50L361.60 266.25L359.85 264.50Z" fill="#000"/>
<path d="M357.00 265.95L358.75 267.70L357.00 269.45L355.25 267.70Z" fill="#000"/>
<path d="M352.00 268.85L353.75 270.60L352.00 272.35L350.25 270.60Z" fill="#000"/>
<path d="M361.60 268.85L363.35 270.60L361.60 272.35L359.85 270.60Z" fill="#000"/>
<path d="M352.90 266.55L354.65 268.30L352.90 270.05L351.15 268.30Z" fill="#000"/>
<path d="M427.00 292.00L428.75 293.75L427.00 295.50L425.25 293.75Z" fill="#000"/>
<path d="M432.50 289.50L434.25 291.25L432.50 293.00L430.75 291.25Z" fill="#000"/>
<path d="M423.75 295.75L425.50 297.50L423.75 299.25L422.00 297.50Z" fill="#000"/>
<path d="M429.50 295.75L431.25 297.50L429.50 299.25L427.75 297.50Z" fill="#000"/>
<path d="M432.50 295.75L434.25 297.50L432.50 299.25L430.75 297.50Z" fill="#000"/>
<path d="M423.75 298.75L425.50 300.50L423.75 302.25L422.00 300.50Z" fill="#000"/>
<path d="M427.50 298.25L429.25 300.00L427.50 301.75L425.75 300.00Z" fill="#000"/>
<circle cx="375.40" cy="258.80" r="1.95" fill="#000"/>
<circle cx="371.20" cy="261.30" r="1.95" fill="#000"/>
<circle cx="373.70" cy="262.50" r="1.95" fill="#000"/>
<circle cx="376.60" cy="263.30" r="1.95" fill="#000"/>
<circle cx="380.60" cy="263.70" r="1.95" fill="#000"/>
<circle cx="371.20" cy="265.40" r="1.95" fill="#000"/>
<circle cx="378.90" cy="266.00" r="1.95" fill="#000"/>
<circle cx="379.50" cy="264.20" r="1.95" fill="#000"/>
<circle cx="447.00" cy="255.75" r="1.95" fill="#000"/>
<circle cx="442.50" cy="270.00" r="1.95" fill="#000"/>
<circle cx="447.00" cy="273.25" r="1.95" fill="#000"/>
<circle cx="442.50" cy="284.50" r="1.95" fill="#000"/>
<circle cx="447.00" cy="287.50" r="1.95" fill="#000"/>
<circle cx="451.25" cy="285.00" r="1.95" fill="#000"/>
<circle cx="442.50" cy="290.75" r="1.95" fill="#000"/>
<circle cx="451.25" cy="289.50" r="1.95" fill="#000"/>
<circle cx="390.80" cy="246.70" r="1.45" fill="#fff" stroke="#000" stroke-width="1.1"/>
<circle cx="393.90" cy="248.70" r="1.45" fill="#fff" stroke="#000" stroke-width="1.1"/>
<circle cx="400.20" cy="249.80" r="1.45" fill="#fff" stroke="#000" stroke-width="1.1"/>
<circle cx="390.80" cy="251.50" r="1.45" fill="#fff" stroke="#000" stroke-width="1.1"/>
<circle cx="396.80" cy="251.00" r="1.45" fill="#fff" stroke="#000" stroke-width="1.1"/>
<circle cx="393.90" cy="254.20" r="1.45" fill="#fff" stroke="#000" stroke-width="1.1"/>
<circle cx="396.80" cy="258.20" r="1.45" fill="#fff" stroke="#000" stroke-width="1.1"/>
<circle cx="393.70" cy="259.80" r="1.45" fill="#fff" stroke="#000" stroke-width="1.1"/>
<circle cx="466.25" cy="236.75" r="1.45" fill="#fff" stroke="#000" stroke-width="1.1"/>
<circle cx="463.75" cy="245.00" r="1.45" fill="#fff" stroke="#000" stroke-width="1.1"/>
<circle cx="468.75" cy="248.00" r="1.45" fill="#fff" stroke="#000" stroke-width="1.1"/>
<circle cx="464.25" cy="259.50" r="1.45" fill="#fff" stroke="#000" stroke-width="1.1"/>
<circle cx="468.75" cy="261.25" r="1.45" fill="#fff" stroke="#000" stroke-width="1.1"/>
<circle cx="462.00" cy="268.75" r="1.45" fill="#fff" stroke="#000" stroke-width="1.1"/>
<circle cx="466.25" cy="267.50" r="1.45" fill="#fff" stroke="#000" stroke-width="1.1"/>
<circle cx="470.75" cy="268.75" r="1.45" fill="#fff" stroke="#000" stroke-width="1.1"/>
<line x1="344" y1="224.2" x2="344" y2="310.4" stroke="#000" stroke-width="1.8"/>
<line x1="343.1" y1="309.5" x2="480" y2="309.5" stroke="#000" stroke-width="1.8"/>
<line x1="337" y1="309.5" x2="344" y2="309.5" stroke="#000" stroke-width="1.4"/>
<text x="330.13" y="313.10" font-size="8.7" font-weight="bold" textLength="5.07" lengthAdjust="spacingAndGlyphs">0</text>
<line x1="337" y1="288.375" x2="344" y2="288.375" stroke="#000" stroke-width="1.4"/>
<text x="325.06" y="291.98" font-size="8.7" font-weight="bold" textLength="10.14" lengthAdjust="spacingAndGlyphs">25</text>
<line x1="337" y1="267.25" x2="344" y2="267.25" stroke="#000" stroke-width="1.4"/>
<text x="325.06" y="270.85" font-size="8.7" font-weight="bold" textLength="10.14" lengthAdjust="spacingAndGlyphs">50</text>
<line x1="337" y1="246.125" x2="344" y2="246.125" stroke="#000" stroke-width="1.4"/>
<text x="325.06" y="249.72" font-size="8.7" font-weight="bold" textLength="10.14" lengthAdjust="spacingAndGlyphs">75</text>
<line x1="337" y1="225.0" x2="344" y2="225.0" stroke="#000" stroke-width="1.4"/>
<text x="319.99" y="228.60" font-size="8.7" font-weight="bold" textLength="15.21" lengthAdjust="spacingAndGlyphs">100</text>
<line x1="375.75" y1="309.5" x2="375.75" y2="316.3" stroke="#000" stroke-width="1.5"/>
<line x1="447" y1="309.5" x2="447" y2="316.3" stroke="#000" stroke-width="1.5"/>
<text x="313.1" y="315.8" font-size="11.8" font-weight="bold" transform="rotate(-90 313.1 315.8)">% CD44<tspan font-size="8.6" dy="-5.6">+</tspan><tspan dy="5.6"> of CD4</tspan><tspan font-size="8.6" dy="-5.6">+</tspan></text>
<line x1="352" y1="215.5" x2="398.75" y2="215.5" stroke="#000" stroke-width="1.4"/>
<polygon points="370.90,204.05 370.34,205.33 368.95,205.18 369.77,206.30 368.95,207.43 370.34,207.27 370.90,208.55 371.46,207.27 372.85,207.43 372.02,206.30 372.85,205.18 371.46,205.33" fill="#000"/>
<polygon points="376.60,204.05 376.04,205.33 374.65,205.18 375.48,206.30 374.65,207.43 376.04,207.27 376.60,208.55 377.16,207.27 378.55,207.43 377.73,206.30 378.55,205.18 377.16,205.33" fill="#000"/>
<line x1="424.5" y1="195.5" x2="452.5" y2="195.5" stroke="#000" stroke-width="1.4"/>
<polygon points="431.40,184.05 430.84,185.33 429.45,185.18 430.28,186.30 429.45,187.43 430.84,187.27 431.40,188.55 431.96,187.27 433.35,187.43 432.53,186.30 433.35,185.18 431.96,185.33" fill="#000"/>
<polygon points="437.10,184.05 436.54,185.33 435.15,185.18 435.98,186.30 435.15,187.43 436.54,187.27 437.10,188.55 437.66,187.27 439.05,187.43 438.23,186.30 439.05,185.18 437.66,185.33" fill="#000"/>
<polygon points="442.80,184.05 442.24,185.33 440.85,185.18 441.68,186.30 440.85,187.43 442.24,187.27 442.80,188.55 443.36,187.27 444.75,187.43 443.93,186.30 444.75,185.18 443.36,185.33" fill="#000"/>
<line x1="425" y1="216.25" x2="470.5" y2="216.25" stroke="#000" stroke-width="1.4"/>
<polygon points="436.85,204.80 436.29,206.08 434.90,205.93 435.72,207.05 434.90,208.18 436.29,208.02 436.85,209.30 437.41,208.02 438.80,208.18 437.97,207.05 438.80,205.93 437.41,206.08" fill="#000"/>
<polygon points="442.55,204.80 441.99,206.08 440.60,205.93 441.42,207.05 440.60,208.18 441.99,208.02 442.55,209.30 443.11,208.02 444.50,208.18 443.67,207.05 444.50,205.93 443.11,206.08" fill="#000"/>
<polygon points="448.25,204.80 447.69,206.08 446.30,205.93 447.12,207.05 446.30,208.18 447.69,208.02 448.25,209.30 448.81,208.02 450.20,208.18 449.38,207.05 450.20,205.93 448.81,206.08" fill="#000"/>
<polygon points="453.95,204.80 453.39,206.08 452.00,205.93 452.82,207.05 452.00,208.18 453.39,208.02 453.95,209.30 454.51,208.02 455.90,208.18 455.07,207.05 455.90,205.93 454.51,206.08" fill="#000"/>
<rect x="167.75" y="434.93" width="11.00" height="18.07" fill="#fff" stroke="#000" stroke-width="1.5"/>
<rect x="186.25" y="417.90" width="12.50" height="35.10" fill="#9b9b9b" stroke="none" stroke-width="0"/>
<rect x="205.50" y="415.37" width="12.75" height="37.63" fill="#0b7d0b" stroke="none" stroke-width="0"/>
<rect x="238.75" y="417.24" width="11.25" height="35.76" fill="#fff" stroke="#000" stroke-width="1.5"/>
<rect x="257.00" y="401.05" width="13.00" height="51.95" fill="#9b9b9b" stroke="none" stroke-width="0"/>
<rect x="276.75" y="388.41" width="12.75" height="64.59" fill="#0b7d0b" stroke="none" stroke-width="0"/>
<path d="M168.75 427.50L170.50 429.25L168.75 431.00L167.00 429.25Z" fill="#000"/>
<path d="M178.25 428.25L180.00 430.00L178.25 431.75L176.50 430.00Z" fill="#000"/>
<path d="M173.00 440.00L174.75 441.75L173.00 443.50L171.25 441.75Z" fill="#000"/>
<path d="M243.75 397.00L245.50 398.75L243.75 400.50L242.00 398.75Z" fill="#000"/>
<path d="M241.25 418.25L243.00 420.00L241.25 421.75L239.50 420.00Z" fill="#000"/>
<path d="M247.50 418.25L249.25 420.00L247.50 421.75L245.75 420.00Z" fill="#000"/>
<path d="M243.75 420.75L245.50 422.50L243.75 424.25L242.00 422.50Z" fill="#000"/>
<circle cx="191.25" cy="416.25" r="1.95" fill="#000"/>
<circle cx="195.00" cy="416.25" r="1.95" fill="#000"/>
<circle cx="197.50" cy="414.50" r="1.95" fill="#000"/>
<circle cx="192.50" cy="422.50" r="1.95" fill="#000"/>
<circle cx="194.25" cy="418.75" r="1.95" fill="#000"/>
<circle cx="258.75" cy="397.50" r="1.95" fill="#000"/>
<circle cx="264.50" cy="400.00" r="1.95" fill="#000"/>
<circle cx="268.75" cy="398.00" r="1.95" fill="#000"/>
<circle cx="261.25" cy="406.25" r="1.95" fill="#000"/>
<circle cx="265.50" cy="404.25" r="1.95" fill="#000"/>
<circle cx="211.75" cy="406.25" r="1.45" fill="#fff" stroke="#000" stroke-width="1.1"/>
<circle cx="211.75" cy="411.25" r="1.45" fill="#fff" stroke="#000" stroke-width="1.1"/>
<circle cx="207.00" cy="419.50" r="1.45" fill="#fff" stroke="#000" stroke-width="1.1"/>
<circle cx="210.50" cy="419.50" r="1.45" fill="#fff" stroke="#000" stroke-width="1.1"/>
<circle cx="213.75" cy="419.50" r="1.45" fill="#fff" stroke="#000" stroke-width="1.1"/>
<circle cx="217.00" cy="419.50" r="1.45" fill="#fff" stroke="#000" stroke-width="1.1"/>
<circle cx="283.00" cy="373.00" r="1.45" fill="#fff" stroke="#000" stroke-width="1.1"/>
<circle cx="283.00" cy="382.50" r="1.45" fill="#fff" stroke="#000" stroke-width="1.1"/>
<circle cx="282.50" cy="392.00" r="1.45" fill="#fff" stroke="#000" stroke-width="1.1"/>
<circle cx="278.00" cy="398.75" r="1.45" fill="#fff" stroke="#000" stroke-width="1.1"/>
<circle cx="287.50" cy="396.75" r="1.45" fill="#fff" stroke="#000" stroke-width="1.1"/>
<line x1="160" y1="367.95" x2="160" y2="453.9" stroke="#000" stroke-width="1.8"/>
<line x1="159.1" y1="453" x2="296.25" y2="453" stroke="#000" stroke-width="1.8"/>
<line x1="153" y1="453.0" x2="160" y2="453.0" stroke="#000" stroke-width="1.4"/>
<text x="146.13" y="456.60" font-size="8.7" font-weight="bold" textLength="5.07" lengthAdjust="spacingAndGlyphs">0</text>
<line x1="153" y1="424.9166666666667" x2="160" y2="424.9166666666667" stroke="#000" stroke-width="1.4"/>
<text x="141.06" y="428.52" font-size="8.7" font-weight="bold" textLength="10.14" lengthAdjust="spacingAndGlyphs">10</text>
<line x1="153" y1="396.8333333333333" x2="160" y2="396.8333333333333" stroke="#000" stroke-width="1.4"/>
<text x="141.06" y="400.43" font-size="8.7" font-weight="bold" textLength="10.14" lengthAdjust="spacingAndGlyphs">20</text>
<line x1="153" y1="368.75" x2="160" y2="368.75" stroke="#000" stroke-width="1.4"/>
<text x="141.06" y="372.35" font-size="8.7" font-weight="bold" textLength="10.14" lengthAdjust="spacingAndGlyphs">30</text>
<line x1="191.5" y1="453" x2="191.5" y2="459.8" stroke="#000" stroke-width="1.5"/>
<line x1="262.5" y1="453" x2="262.5" y2="459.8" stroke="#000" stroke-width="1.5"/>
<text x="131.7" y="452" font-size="11.8" font-weight="bold" transform="rotate(-90 131.7 452)">% KI-67<tspan font-size="8.6" dy="-5.6">+</tspan><tspan dy="5.6"> of CD4</tspan><tspan font-size="8.6" dy="-5.6">+</tspan></text>
<line x1="169.5" y1="339.5" x2="192.5" y2="339.5" stroke="#000" stroke-width="1.4"/>
<polygon points="178.05,328.05 177.49,329.33 176.10,329.18 176.93,330.30 176.10,331.43 177.49,331.27 178.05,332.55 178.61,331.27 180.00,331.43 179.18,330.30 180.00,329.18 178.61,329.33" fill="#000"/>
<polygon points="183.75,328.05 183.19,329.33 181.80,329.18 182.62,330.30 181.80,331.43 183.19,331.27 183.75,332.55 184.31,331.27 185.70,331.43 184.88,330.30 185.70,329.18 184.31,329.33" fill="#000"/>
<line x1="169.5" y1="361.25" x2="212.5" y2="361.25" stroke="#000" stroke-width="1.4"/>
<polygon points="182.40,349.80 181.84,351.08 180.45,350.93 181.28,352.05 180.45,353.18 181.84,353.02 182.40,354.30 182.96,353.02 184.35,353.18 183.53,352.05 184.35,350.93 182.96,351.08" fill="#000"/>
<polygon points="188.10,349.80 187.54,351.08 186.15,350.93 186.97,352.05 186.15,353.18 187.54,353.02 188.10,354.30 188.66,353.02 190.05,353.18 189.22,352.05 190.05,350.93 188.66,351.08" fill="#000"/>
<polygon points="193.80,349.80 193.24,351.08 191.85,350.93 192.67,352.05 191.85,353.18 193.24,353.02 193.80,354.30 194.36,353.02 195.75,353.18 194.92,352.05 195.75,350.93 194.36,351.08" fill="#000"/>
<line x1="241.25" y1="339.5" x2="263.75" y2="339.5" stroke="#000" stroke-width="1.4"/>
<polygon points="248.05,328.05 247.49,329.33 246.10,329.18 246.93,330.30 246.10,331.43 247.49,331.27 248.05,332.55 248.61,331.27 250.00,331.43 249.18,330.30 250.00,329.18 248.61,329.33" fill="#000"/>
<polygon points="253.75,328.05 253.19,329.33 251.80,329.18 252.62,330.30 251.80,331.43 253.19,331.27 253.75,332.55 254.31,331.27 255.70,331.43 254.88,330.30 255.70,329.18 254.31,329.33" fill="#000"/>
<line x1="241.25" y1="361.25" x2="283.75" y2="361.25" stroke="#000" stroke-width="1.4"/>
<polygon points="251.45,349.80 250.89,351.08 249.50,350.93 250.32,352.05 249.50,353.18 250.89,353.02 251.45,354.30 252.01,353.02 253.40,353.18 252.57,352.05 253.40,350.93 252.01,351.08" fill="#000"/>
<polygon points="257.15,349.80 256.59,351.08 255.20,350.93 256.02,352.05 255.20,353.18 256.59,353.02 257.15,354.30 257.71,353.02 259.10,353.18 258.27,352.05 259.10,350.93 257.71,351.08" fill="#000"/>
<polygon points="262.85,349.80 262.29,351.08 260.90,350.93 261.73,352.05 260.90,353.18 262.29,353.02 262.85,354.30 263.41,353.02 264.80,353.18 263.98,352.05 264.80,350.93 263.41,351.08" fill="#000"/>
<polygon points="268.55,349.80 267.99,351.08 266.60,350.93 267.43,352.05 266.60,353.18 267.99,353.02 268.55,354.30 269.11,353.02 270.50,353.18 269.68,352.05 270.50,350.93 269.11,351.08" fill="#000"/>
<rect x="351.25" y="422.84" width="11.00" height="28.91" fill="#fff" stroke="#000" stroke-width="1.5"/>
<rect x="370.00" y="411.35" width="12.50" height="40.40" fill="#9b9b9b" stroke="none" stroke-width="0"/>
<rect x="389.25" y="416.15" width="12.75" height="35.60" fill="#0b7d0b" stroke="none" stroke-width="0"/>
<rect x="422.50" y="433.57" width="11.00" height="18.18" fill="#fff" stroke="#000" stroke-width="1.5"/>
<rect x="441.25" y="419.83" width="12.50" height="31.92" fill="#9b9b9b" stroke="none" stroke-width="0"/>
<rect x="460.50" y="439.88" width="12.50" height="11.87" fill="#0b7d0b" stroke="none" stroke-width="0"/>
<path d="M352.30 412.05L354.05 413.80L352.30 415.55L350.55 413.80Z" fill="#000"/>
<path d="M356.80 413.85L358.55 415.60L356.80 417.35L355.05 415.60Z" fill="#000"/>
<path d="M361.60 411.45L363.35 413.20L361.60 414.95L359.85 413.20Z" fill="#000"/>
<path d="M352.30 418.25L354.05 420.00L352.30 421.75L350.55 420.00Z" fill="#000"/>
<path d="M356.80 421.85L358.55 423.60L356.80 425.35L355.05 423.60Z" fill="#000"/>
<path d="M361.20 423.55L362.95 425.30L361.20 427.05L359.45 425.30Z" fill="#000"/>
<path d="M356.80 426.25L358.55 428.00L356.80 429.75L355.05 428.00Z" fill="#000"/>
<path d="M356.80 432.85L358.55 434.60L356.80 436.35L355.05 434.60Z" fill="#000"/>
<path d="M422.50 426.25L424.25 428.00L422.50 429.75L420.75 428.00Z" fill="#000"/>
<path d="M426.25 427.75L428.00 429.50L426.25 431.25L424.50 429.50Z" fill="#000"/>
<path d="M430.00 427.75L431.75 429.50L430.00 431.25L428.25 429.50Z" fill="#000"/>
<path d="M427.50 437.75L429.25 439.50L427.50 441.25L425.75 439.50Z" fill="#000"/>
<path d="M423.75 432.00L425.50 433.75L423.75 435.50L422.00 433.75Z" fill="#000"/>
<circle cx="372.00" cy="399.50" r="1.95" fill="#000"/>
<circle cx="376.25" cy="402.50" r="1.95" fill="#000"/>
<circle cx="381.25" cy="401.25" r="1.95" fill="#000"/>
<circle cx="372.50" cy="412.50" r="1.95" fill="#000"/>
<circle cx="377.50" cy="411.25" r="1.95" fill="#000"/>
<circle cx="381.25" cy="413.75" r="1.95" fill="#000"/>
<circle cx="376.25" cy="416.25" r="1.95" fill="#000"/>
<circle cx="373.75" cy="423.00" r="1.95" fill="#000"/>
<circle cx="379.50" cy="421.25" r="1.95" fill="#000"/>
<circle cx="444.50" cy="414.50" r="1.95" fill="#000"/>
<circle cx="448.00" cy="416.25" r="1.95" fill="#000"/>
<circle cx="451.25" cy="417.00" r="1.95" fill="#000"/>
<circle cx="445.50" cy="418.75" r="1.95" fill="#000"/>
<circle cx="449.50" cy="418.00" r="1.95" fill="#000"/>
<circle cx="447.00" cy="423.00" r="1.95" fill="#000"/>
<circle cx="447.00" cy="434.50" r="1.95" fill="#000"/>
<circle cx="395.50" cy="402.00" r="1.45" fill="#fff" stroke="#000" stroke-width="1.1"/>
<circle cx="390.75" cy="411.25" r="1.45" fill="#fff" stroke="#000" stroke-width="1.1"/>
<circle cx="400.00" cy="414.25" r="1.45" fill="#fff" stroke="#000" stroke-width="1.1"/>
<circle cx="390.75" cy="418.75" r="1.45" fill="#fff" stroke="#000" stroke-width="1.1"/>
<circle cx="400.00" cy="419.50" r="1.45" fill="#fff" stroke="#000" stroke-width="1.1"/>
<circle cx="395.50" cy="428.00" r="1.45" fill="#fff" stroke="#000" stroke-width="1.1"/>
<circle cx="466.25" cy="432.50" r="1.45" fill="#fff" stroke="#000" stroke-width="1.1"/>
<circle cx="462.50" cy="442.50" r="1.45" fill="#fff" stroke="#000" stroke-width="1.1"/>
<circle cx="465.00" cy="441.25" r="1.45" fill="#fff" stroke="#000" stroke-width="1.1"/>
<circle cx="468.00" cy="441.25" r="1.45" fill="#fff" stroke="#000" stroke-width="1.1"/>
<circle cx="471.25" cy="440.00" r="1.45" fill="#fff" stroke="#000" stroke-width="1.1"/>
<circle cx="471.25" cy="443.75" r="1.45" fill="#fff" stroke="#000" stroke-width="1.1"/>
<line x1="344.25" y1="366.2" x2="344.25" y2="452.65" stroke="#000" stroke-width="1.8"/>
<line x1="343.35" y1="451.75" x2="480" y2="451.75" stroke="#000" stroke-width="1.8"/>
<line x1="337.25" y1="451.75" x2="344.25" y2="451.75" stroke="#000" stroke-width="1.4"/>
<text x="330.38" y="455.35" font-size="8.7" font-weight="bold" textLength="5.07" lengthAdjust="spacingAndGlyphs">0</text>
<line x1="337.25" y1="423.5" x2="344.25" y2="423.5" stroke="#000" stroke-width="1.4"/>
<text x="325.31" y="427.10" font-size="8.7" font-weight="bold" textLength="10.14" lengthAdjust="spacingAndGlyphs">10</text>
<line x1="337.25" y1="395.25" x2="344.25" y2="395.25" stroke="#000" stroke-width="1.4"/>
<text x="325.31" y="398.85" font-size="8.7" font-weight="bold" textLength="10.14" lengthAdjust="spacingAndGlyphs">20</text>
<line x1="337.25" y1="367.0" x2="344.25" y2="367.0" stroke="#000" stroke-width="1.4"/>
<text x="325.31" y="370.60" font-size="8.7" font-weight="bold" textLength="10.14" lengthAdjust="spacingAndGlyphs">30</text>
<line x1="375.75" y1="451.75" x2="375.75" y2="458.55" stroke="#000" stroke-width="1.5"/>
<line x1="447" y1="451.75" x2="447" y2="458.55" stroke="#000" stroke-width="1.5"/>
<text x="316" y="457.7" font-size="11.8" font-weight="bold" transform="rotate(-90 316 457.7)">% KI-67<tspan font-size="8.6" dy="-5.6">+</tspan><tspan dy="5.6"> of CD4</tspan><tspan font-size="8.6" dy="-5.6">+</tspan></text>
<line x1="431.25" y1="359" x2="468.75" y2="359" stroke="#000" stroke-width="1.4"/>
<polygon points="440.85,347.55 440.29,348.83 438.90,348.68 439.72,349.80 438.90,350.93 440.29,350.77 440.85,352.05 441.41,350.77 442.80,350.93 441.97,349.80 442.80,348.68 441.41,348.83" fill="#000"/>
<polygon points="446.55,347.55 445.99,348.83 444.60,348.68 445.42,349.80 444.60,350.93 445.99,350.77 446.55,352.05 447.11,350.77 448.50,350.93 447.67,349.80 448.50,348.68 447.11,348.83" fill="#000"/>
<polygon points="452.25,347.55 451.69,348.83 450.30,348.68 451.12,349.80 450.30,350.93 451.69,350.77 452.25,352.05 452.81,350.77 454.20,350.93 453.38,349.80 454.20,348.68 452.81,348.83" fill="#000"/>
<polygon points="457.95,347.55 457.39,348.83 456.00,348.68 456.82,349.80 456.00,350.93 457.39,350.77 457.95,352.05 458.51,350.77 459.90,350.93 459.07,349.80 459.90,348.68 458.51,348.83" fill="#000"/>
<rect x="165.25" y="591.50" width="8.50" height="3.50" fill="#fff" stroke="#000" stroke-width="1.5"/>
<rect x="180.00" y="590.75" width="9.50" height="4.25" fill="#9b9b9b" stroke="none" stroke-width="0"/>
<rect x="194.25" y="587.56" width="10.25" height="7.44" fill="#0b7d0b" stroke="none" stroke-width="0"/>
<rect x="210.25" y="591.11" width="8.25" height="3.89" fill="#a0a0a0" stroke="#138a13" stroke-width="2"/>
<rect x="235.75" y="585.12" width="8.00" height="9.88" fill="#fff" stroke="#000" stroke-width="1.5"/>
<rect x="250.00" y="589.69" width="9.50" height="5.31" fill="#9b9b9b" stroke="none" stroke-width="0"/>
<rect x="265.00" y="576.94" width="10.00" height="18.06" fill="#0b7d0b" stroke="none" stroke-width="0"/>
<rect x="281.00" y="584.31" width="8.00" height="10.69" fill="#a0a0a0" stroke="#138a13" stroke-width="2"/>
<path d="M166.25 585.75L168.00 587.50L166.25 589.25L164.50 587.50Z" fill="#000"/>
<path d="M168.75 589.50L170.50 591.25L168.75 593.00L167.00 591.25Z" fill="#000"/>
<path d="M172.50 590.00L174.25 591.75L172.50 593.50L170.75 591.75Z" fill="#000"/>
<path d="M170.00 588.25L171.75 590.00L170.00 591.75L168.25 590.00Z" fill="#000"/>
<path d="M239.50 575.25L241.25 577.00L239.50 578.75L237.75 577.00Z" fill="#000"/>
<path d="M239.50 578.25L241.25 580.00L239.50 581.75L237.75 580.00Z" fill="#000"/>
<path d="M238.00 585.00L239.75 586.75L238.00 588.50L236.25 586.75Z" fill="#000"/>
<path d="M242.00 590.75L243.75 592.50L242.00 594.25L240.25 592.50Z" fill="#000"/>
<circle cx="181.25" cy="590.75" r="1.95" fill="#000"/>
<circle cx="183.75" cy="590.00" r="1.95" fill="#000"/>
<circle cx="186.25" cy="590.50" r="1.95" fill="#000"/>
<circle cx="187.50" cy="591.75" r="1.95" fill="#000"/>
<circle cx="251.25" cy="585.50" r="1.95" fill="#000"/>
<circle cx="253.75" cy="588.00" r="1.95" fill="#000"/>
<circle cx="256.25" cy="588.75" r="1.95" fill="#000"/>
<circle cx="258.00" cy="588.00" r="1.95" fill="#000"/>
<circle cx="199.50" cy="583.75" r="1.45" fill="#fff" stroke="#000" stroke-width="1.1"/>
<circle cx="196.25" cy="586.25" r="1.45" fill="#fff" stroke="#000" stroke-width="1.1"/>
<circle cx="202.50" cy="587.00" r="1.45" fill="#fff" stroke="#000" stroke-width="1.1"/>
<circle cx="198.00" cy="588.00" r="1.45" fill="#fff" stroke="#000" stroke-width="1.1"/>
<circle cx="200.50" cy="588.75" r="1.45" fill="#fff" stroke="#000" stroke-width="1.1"/>
<circle cx="269.50" cy="568.25" r="1.45" fill="#fff" stroke="#000" stroke-width="1.1"/>
<circle cx="268.75" cy="575.00" r="1.45" fill="#fff" stroke="#000" stroke-width="1.1"/>
<circle cx="266.25" cy="578.75" r="1.45" fill="#fff" stroke="#000" stroke-width="1.1"/>
<circle cx="270.50" cy="579.25" r="1.45" fill="#fff" stroke="#000" stroke-width="1.1"/>
<circle cx="267.50" cy="582.50" r="1.45" fill="#fff" stroke="#000" stroke-width="1.1"/>
<circle cx="272.50" cy="582.00" r="1.45" fill="#fff" stroke="#000" stroke-width="1.1"/>
<path d="M213.00 583.85L215.28 587.81L210.72 587.81Z" fill="#fff" stroke="#000" stroke-width="0.9"/>
<path d="M216.25 585.10L218.53 589.06L213.97 589.06Z" fill="#fff" stroke="#000" stroke-width="0.9"/>
<path d="M211.25 587.10L213.53 591.06L208.97 591.06Z" fill="#fff" stroke="#000" stroke-width="0.9"/>
<path d="M217.50 587.60L219.78 591.56L215.22 591.56Z" fill="#fff" stroke="#000" stroke-width="0.9"/>
<path d="M282.00 579.35L284.28 583.31L279.72 583.31Z" fill="#fff" stroke="#000" stroke-width="0.9"/>
<path d="M285.00 578.35L287.28 582.31L282.72 582.31Z" fill="#fff" stroke="#000" stroke-width="0.9"/>
<path d="M288.25 577.60L290.53 581.56L285.97 581.56Z" fill="#fff" stroke="#000" stroke-width="0.9"/>
<path d="M283.00 583.10L285.28 587.06L280.72 587.06Z" fill="#fff" stroke="#000" stroke-width="0.9"/>
<path d="M288.25 583.10L290.53 587.06L285.97 587.06Z" fill="#fff" stroke="#000" stroke-width="0.9"/>
<line x1="159.5" y1="509.2" x2="159.5" y2="595.9" stroke="#000" stroke-width="1.8"/>
<line x1="158.6" y1="595" x2="295.5" y2="595" stroke="#000" stroke-width="1.8"/>
<line x1="152.5" y1="595.0" x2="159.5" y2="595.0" stroke="#000" stroke-width="1.4"/>
<text x="145.63" y="598.60" font-size="8.7" font-weight="bold" textLength="5.07" lengthAdjust="spacingAndGlyphs">0</text>
<line x1="152.5" y1="573.75" x2="159.5" y2="573.75" stroke="#000" stroke-width="1.4"/>
<text x="140.56" y="577.35" font-size="8.7" font-weight="bold" textLength="10.14" lengthAdjust="spacingAndGlyphs">10</text>
<line x1="152.5" y1="552.5" x2="159.5" y2="552.5" stroke="#000" stroke-width="1.4"/>
<text x="140.56" y="556.10" font-size="8.7" font-weight="bold" textLength="10.14" lengthAdjust="spacingAndGlyphs">20</text>
<line x1="152.5" y1="531.25" x2="159.5" y2="531.25" stroke="#000" stroke-width="1.4"/>
<text x="140.56" y="534.85" font-size="8.7" font-weight="bold" textLength="10.14" lengthAdjust="spacingAndGlyphs">30</text>
<line x1="152.5" y1="510.0" x2="159.5" y2="510.0" stroke="#000" stroke-width="1.4"/>
<text x="140.56" y="513.60" font-size="8.7" font-weight="bold" textLength="10.14" lengthAdjust="spacingAndGlyphs">40</text>
<line x1="191.75" y1="595" x2="191.75" y2="601.8" stroke="#000" stroke-width="1.5"/>
<line x1="262.5" y1="595" x2="262.5" y2="601.8" stroke="#000" stroke-width="1.5"/>
<text x="130.8" y="597.3" font-size="11.8" font-weight="bold" transform="rotate(-90 130.8 597.3)">% RORγt<tspan font-size="8.6" dy="-5.6">+</tspan><tspan dy="5.6"> of CD4</tspan><tspan font-size="8.6" dy="-5.6">+</tspan></text>
<line x1="240" y1="504.5" x2="273" y2="504.5" stroke="#000" stroke-width="1.4"/>
<polygon points="256.00,493.05 255.44,494.33 254.05,494.18 254.88,495.30 254.05,496.43 255.44,496.27 256.00,497.55 256.56,496.27 257.95,496.43 257.12,495.30 257.95,494.18 256.56,494.33" fill="#000"/>
<rect x="350.25" y="591.64" width="7.75" height="1.36" fill="#fff" stroke="#000" stroke-width="1.5"/>
<rect x="364.50" y="590.89" width="9.25" height="2.11" fill="#9b9b9b" stroke="none" stroke-width="0"/>
<rect x="378.75" y="583.52" width="10.00" height="9.48" fill="#0b7d0b" stroke="none" stroke-width="0"/>
<rect x="394.75" y="589.79" width="8.00" height="3.21" fill="#a0a0a0" stroke="#138a13" stroke-width="2"/>
<rect x="420.25" y="592.70" width="7.75" height="0.30" fill="#fff" stroke="#000" stroke-width="1.5"/>
<rect x="434.50" y="589.84" width="9.25" height="3.16" fill="#9b9b9b" stroke="none" stroke-width="0"/>
<rect x="449.25" y="552.98" width="10.00" height="40.02" fill="#0b7d0b" stroke="none" stroke-width="0"/>
<rect x="465.25" y="571.88" width="8.00" height="21.12" fill="#a0a0a0" stroke="#138a13" stroke-width="2"/>
<path d="M352.00 587.75L353.75 589.50L352.00 591.25L350.25 589.50Z" fill="#000"/>
<path d="M354.50 589.00L356.25 590.75L354.50 592.50L352.75 590.75Z" fill="#000"/>
<path d="M351.25 590.00L353.00 591.75L351.25 593.50L349.50 591.75Z" fill="#000"/>
<path d="M356.50 589.75L358.25 591.50L356.50 593.25L354.75 591.50Z" fill="#000"/>
<path d="M421.00 589.25L422.75 591.00L421.00 592.75L419.25 591.00Z" fill="#000"/>
<path d="M423.50 589.75L425.25 591.50L423.50 593.25L421.75 591.50Z" fill="#000"/>
<path d="M426.00 589.25L427.75 591.00L426.00 592.75L424.25 591.00Z" fill="#000"/>
<path d="M427.50 589.75L429.25 591.50L427.50 593.25L425.75 591.50Z" fill="#000"/>
<circle cx="366.25" cy="590.50" r="1.95" fill="#000"/>
<circle cx="368.00" cy="591.00" r="1.95" fill="#000"/>
<circle cx="370.00" cy="591.00" r="1.95" fill="#000"/>
<circle cx="372.50" cy="591.50" r="1.95" fill="#000"/>
<circle cx="436.50" cy="590.00" r="1.95" fill="#000"/>
<circle cx="438.50" cy="588.00" r="1.95" fill="#000"/>
<circle cx="440.50" cy="586.50" r="1.95" fill="#000"/>
<circle cx="442.00" cy="589.00" r="1.95" fill="#000"/>
<circle cx="437.00" cy="591.00" r="1.95" fill="#000"/>
<circle cx="440.00" cy="591.00" r="1.95" fill="#000"/>
<circle cx="382.50" cy="577.00" r="1.45" fill="#fff" stroke="#000" stroke-width="1.1"/>
<circle cx="385.50" cy="578.75" r="1.45" fill="#fff" stroke="#000" stroke-width="1.1"/>
<circle cx="381.25" cy="580.50" r="1.45" fill="#fff" stroke="#000" stroke-width="1.1"/>
<circle cx="387.50" cy="581.25" r="1.45" fill="#fff" stroke="#000" stroke-width="1.1"/>
<circle cx="383.75" cy="583.75" r="1.45" fill="#fff" stroke="#000" stroke-width="1.1"/>
<circle cx="387.00" cy="584.50" r="1.45" fill="#fff" stroke="#000" stroke-width="1.1"/>
<circle cx="381.25" cy="583.75" r="1.45" fill="#fff" stroke="#000" stroke-width="1.1"/>
<circle cx="454.00" cy="508.75" r="1.45" fill="#fff" stroke="#000" stroke-width="1.1"/>
<circle cx="454.00" cy="530.75" r="1.45" fill="#fff" stroke="#000" stroke-width="1.1"/>
<circle cx="454.00" cy="547.00" r="1.45" fill="#fff" stroke="#000" stroke-width="1.1"/>
<circle cx="454.00" cy="557.50" r="1.45" fill="#fff" stroke="#000" stroke-width="1.1"/>
<circle cx="454.00" cy="563.25" r="1.45" fill="#fff" stroke="#000" stroke-width="1.1"/>
<circle cx="454.00" cy="568.25" r="1.45" fill="#fff" stroke="#000" stroke-width="1.1"/>
<circle cx="454.00" cy="573.00" r="1.45" fill="#fff" stroke="#000" stroke-width="1.1"/>
<circle cx="454.00" cy="578.25" r="1.45" fill="#fff" stroke="#000" stroke-width="1.1"/>
<path d="M395.50 583.10L397.78 587.06L393.22 587.06Z" fill="#fff" stroke="#000" stroke-width="0.9"/>
<path d="M398.00 582.60L400.28 586.56L395.72 586.56Z" fill="#fff" stroke="#000" stroke-width="0.9"/>
<path d="M401.25 584.60L403.53 588.56L398.97 588.56Z" fill="#fff" stroke="#000" stroke-width="0.9"/>
<path d="M396.25 586.35L398.53 590.31L393.97 590.31Z" fill="#fff" stroke="#000" stroke-width="0.9"/>
<path d="M400.00 587.10L402.28 591.06L397.72 591.06Z" fill="#fff" stroke="#000" stroke-width="0.9"/>
<path d="M469.00 535.10L471.28 539.06L466.72 539.06Z" fill="#fff" stroke="#000" stroke-width="0.9"/>
<path d="M469.00 561.85L471.28 565.81L466.72 565.81Z" fill="#fff" stroke="#000" stroke-width="0.9"/>
<path d="M469.00 565.85L471.28 569.81L466.72 569.81Z" fill="#fff" stroke="#000" stroke-width="0.9"/>
<path d="M466.00 573.85L468.28 577.81L463.72 577.81Z" fill="#fff" stroke="#000" stroke-width="0.9"/>
<path d="M471.00 575.60L473.28 579.56L468.72 579.56Z" fill="#fff" stroke="#000" stroke-width="0.9"/>
<path d="M468.00 578.10L470.28 582.06L465.72 582.06Z" fill="#fff" stroke="#000" stroke-width="0.9"/>
<path d="M470.00 581.35L472.28 585.31L467.72 585.31Z" fill="#fff" stroke="#000" stroke-width="0.9"/>
<path d="M469.00 585.10L471.28 589.06L466.72 589.06Z" fill="#fff" stroke="#000" stroke-width="0.9"/>
<line x1="344" y1="507.95" x2="344" y2="593.9" stroke="#000" stroke-width="1.8"/>
<line x1="343.1" y1="593" x2="479.5" y2="593" stroke="#000" stroke-width="1.8"/>
<line x1="337" y1="593.0" x2="344" y2="593.0" stroke="#000" stroke-width="1.4"/>
<text x="330.13" y="596.60" font-size="8.7" font-weight="bold" textLength="5.07" lengthAdjust="spacingAndGlyphs">0</text>
<line x1="337" y1="571.9375" x2="344" y2="571.9375" stroke="#000" stroke-width="1.4"/>
<text x="325.06" y="575.54" font-size="8.7" font-weight="bold" textLength="10.14" lengthAdjust="spacingAndGlyphs">10</text>
<line x1="337" y1="550.875" x2="344" y2="550.875" stroke="#000" stroke-width="1.4"/>
<text x="325.06" y="554.48" font-size="8.7" font-weight="bold" textLength="10.14" lengthAdjust="spacingAndGlyphs">20</text>
<line x1="337" y1="529.8125" x2="344" y2="529.8125" stroke="#000" stroke-width="1.4"/>
<text x="325.06" y="533.41" font-size="8.7" font-weight="bold" textLength="10.14" lengthAdjust="spacingAndGlyphs">30</text>
<line x1="337" y1="508.75" x2="344" y2="508.75" stroke="#000" stroke-width="1.4"/>
<text x="325.06" y="512.35" font-size="8.7" font-weight="bold" textLength="10.14" lengthAdjust="spacingAndGlyphs">40</text>
<line x1="375.75" y1="593" x2="375.75" y2="599.8" stroke="#000" stroke-width="1.5"/>
<line x1="447" y1="593" x2="447" y2="599.8" stroke="#000" stroke-width="1.5"/>
<text x="315.2" y="602.5" font-size="11.8" font-weight="bold" transform="rotate(-90 315.2 602.5)">% RORγt<tspan font-size="8.6" dy="-5.6">+</tspan><tspan dy="5.6"> of CD4</tspan><tspan font-size="8.6" dy="-5.6">+</tspan></text>
<line x1="425.75" y1="478.25" x2="472" y2="478.25" stroke="#000" stroke-width="1.4"/>
<polygon points="444.15,466.80 443.59,468.08 442.20,467.93 443.02,469.05 442.20,470.18 443.59,470.02 444.15,471.30 444.71,470.02 446.10,470.18 445.27,469.05 446.10,467.93 444.71,468.08" fill="#000"/>
<polygon points="449.85,466.80 449.29,468.08 447.90,467.93 448.73,469.05 447.90,470.18 449.29,470.02 449.85,471.30 450.41,470.02 451.80,470.18 450.98,469.05 451.80,467.93 450.41,468.08" fill="#000"/>
<line x1="426.25" y1="496.25" x2="452" y2="496.25" stroke="#000" stroke-width="1.4"/>
<polygon points="433.70,484.80 433.14,486.08 431.75,485.93 432.57,487.05 431.75,488.18 433.14,488.02 433.70,489.30 434.26,488.02 435.65,488.18 434.82,487.05 435.65,485.93 434.26,486.08" fill="#000"/>
<polygon points="439.40,484.80 438.84,486.08 437.45,485.93 438.27,487.05 437.45,488.18 438.84,488.02 439.40,489.30 439.96,488.02 441.35,488.18 440.52,487.05 441.35,485.93 439.96,486.08" fill="#000"/>
<polygon points="445.10,484.80 444.54,486.08 443.15,485.93 443.97,487.05 443.15,488.18 444.54,488.02 445.10,489.30 445.66,488.02 447.05,488.18 446.22,487.05 447.05,485.93 445.66,486.08" fill="#000"/>
<rect x="165.75" y="726.66" width="8.50" height="30.84" fill="#fff" stroke="#000" stroke-width="1.5"/>
<rect x="180.00" y="698.52" width="10.00" height="58.98" fill="#9b9b9b" stroke="none" stroke-width="0"/>
<rect x="195.00" y="741.70" width="10.00" height="15.80" fill="#0b7d0b" stroke="none" stroke-width="0"/>
<rect x="211.00" y="717.64" width="8.00" height="39.86" fill="#a0a0a0" stroke="#138a13" stroke-width="2"/>
<rect x="236.25" y="739.93" width="8.00" height="17.57" fill="#fff" stroke="#000" stroke-width="1.5"/>
<rect x="250.50" y="728.01" width="10.00" height="29.49" fill="#9b9b9b" stroke="none" stroke-width="0"/>
<rect x="265.50" y="754.34" width="10.00" height="3.16" fill="#0b7d0b" stroke="none" stroke-width="0"/>
<rect x="281.50" y="741.65" width="8.00" height="15.85" fill="#a0a0a0" stroke="#138a13" stroke-width="2"/>
<path d="M171.25 717.00L173.00 718.75L171.25 720.50L169.50 718.75Z" fill="#000"/>
<path d="M167.50 724.50L169.25 726.25L167.50 728.00L165.75 726.25Z" fill="#000"/>
<path d="M173.25 724.50L175.00 726.25L173.25 728.00L171.50 726.25Z" fill="#000"/>
<path d="M170.00 726.25L171.75 728.00L170.00 729.75L168.25 728.00Z" fill="#000"/>
<path d="M240.50 732.00L242.25 733.75L240.50 735.50L238.75 733.75Z" fill="#000"/>
<path d="M243.75 737.00L245.50 738.75L243.75 740.50L242.00 738.75Z" fill="#000"/>
<path d="M237.00 738.25L238.75 740.00L237.00 741.75L235.25 740.00Z" fill="#000"/>
<path d="M242.00 739.50L243.75 741.25L242.00 743.00L240.25 741.25Z" fill="#000"/>
<circle cx="182.50" cy="693.25" r="1.95" fill="#000"/>
<circle cx="185.50" cy="693.00" r="1.95" fill="#000"/>
<circle cx="188.00" cy="696.25" r="1.95" fill="#000"/>
<circle cx="185.00" cy="698.75" r="1.95" fill="#000"/>
<circle cx="185.50" cy="709.50" r="1.95" fill="#000"/>
<circle cx="255.50" cy="721.75" r="1.95" fill="#000"/>
<circle cx="252.00" cy="725.00" r="1.95" fill="#000"/>
<circle cx="258.75" cy="725.00" r="1.95" fill="#000"/>
<circle cx="252.50" cy="732.50" r="1.95" fill="#000"/>
<circle cx="258.00" cy="731.25" r="1.95" fill="#000"/>
<circle cx="197.00" cy="737.50" r="1.45" fill="#fff" stroke="#000" stroke-width="1.1"/>
<circle cx="200.00" cy="740.00" r="1.45" fill="#fff" stroke="#000" stroke-width="1.1"/>
<circle cx="203.75" cy="741.25" r="1.45" fill="#fff" stroke="#000" stroke-width="1.1"/>
<circle cx="196.25" cy="743.00" r="1.45" fill="#fff" stroke="#000" stroke-width="1.1"/>
<circle cx="200.00" cy="743.00" r="1.45" fill="#fff" stroke="#000" stroke-width="1.1"/>
<circle cx="269.50" cy="750.00" r="1.45" fill="#fff" stroke="#000" stroke-width="1.1"/>
<circle cx="267.50" cy="752.50" r="1.45" fill="#fff" stroke="#000" stroke-width="1.1"/>
<circle cx="271.25" cy="753.00" r="1.45" fill="#fff" stroke="#000" stroke-width="1.1"/>
<circle cx="274.50" cy="753.00" r="1.45" fill="#fff" stroke="#000" stroke-width="1.1"/>
<circle cx="266.25" cy="753.75" r="1.45" fill="#fff" stroke="#000" stroke-width="1.1"/>
<path d="M215.00 706.35L217.28 710.31L212.72 710.31Z" fill="#fff" stroke="#000" stroke-width="0.9"/>
<path d="M212.00 711.35L214.28 715.31L209.72 715.31Z" fill="#fff" stroke="#000" stroke-width="0.9"/>
<path d="M218.25 711.35L220.53 715.31L215.97 715.31Z" fill="#fff" stroke="#000" stroke-width="0.9"/>
<path d="M215.00 718.85L217.28 722.81L212.72 722.81Z" fill="#fff" stroke="#000" stroke-width="0.9"/>
<path d="M215.00 725.85L217.28 729.81L212.72 729.81Z" fill="#fff" stroke="#000" stroke-width="0.9"/>
<path d="M285.50 731.35L287.78 735.31L283.22 735.31Z" fill="#fff" stroke="#000" stroke-width="0.9"/>
<path d="M282.50 735.10L284.78 739.06L280.22 739.06Z" fill="#fff" stroke="#000" stroke-width="0.9"/>
<path d="M288.75 735.60L291.03 739.56L286.47 739.56Z" fill="#fff" stroke="#000" stroke-width="0.9"/>
<path d="M282.50 740.60L284.78 744.56L280.22 744.56Z" fill="#fff" stroke="#000" stroke-width="0.9"/>
<path d="M289.25 740.10L291.53 744.06L286.97 744.06Z" fill="#fff" stroke="#000" stroke-width="0.9"/>
<line x1="160" y1="672.45" x2="160" y2="758.4" stroke="#000" stroke-width="1.8"/>
<line x1="159.1" y1="757.5" x2="296.25" y2="757.5" stroke="#000" stroke-width="1.8"/>
<line x1="153" y1="757.5" x2="160" y2="757.5" stroke="#000" stroke-width="1.4"/>
<text x="146.13" y="761.10" font-size="8.7" font-weight="bold" textLength="5.07" lengthAdjust="spacingAndGlyphs">0</text>
<line x1="153" y1="736.4375" x2="160" y2="736.4375" stroke="#000" stroke-width="1.4"/>
<text x="141.06" y="740.04" font-size="8.7" font-weight="bold" textLength="10.14" lengthAdjust="spacingAndGlyphs">10</text>
<line x1="153" y1="715.375" x2="160" y2="715.375" stroke="#000" stroke-width="1.4"/>
<text x="141.06" y="718.98" font-size="8.7" font-weight="bold" textLength="10.14" lengthAdjust="spacingAndGlyphs">20</text>
<line x1="153" y1="694.3125" x2="160" y2="694.3125" stroke="#000" stroke-width="1.4"/>
<text x="141.06" y="697.91" font-size="8.7" font-weight="bold" textLength="10.14" lengthAdjust="spacingAndGlyphs">30</text>
<line x1="153" y1="673.25" x2="160" y2="673.25" stroke="#000" stroke-width="1.4"/>
<text x="141.06" y="676.85" font-size="8.7" font-weight="bold" textLength="10.14" lengthAdjust="spacingAndGlyphs">40</text>
<line x1="192.5" y1="757.5" x2="192.5" y2="764.3" stroke="#000" stroke-width="1.5"/>
<line x1="262.5" y1="757.5" x2="262.5" y2="764.3" stroke="#000" stroke-width="1.5"/>
<text x="131.5" y="770.1" font-size="11.8" font-weight="bold" transform="rotate(-90 131.5 770.1)">% FOXP3<tspan font-size="8.6" dy="-5.6">+</tspan><tspan dy="5.6"> of CD4</tspan><tspan font-size="8.6" dy="-5.6">+</tspan></text>
<text x="192.5" y="777.5" font-size="11.8" font-weight="bold" text-anchor="middle">Spleen</text>
<text x="262.8" y="777.5" font-size="11.8" font-weight="bold" text-anchor="middle">Lung</text>
<line x1="165" y1="631.25" x2="212" y2="631.25" stroke="#000" stroke-width="1.4"/>
<polygon points="188.00,619.80 187.44,621.08 186.05,620.92 186.88,622.05 186.05,623.17 187.44,623.02 188.00,624.30 188.56,623.02 189.95,623.17 189.12,622.05 189.95,620.92 188.56,621.08" fill="#000"/>
<line x1="165" y1="649.5" x2="195.5" y2="649.5" stroke="#000" stroke-width="1.4"/>
<polygon points="172.25,638.05 171.69,639.33 170.30,639.17 171.12,640.30 170.30,641.42 171.69,641.27 172.25,642.55 172.81,641.27 174.20,641.42 173.38,640.30 174.20,639.17 172.81,639.33" fill="#000"/>
<polygon points="177.95,638.05 177.39,639.33 176.00,639.17 176.83,640.30 176.00,641.42 177.39,641.27 177.95,642.55 178.51,641.27 179.90,641.42 179.08,640.30 179.90,639.17 178.51,639.33" fill="#000"/>
<polygon points="183.65,638.05 183.09,639.33 181.70,639.17 182.53,640.30 181.70,641.42 183.09,641.27 183.65,642.55 184.21,641.27 185.60,641.42 184.78,640.30 185.60,639.17 184.21,639.33" fill="#000"/>
<polygon points="189.35,638.05 188.79,639.33 187.40,639.17 188.23,640.30 187.40,641.42 188.79,641.27 189.35,642.55 189.91,641.27 191.30,641.42 190.48,640.30 191.30,639.17 189.91,639.33" fill="#000"/>
<line x1="165" y1="667.5" x2="187" y2="667.5" stroke="#000" stroke-width="1.4"/>
<polygon points="167.45,656.05 166.89,657.33 165.50,657.17 166.32,658.30 165.50,659.42 166.89,659.27 167.45,660.55 168.01,659.27 169.40,659.42 168.57,658.30 169.40,657.17 168.01,657.33" fill="#000"/>
<polygon points="173.15,656.05 172.59,657.33 171.20,657.17 172.03,658.30 171.20,659.42 172.59,659.27 173.15,660.55 173.71,659.27 175.10,659.42 174.28,658.30 175.10,657.17 173.71,657.33" fill="#000"/>
<polygon points="178.85,656.05 178.29,657.33 176.90,657.17 177.72,658.30 176.90,659.42 178.29,659.27 178.85,660.55 179.41,659.27 180.80,659.42 179.97,658.30 180.80,657.17 179.41,657.33" fill="#000"/>
<polygon points="184.55,656.05 183.99,657.33 182.60,657.17 183.43,658.30 182.60,659.42 183.99,659.27 184.55,660.55 185.11,659.27 186.50,659.42 185.68,658.30 186.50,657.17 185.11,657.33" fill="#000"/>
<line x1="241.25" y1="648.75" x2="268" y2="648.75" stroke="#000" stroke-width="1.4"/>
<polygon points="248.05,637.30 247.49,638.58 246.10,638.42 246.93,639.55 246.10,640.67 247.49,640.52 248.05,641.80 248.61,640.52 250.00,640.67 249.18,639.55 250.00,638.42 248.61,638.58" fill="#000"/>
<polygon points="253.75,637.30 253.19,638.58 251.80,638.42 252.62,639.55 251.80,640.67 253.19,640.52 253.75,641.80 254.31,640.52 255.70,640.67 254.88,639.55 255.70,638.42 254.31,638.58" fill="#000"/>
<polygon points="259.45,637.30 258.89,638.58 257.50,638.42 258.32,639.55 257.50,640.67 258.89,640.52 259.45,641.80 260.01,640.52 261.40,640.67 260.57,639.55 261.40,638.42 260.01,638.58" fill="#000"/>
<line x1="241.25" y1="668.75" x2="262" y2="668.75" stroke="#000" stroke-width="1.4"/>
<polygon points="247.65,657.30 247.09,658.58 245.70,658.42 246.53,659.55 245.70,660.67 247.09,660.52 247.65,661.80 248.21,660.52 249.60,660.67 248.78,659.55 249.60,658.42 248.21,658.58" fill="#000"/>
<polygon points="253.35,657.30 252.79,658.58 251.40,658.42 252.22,659.55 251.40,660.67 252.79,660.52 253.35,661.80 253.91,660.52 255.30,660.67 254.47,659.55 255.30,658.42 253.91,658.58" fill="#000"/>
<rect x="350.25" y="722.34" width="7.75" height="35.16" fill="#fff" stroke="#000" stroke-width="1.5"/>
<rect x="364.50" y="685.67" width="10.00" height="71.83" fill="#9b9b9b" stroke="none" stroke-width="0"/>
<rect x="379.50" y="747.99" width="9.25" height="9.51" fill="#0b7d0b" stroke="none" stroke-width="0"/>
<rect x="395.50" y="709.91" width="7.25" height="47.59" fill="#a0a0a0" stroke="#138a13" stroke-width="2"/>
<rect x="420.25" y="743.46" width="7.75" height="14.04" fill="#fff" stroke="#000" stroke-width="1.5"/>
<rect x="434.50" y="720.53" width="10.00" height="36.97" fill="#9b9b9b" stroke="none" stroke-width="0"/>
<rect x="449.50" y="754.33" width="10.00" height="3.17" fill="#0b7d0b" stroke="none" stroke-width="0"/>
<rect x="465.50" y="737.38" width="8.00" height="20.12" fill="#a0a0a0" stroke="#138a13" stroke-width="2"/>
<path d="M353.00 712.00L354.75 713.75L353.00 715.50L351.25 713.75Z" fill="#000"/>
<path d="M350.50 715.75L352.25 717.50L350.50 719.25L348.75 717.50Z" fill="#000"/>
<path d="M355.00 717.00L356.75 718.75L355.00 720.50L353.25 718.75Z" fill="#000"/>
<path d="M352.00 720.75L353.75 722.50L352.00 724.25L350.25 722.50Z" fill="#000"/>
<path d="M356.25 720.75L358.00 722.50L356.25 724.25L354.50 722.50Z" fill="#000"/>
<path d="M354.50 727.00L356.25 728.75L354.50 730.50L352.75 728.75Z" fill="#000"/>
<path d="M421.25 737.00L423.00 738.75L421.25 740.50L419.50 738.75Z" fill="#000"/>
<path d="M424.50 736.25L426.25 738.00L424.50 739.75L422.75 738.00Z" fill="#000"/>
<path d="M427.00 735.25L428.75 737.00L427.00 738.75L425.25 737.00Z" fill="#000"/>
<path d="M421.25 742.00L423.00 743.75L421.25 745.50L419.50 743.75Z" fill="#000"/>
<path d="M427.00 742.00L428.75 743.75L427.00 745.50L425.25 743.75Z" fill="#000"/>
<path d="M422.50 746.25L424.25 748.00L422.50 749.75L420.75 748.00Z" fill="#000"/>
<circle cx="367.50" cy="678.75" r="1.95" fill="#000"/>
<circle cx="365.50" cy="682.50" r="1.95" fill="#000"/>
<circle cx="370.00" cy="682.50" r="1.95" fill="#000"/>
<circle cx="366.25" cy="686.25" r="1.95" fill="#000"/>
<circle cx="370.00" cy="687.50" r="1.95" fill="#000"/>
<circle cx="372.50" cy="686.25" r="1.95" fill="#000"/>
<circle cx="367.50" cy="688.75" r="1.95" fill="#000"/>
<circle cx="371.25" cy="689.25" r="1.95" fill="#000"/>
<circle cx="439.25" cy="693.00" r="1.95" fill="#000"/>
<circle cx="439.25" cy="716.25" r="1.95" fill="#000"/>
<circle cx="436.25" cy="723.25" r="1.95" fill="#000"/>
<circle cx="439.50" cy="724.25" r="1.95" fill="#000"/>
<circle cx="443.00" cy="725.00" r="1.95" fill="#000"/>
<circle cx="439.50" cy="730.00" r="1.95" fill="#000"/>
<circle cx="383.75" cy="739.50" r="1.45" fill="#fff" stroke="#000" stroke-width="1.1"/>
<circle cx="381.25" cy="743.00" r="1.45" fill="#fff" stroke="#000" stroke-width="1.1"/>
<circle cx="386.25" cy="743.75" r="1.45" fill="#fff" stroke="#000" stroke-width="1.1"/>
<circle cx="380.00" cy="746.25" r="1.45" fill="#fff" stroke="#000" stroke-width="1.1"/>
<circle cx="383.75" cy="747.00" r="1.45" fill="#fff" stroke="#000" stroke-width="1.1"/>
<circle cx="387.50" cy="747.50" r="1.45" fill="#fff" stroke="#000" stroke-width="1.1"/>
<circle cx="381.25" cy="750.00" r="1.45" fill="#fff" stroke="#000" stroke-width="1.1"/>
<circle cx="385.00" cy="750.50" r="1.45" fill="#fff" stroke="#000" stroke-width="1.1"/>
<circle cx="454.50" cy="747.50" r="1.45" fill="#fff" stroke="#000" stroke-width="1.1"/>
<circle cx="452.50" cy="751.25" r="1.45" fill="#fff" stroke="#000" stroke-width="1.1"/>
<circle cx="456.25" cy="751.25" r="1.45" fill="#fff" stroke="#000" stroke-width="1.1"/>
<circle cx="451.25" cy="754.50" r="1.45" fill="#fff" stroke="#000" stroke-width="1.1"/>
<circle cx="454.50" cy="753.75" r="1.45" fill="#fff" stroke="#000" stroke-width="1.1"/>
<circle cx="458.00" cy="754.50" r="1.45" fill="#fff" stroke="#000" stroke-width="1.1"/>
<path d="M399.50 703.85L401.78 707.81L397.22 707.81Z" fill="#fff" stroke="#000" stroke-width="0.9"/>
<path d="M396.25 705.60L398.53 709.56L393.97 709.56Z" fill="#fff" stroke="#000" stroke-width="0.9"/>
<path d="M402.00 706.35L404.28 710.31L399.72 710.31Z" fill="#fff" stroke="#000" stroke-width="0.9"/>
<path d="M397.50 708.85L399.78 712.81L395.22 712.81Z" fill="#fff" stroke="#000" stroke-width="0.9"/>
<path d="M400.50 708.10L402.78 712.06L398.22 712.06Z" fill="#fff" stroke="#000" stroke-width="0.9"/>
<path d="M398.75 711.35L401.03 715.31L396.47 715.31Z" fill="#fff" stroke="#000" stroke-width="0.9"/>
<path d="M469.50 728.85L471.78 732.81L467.22 732.81Z" fill="#fff" stroke="#000" stroke-width="0.9"/>
<path d="M468.00 732.60L470.28 736.56L465.72 736.56Z" fill="#fff" stroke="#000" stroke-width="0.9"/>
<path d="M471.25 733.10L473.53 737.06L468.97 737.06Z" fill="#fff" stroke="#000" stroke-width="0.9"/>
<path d="M466.25 735.60L468.53 739.56L463.97 739.56Z" fill="#fff" stroke="#000" stroke-width="0.9"/>
<path d="M472.50 735.60L474.78 739.56L470.22 739.56Z" fill="#fff" stroke="#000" stroke-width="0.9"/>
<line x1="344" y1="672.2" x2="344" y2="758.4" stroke="#000" stroke-width="1.8"/>
<line x1="343.1" y1="757.5" x2="480" y2="757.5" stroke="#000" stroke-width="1.8"/>
<line x1="337" y1="757.5" x2="344" y2="757.5" stroke="#000" stroke-width="1.4"/>
<text x="330.13" y="761.10" font-size="8.7" font-weight="bold" textLength="5.07" lengthAdjust="spacingAndGlyphs">0</text>
<line x1="337" y1="736.375" x2="344" y2="736.375" stroke="#000" stroke-width="1.4"/>
<text x="325.06" y="739.98" font-size="8.7" font-weight="bold" textLength="10.14" lengthAdjust="spacingAndGlyphs">10</text>
<line x1="337" y1="715.25" x2="344" y2="715.25" stroke="#000" stroke-width="1.4"/>
<text x="325.06" y="718.85" font-size="8.7" font-weight="bold" textLength="10.14" lengthAdjust="spacingAndGlyphs">20</text>
<line x1="337" y1="694.125" x2="344" y2="694.125" stroke="#000" stroke-width="1.4"/>
<text x="325.06" y="697.73" font-size="8.7" font-weight="bold" textLength="10.14" lengthAdjust="spacingAndGlyphs">30</text>
<line x1="337" y1="673.0" x2="344" y2="673.0" stroke="#000" stroke-width="1.4"/>
<text x="325.06" y="676.60" font-size="8.7" font-weight="bold" textLength="10.14" lengthAdjust="spacingAndGlyphs">40</text>
<line x1="375.75" y1="757.5" x2="375.75" y2="764.3" stroke="#000" stroke-width="1.5"/>
<line x1="447" y1="757.5" x2="447" y2="764.3" stroke="#000" stroke-width="1.5"/>
<text x="315.3" y="769.2" font-size="11.8" font-weight="bold" transform="rotate(-90 315.3 769.2)">% FOXP3<tspan font-size="8.6" dy="-5.6">+</tspan><tspan dy="5.6"> of CD4</tspan><tspan font-size="8.6" dy="-5.6">+</tspan></text>
<text x="376.6" y="777.5" font-size="11.8" font-weight="bold" text-anchor="middle">Spleen</text>
<text x="447" y="777.5" font-size="11.8" font-weight="bold" text-anchor="middle">Lung</text>
<line x1="349.5" y1="625.75" x2="401.25" y2="625.75" stroke="#000" stroke-width="1.4"/>
<polygon points="367.05,614.30 366.49,615.58 365.10,615.42 365.93,616.55 365.10,617.67 366.49,617.52 367.05,618.80 367.61,617.52 369.00,617.67 368.18,616.55 369.00,615.42 367.61,615.58" fill="#000"/>
<polygon points="372.75,614.30 372.19,615.58 370.80,615.42 371.62,616.55 370.80,617.67 372.19,617.52 372.75,618.80 373.31,617.52 374.70,617.67 373.88,616.55 374.70,615.42 373.31,615.58" fill="#000"/>
<polygon points="378.45,614.30 377.89,615.58 376.50,615.42 377.32,616.55 376.50,617.67 377.89,617.52 378.45,618.80 379.01,617.52 380.40,617.67 379.57,616.55 380.40,615.42 379.01,615.58" fill="#000"/>
<line x1="350.5" y1="645.5" x2="371.25" y2="645.5" stroke="#000" stroke-width="1.4"/>
<polygon points="351.45,634.05 350.89,635.33 349.50,635.17 350.32,636.30 349.50,637.42 350.89,637.27 351.45,638.55 352.01,637.27 353.40,637.42 352.57,636.30 353.40,635.17 352.01,635.33" fill="#000"/>
<polygon points="357.15,634.05 356.59,635.33 355.20,635.17 356.02,636.30 355.20,637.42 356.59,637.27 357.15,638.55 357.71,637.27 359.10,637.42 358.27,636.30 359.10,635.17 357.71,635.33" fill="#000"/>
<polygon points="362.85,634.05 362.29,635.33 360.90,635.17 361.73,636.30 360.90,637.42 362.29,637.27 362.85,638.55 363.41,637.27 364.80,637.42 363.98,636.30 364.80,635.17 363.41,635.33" fill="#000"/>
<polygon points="368.55,634.05 367.99,635.33 366.60,635.17 367.43,636.30 366.60,637.42 367.99,637.27 368.55,638.55 369.11,637.27 370.50,637.42 369.68,636.30 370.50,635.17 369.11,635.33" fill="#000"/>
<line x1="350.5" y1="664.25" x2="383.75" y2="664.25" stroke="#000" stroke-width="1.4"/>
<polygon points="357.45,652.80 356.89,654.08 355.50,653.92 356.32,655.05 355.50,656.17 356.89,656.02 357.45,657.30 358.01,656.02 359.40,656.17 358.57,655.05 359.40,653.92 358.01,654.08" fill="#000"/>
<polygon points="363.15,652.80 362.59,654.08 361.20,653.92 362.02,655.05 361.20,656.17 362.59,656.02 363.15,657.30 363.71,656.02 365.10,656.17 364.27,655.05 365.10,653.92 363.71,654.08" fill="#000"/>
<polygon points="368.85,652.80 368.29,654.08 366.90,653.92 367.73,655.05 366.90,656.17 368.29,656.02 368.85,657.30 369.41,656.02 370.80,656.17 369.98,655.05 370.80,653.92 369.41,654.08" fill="#000"/>
<polygon points="374.55,652.80 373.99,654.08 372.60,653.92 373.43,655.05 372.60,656.17 373.99,656.02 374.55,657.30 375.11,656.02 376.50,656.17 375.68,655.05 376.50,653.92 375.11,654.08" fill="#000"/>
<line x1="427" y1="645.75" x2="447.5" y2="645.75" stroke="#000" stroke-width="1.4"/>
<polygon points="427.85,634.30 427.29,635.58 425.90,635.42 426.72,636.55 425.90,637.67 427.29,637.52 427.85,638.80 428.41,637.52 429.80,637.67 428.97,636.55 429.80,635.42 428.41,635.58" fill="#000"/>
<polygon points="433.55,634.30 432.99,635.58 431.60,635.42 432.42,636.55 431.60,637.67 432.99,637.52 433.55,638.80 434.11,637.52 435.50,637.67 434.67,636.55 435.50,635.42 434.11,635.58" fill="#000"/>
<polygon points="439.25,634.30 438.69,635.58 437.30,635.42 438.12,636.55 437.30,637.67 438.69,637.52 439.25,638.80 439.81,637.52 441.20,637.67 440.38,636.55 441.20,635.42 439.81,635.58" fill="#000"/>
<polygon points="444.95,634.30 444.39,635.58 443.00,635.42 443.82,636.55 443.00,637.67 444.39,637.52 444.95,638.80 445.51,637.52 446.90,637.67 446.07,636.55 446.90,635.42 445.51,635.58" fill="#000"/>
<line x1="427" y1="664.25" x2="458.75" y2="664.25" stroke="#000" stroke-width="1.4"/>
<polygon points="438.40,652.80 437.84,654.08 436.45,653.92 437.27,655.05 436.45,656.17 437.84,656.02 438.40,657.30 438.96,656.02 440.35,656.17 439.52,655.05 440.35,653.92 438.96,654.08" fill="#000"/>
<polygon points="444.10,652.80 443.54,654.08 442.15,653.92 442.98,655.05 442.15,656.17 443.54,656.02 444.10,657.30 444.66,656.02 446.05,656.17 445.23,655.05 446.05,653.92 444.66,654.08" fill="#000"/>
<rect x="8.20" y="803.70" width="8.80" height="8.30" fill="#fff" stroke="#000" stroke-width="1.4"/>
<text x="23.7" y="814.4" font-size="12">Control</text>
<rect x="71.30" y="803.00" width="9.20" height="8.50" fill="#a2a2a2" stroke="none" stroke-width="0"/>
<text x="87.2" y="808.8" font-size="12">Lgp130xCD4CreER<tspan font-size="8" dy="-4.3">T2</tspan></text>
<text x="87.2" y="821.6" font-size="12">(ZsGreen<tspan font-size="8" dy="-4.3">-</tspan><tspan dy="4.3">)</tspan></text>
<rect x="209.10" y="803.50" width="8.60" height="8.30" fill="#4a7d35" stroke="#2f6a20" stroke-width="0.8"/>
<text x="223.6" y="808.8" font-size="12">Lgp130xCD4CreER<tspan font-size="8" dy="-4.3">T2</tspan></text>
<text x="223.6" y="821.6" font-size="12">(ZsGreen<tspan font-size="8" dy="-4.3">+</tspan><tspan dy="4.3">)</tspan></text>
<rect x="347.10" y="803.20" width="8.60" height="8.50" fill="#d0d0d6" stroke="#4a8a2a" stroke-width="2"/>
<text x="361.4" y="808.8" font-size="12">Lgp130xCD4CreER<tspan font-size="8" dy="-4.3">T2</tspan></text>
<text x="361.4" y="821.6" font-size="12">(Total)</text>
</svg></body></html>
